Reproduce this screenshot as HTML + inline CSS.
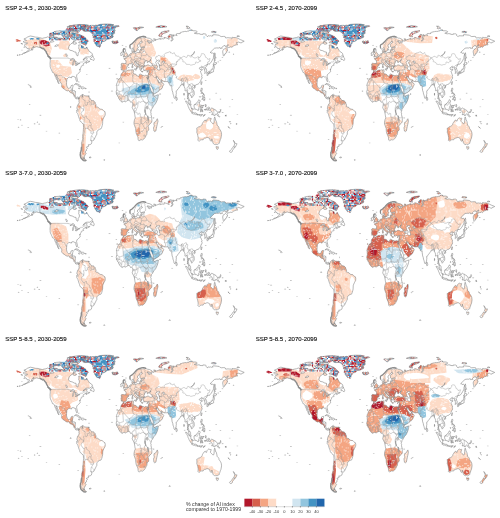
<!DOCTYPE html>
<html><head><meta charset="utf-8"><title>Aridity index change maps</title>
<style>
html,body{margin:0;padding:0;background:#fff;}
body{width:500px;height:518px;position:relative;overflow:hidden;}
.t{font-family:"Liberation Sans",Arial,sans-serif;font-size:6.05px;fill:#1a1a1a;stroke:#1a1a1a;stroke-width:0.16px;}
.l{font-family:"Liberation Sans",Arial,sans-serif;font-size:4.0px;fill:#333;}
.c{font-family:"Liberation Sans",Arial,sans-serif;font-size:5.2px;fill:#333;}
</style></head><body>
<svg width="500" height="518" viewBox="0 0 500 518" style="position:absolute;left:0;top:0">
<defs>
<clipPath id="l180"><rect x="-182" y="-90" width="362" height="180"/></clipPath>
<filter id="soft" x="-5%" y="-5%" width="110%" height="110%"><feGaussianBlur stdDeviation="0.9 0.55"/></filter>
<clipPath id="lc"><path d="M-168 65.6 -166 66.3 -162.5 66.9 -164.5 67.8 -166.8 68.3 -163 69.4 -161 70.3 -156.5 71.4 -152 70.9 -148.5 70.3 -144 70.1 -141 69.6 -137 69 -134 69.5 -131 69.8 -128 70.6 -125 69.5 -121 69.8 -117 69 -114 68.3 -110 68 -106 68.8 -102 67.8 -98 67.8 -96 68.5 -95 71.8 -93 71 -91.5 69.5 -89 68.6 -87 67.3 -85 68.5 -85 69.8 -82 69.5 -81.5 68 -83 66.3 -86 66.5 -87.5 64.5 -90.5 63.5 -92.5 62.2 -94 60.5 -94.5 58.8 -92.5 57 -88.5 56.5 -85 55.3 -82.3 55 -82 53 -80.5 51.3 -79 51.5 -78.8 54 -77 55.5 -76.8 57.5 -78 58.8 -77.5 60.5 -78 62.3 -75 62.3 -72 61.3 -70 60.8 -69.5 59 -67.5 58.3 -65 60.3 -63.5 58.5 -61.5 56.5 -60 55.3 -57.5 54.5 -56 53.3 -55.8 52.2 -57.5 51.4 -60 50.2 -64 50.2 -66.5 50 -68.5 49.2 -71 47 -69 48.3 -65 49.2 -64.3 48.6 -65 47.9 -64.8 47 -64 46.2 -61.5 45.7 -60 46 -60.5 45.3 -63.5 44.6 -65.8 43.6 -66.2 44.5 -64.5 45.3 -66 45.2 -67 44.7 -69 44 -70.3 43.6 -70.7 42.7 -70 41.8 -71.2 41.5 -72.8 41.2 -74 40.6 -74.1 39.8 -75 38.9 -75.8 37.2 -76.3 37.9 -76.1 36.9 -75.5 35.3 -76.5 34.7 -77.9 33.9 -79.2 33.2 -80.8 32.2 -81.4 30.7 -81 29.3 -80.1 26.8 -80.3 25.3 -81.1 25.1 -81.8 26.1 -82.7 27.7 -82.7 29 -84 30.1 -85.3 29.7 -86.5 30.4 -88.5 30.4 -89.4 30.1 -89.3 29.1 -90.5 29.1 -92.2 29.6 -94 29.7 -95.3 28.8 -97 27.7 -97.4 26 -97.6 24.3 -97.7 22.5 -97.3 21 -96.4 19.5 -95 18.5 -94.2 18.2 -92.5 18.6 -91.2 18.6 -90.7 19.7 -90.3 21 -88.5 21.5 -87 21.5 -86.9 20.8 -87.6 19.5 -87.9 18.2 -88.3 16.5 -88.9 15.8 -87.5 15.8 -85.7 16 -84.2 15.8 -83.2 15 -83.4 13.5 -83.7 11.5 -83.4 10.5 -82.4 9.5 -81.3 8.8 -79.5 9.6 -78.2 9.2 -77.4 8.6 -77.9 7.3 -78.4 8 -79.2 8.9 -80.2 8.1 -80.4 7.4 -81.5 7.8 -82.9 8.1 -83.7 9 -85 9.8 -85.7 10.5 -85.7 11.2 -87 12.5 -87.8 13.3 -89.3 13.5 -91.4 13.9 -92.3 14.5 -93.9 15.9 -94.7 16.2 -96.5 15.7 -98.2 16.2 -99.9 16.8 -101.7 17.8 -103.5 18.3 -104.9 19.4 -105.7 20.4 -105.3 21.8 -105.7 22.8 -106.8 23.8 -108.4 25.2 -109.4 25.9 -109.7 27 -110.7 27.8 -111.5 28.8 -112.4 29.6 -113.1 31.2 -114.8 31.8 -114.6 30.5 -113.3 29 -112.2 27.2 -110.8 24.9 -110.3 24.1 -109.9 22.9 -110.6 23.5 -112.1 24.8 -112.3 26.2 -114.2 27.6 -114.7 29.1 -116 30.5 -116.8 31.8 -117.2 32.6 -117.8 33.6 -118.5 34 -120.5 34.5 -121 35.6 -122 36.9 -122.5 37.7 -123 38.2 -123.8 39.5 -124.2 40.5 -124.2 42 -124.4 43.3 -124 46.2 -124.1 47.5 -124.7 48.4 -123 48.1 -122.5 48.8 -123.2 49.4 -125 50.3 -127.5 51.2 -128 52.3 -130 54.2 -130.4 55.5 -132 56.5 -133.5 58 -135 59 -136.5 58.2 -138.5 59.2 -140.5 59.8 -143 60 -146 60.6 -148 60.2 -150 59.6 -151.7 59.2 -150.4 61.2 -152.5 60.2 -154 59 -154 58 -156 57 -158.5 56 -161 55.3 -163.5 54.8 -162 55.8 -159 57 -157.5 58.5 -159 58.7 -161.5 58.6 -162.5 60 -164.7 60.4 -165.3 61.3 -165.7 62.3 -164.5 63.2 -161.5 63.6 -160.9 64.5 -163 64.5 -165 64.5 -166.5 64.7 -168 65.6ZM-77.4 8.6 -76.9 8.4 -76.2 9.5 -75.6 10.5 -74.8 11 -73.6 11.3 -72.2 11.9 -71.3 12.4 -71.8 11.4 -71.9 10.2 -71.2 9.1 -71.5 10.9 -70.2 11.6 -69.7 11.5 -68.3 10.8 -66.2 10.6 -64.3 10.5 -62 10.7 -61.8 9.8 -60.7 8.5 -59.8 8.3 -58.5 7.1 -57.2 6 -55.5 5.9 -54 5.8 -52.5 5 -51.5 4.2 -51 3 -50 1.8 -49.9 1 -50.5 0 -48.5 -0.7 -47.8 -0.6 -46 -1.1 -44.5 -2.4 -42.5 -2.8 -41 -2.9 -39.5 -3.1 -38.3 -3.9 -37 -4.9 -35.5 -5.2 -34.9 -7 -35.1 -8.8 -35.8 -9.7 -37.2 -11.2 -38.1 -12.6 -38.9 -13.6 -39.1 -15.5 -39.2 -17.5 -39.8 -19.3 -40.6 -21.1 -41.8 -22.8 -43.2 -23 -44.6 -23.3 -46.5 -24 -47.8 -25 -48.6 -26 -48.6 -28.2 -49.6 -29.3 -50.6 -30.6 -51.6 -31.8 -52.6 -33.2 -53.6 -34.3 -54.9 -34.9 -56.2 -34.9 -57.6 -34.4 -58.4 -34 -58.3 -34.8 -57.2 -35.5 -56.8 -36.5 -57.6 -38.1 -59.2 -38.7 -61.3 -39 -62.3 -38.8 -62.1 -40.6 -65 -41 -65 -42.1 -63.8 -42.5 -64.4 -42.9 -65.3 -43.5 -65.2 -44.7 -66.6 -45 -67.6 -46.3 -66.6 -47.1 -65.9 -47.8 -67.1 -48.7 -67.8 -49.9 -68.9 -50.3 -69.2 -51.6 -68.6 -52.3 -69.4 -52.5 -70.5 -53.1 -70.9 -53.6 -72.2 -53.3 -71.1 -54.1 -69 -54.6 -67.5 -54.9 -66.5 -55 -65.3 -54.7 -66.5 -54.4 -68.4 -53.1 -68.6 -52.6 -70 -52.4 -71.8 -53.5 -73.5 -53.2 -74.7 -52.2 -75.3 -50.5 -75.5 -48.5 -74.7 -46.7 -75.6 -46.6 -74.3 -45.7 -73.2 -44.3 -73.6 -43.4 -73.8 -42.2 -73.6 -41.5 -73.2 -39.2 -73.5 -37.3 -72.6 -35.5 -71.7 -33.5 -71.4 -32.4 -71.5 -30.4 -71.4 -28.8 -70.9 -27.6 -70.6 -25.5 -70.4 -23.6 -70.1 -21.4 -70.4 -18.3 -71.4 -17.7 -72.5 -16.6 -74 -15.7 -75.2 -15.3 -76.1 -14.3 -76.4 -13.2 -77.1 -12.1 -78.1 -10.4 -79.2 -8 -79.8 -7.2 -81.2 -6.1 -80.9 -5.6 -81.3 -4.2 -80.3 -3.4 -79.8 -2.5 -80.9 -2.2 -80.7 -0.9 -80.1 0.3 -80 1 -79 1.4 -78.6 2.4 -77.9 2.7 -77.1 3.9 -77.5 4.7 -77.3 6.6 -77.9 7.2 -77.4 8.6ZM-5.9 35.8 -5.3 35.9 -4.4 35.2 -2.2 35.1 -1.2 35.7 0.5 36.3 1.5 36.6 3.2 36.8 5.3 36.7 7 37.1 8.4 36.9 9.5 37.3 10.2 37.2 11.1 36.9 10.6 36.4 10.8 35.7 11.1 35.2 10.3 34.3 10.1 33.8 11.1 33.3 12.1 32.9 13.1 32.9 15.2 32.3 15.7 31.4 17.5 30.9 19 30.3 19.6 30.5 20.1 31.2 19.9 31.8 20.6 32.6 21.5 32.9 22.9 32.6 23.2 32.2 24.9 31.9 25.2 31.6 27 31.4 28.9 30.9 30.1 31.5 31 31.6 32.2 31.3 33.8 31 34.3 31.2 34.9 29.5 34.4 28.3 34.2 27.8 33.9 27.6 32.7 29.9 32.3 29.8 33.1 28.4 33.9 27.2 34.5 26 35.5 24.2 35.7 23.2 36.9 22 37.2 21 37.1 19.8 37.5 18.6 38.4 18 38.9 16.8 39.3 15.9 39.8 15.4 41.2 14.5 42.3 13.3 43.3 12.4 43.1 11.5 44.6 10.4 46.6 10.8 48.9 11.4 50.3 11.7 51.2 11.8 51.1 10.6 50.8 10.3 50.6 9.2 49.5 6.8 47.7 4.2 46.6 2.9 45.6 2.1 44.1 1.1 42.8 -0.3 41.8 -1.4 41 -2.1 40.1 -2.8 39.6 -4.3 39.2 -4.7 38.7 -6 39.4 -6.8 39.2 -8 39.3 -8.5 39.9 -10.1 40.5 -10.8 40.4 -11.8 40.6 -14.2 40.7 -14.7 40.1 -16.1 39.4 -16.7 37.4 -17.6 36.3 -18.7 34.8 -19.8 34.7 -20.5 35.2 -21.3 35.4 -22.1 35.6 -23.7 35.4 -24.1 33 -25.4 32.6 -25.7 32.9 -26.2 32.6 -27.5 32.2 -28.8 31.3 -29.4 30.1 -31.1 28.9 -32.2 28.2 -32.8 26.4 -33.6 25.7 -34 24.7 -34 23.6 -33.8 22.6 -33.9 21.5 -34.3 20.1 -34.8 19.6 -34.8 19.2 -34.5 18.9 -34.4 18.4 -34.1 18.4 -33.3 18.2 -32.4 18.2 -31.7 17.6 -30.7 17.1 -29.9 16.3 -28.6 15.6 -27.8 15.2 -27.1 14.7 -25.4 14.4 -22.7 14.3 -22.1 13.4 -20.9 12.8 -19.7 11.8 -18.1 11.7 -17.3 11.6 -16.7 12.2 -14.4 12.5 -13.5 13.6 -12 13.7 -11.3 13.2 -9.8 13 -9 12.9 -8.4 12.3 -6.1 12.2 -5.8 11.9 -5 11.1 -4 10.1 -3 9.4 -2.1 8.8 -1.1 9 -0.5 9.3 0.3 9.5 1 9.8 2.3 9.4 3.7 8.9 4 8.5 4.5 7.5 4.4 7 4.4 6 4.3 5.4 5.1 4.9 6 4.3 6.3 3.6 6.3 2.7 6.3 1.9 6.1 1.1 5.9 -0.5 5.3 -1.1 5 -2 4.7 -2.9 5 -3.3 5 -4 5.2 -4.6 5.2 -5.8 5 -7.5 4.3 -7.7 4.4 -9 4.8 -10.8 6.1 -11.4 6.8 -12.4 7.3 -12.9 7.8 -13.2 8.9 -13.7 9.5 -14.3 10 -14.6 10.2 -15.1 11 -15.7 11.5 -16.3 11.8 -16.6 12.2 -16.8 13.2 -16.7 13.6 -17.1 14.4 -17.6 14.7 -17.2 14.9 -16.7 15.6 -16.5 16.1 -16.1 17.5 -16.3 19.1 -16.4 19.6 -16.3 20.1 -16.5 20.6 -17.1 21 -16.8 21.3 -16.6 22.2 -16.3 22.7 -16 23.7 -15.4 24.4 -15.1 24.5 -14.8 25.1 -14.4 26.3 -13.8 26.6 -13.1 27.7 -12.6 28 -11.7 28.1 -10.9 28.8 -10.4 29.1 -9.6 29.9 -9.8 31.2 -9.4 32 -8.7 33.2 -7.7 33.7 -6.9 34.1 -6.2 35.1 -5.9 35.8ZM49.5 -12.5 50.1 -13.6 50.5 -15.2 50.2 -16 49.8 -17.1 49.4 -18 48.5 -20.5 47.9 -22.4 47.1 -24.9 45.4 -25.6 44 -25 43.7 -23.6 43.3 -22.1 43.4 -21.3 44.4 -20.1 44.5 -19.4 44 -18.3 44.1 -17 44.4 -16.2 46.3 -15.8 47.7 -14.6 48 -14.1 48.8 -13.1 49.5 -12.5ZM-5.6 36 -6.3 36.6 -7.5 37.2 -9 37 -8.8 38.3 -9.5 38.7 -9.4 39.4 -8.8 40.8 -8.8 42 -9.3 43 -8 43.7 -6 43.6 -4 43.4 -1.8 43.4 -1.3 44.6 -1.2 46 -2.2 47.1 -4.5 47.9 -4.7 48.6 -3 48.8 -1.6 48.6 -1.6 49.7 -0.2 49.3 1.3 50.1 1.6 50.9 2.5 51.1 3.6 51.4 4.3 52 4.7 52.9 5.4 53.4 7 53.5 8 53.5 8.5 53.9 8.7 55.1 8.2 55.9 8.1 56.8 8.8 57.1 10.6 57.7 10.3 57 10.9 56.4 10.1 55.6 9.6 55.1 10.9 54.4 11 54 12.3 54.2 13.6 54.2 14.2 53.9 16 54.3 17.3 54.7 18.6 54.7 19.5 54.4 19.9 54.9 21.2 55.2 21.1 56 21.1 56.8 21.6 57.4 22.6 57.8 23.3 57 24.1 57 24.4 57.9 23.5 58.6 23.4 59.2 24.6 59.5 26 59.6 28 59.5 29.1 60 28 60.5 26.3 60.4 24.5 60.1 22.9 59.8 22.3 60.4 21.3 60.7 21.5 61.7 21.1 62.6 21.5 63.2 22.4 63.8 24.7 64.9 25.4 65.1 25.3 65.5 24.3 65.8 23.9 66 22.2 65.7 21.2 65 21.4 64.4 19.8 63.6 17.8 62.7 17.1 61.3 17.8 60.6 18.8 60.1 17.9 59 16.8 58.7 16.4 57 15.9 56.1 14.7 56.2 14.1 55.4 12.9 55.4 12.6 56.3 11.8 57.4 11 58.9 10.4 59.5 8.4 58.3 7 58.1 5.7 58.6 5.3 59.7 5 62 5.9 62.6 8.6 63.5 10.5 64.5 12.4 65.9 14.8 67.8 16.4 68.6 19.2 69.8 21.4 70.3 23 70.2 24.6 71 26.4 71 28.2 71.2 31.3 70.5 30 70.2 31.1 69.6 32.1 69.9 33.8 69.3 36.5 69.1 40.3 67.9 41.1 67.5 41.1 66.8 40 66.3 38.4 66 33.9 66.8 32.5 66.1 34.8 65.9 34.9 64.4 37 63.8 37.1 64.3 36.5 64.8 37.2 65.1 39.6 64.5 40.4 64.8 39.8 65.5 42.1 66.5 43.9 66.1 44.5 66.8 43.7 67.4 44.2 68 43.5 68.6 46.3 68.3 46.8 67.7 45.6 67.6 45.6 67 47 66.9 48 67.7 50.2 68 53.7 68.9 54.5 68.8 53.5 68.2 54.7 68.1 55.4 68.4 57.3 68.5 58.8 68.9 59.9 68.3 61.1 68.9 60 69.5 60.6 69.9 63.5 69.5 64.9 69.2 68.5 68.1 69.2 68.6 68.2 69.1 68.1 69.4 66.9 69.5 67.3 70 66.7 70.7 66.7 71 68.5 71.9 69.2 72.8 69.9 73 72.6 72.8 72.8 72.2 71.8 71.4 72.5 71.1 72.8 70.4 72.6 69 73.7 68.4 73.2 67.7 71.3 66.3 72.4 66.2 72.8 66.5 73.9 66.8 74.2 67.3 75 67.8 74.5 68.3 74.9 69 73.8 69.1 73.6 69.6 74.4 70.6 73.1 71.4 74.9 72.1 74.7 72.8 75.2 72.9 75.7 72.3 75.3 71.3 76.4 71.2 75.9 71.9 77.6 72.3 79.7 72.3 81.5 71.8 80.6 72.6 80.5 73.6 82.3 73.9 84.7 73.8 86.8 73.9 86 74.5 87.2 75.1 88.3 75.1 90.3 75.6 92.9 75.8 93.2 76 95.9 76.1 96.7 75.9 98.9 76.4 100.8 76.4 101 76.9 102 77.3 104.4 77.7 106.1 77.4 104.7 77.1 106.9 77 107.2 76.5 108.2 76.7 111.1 76.7 113.3 76.2 114.1 75.8 113.9 75.3 112.8 75 110.2 74.5 109.4 74.2 110.6 74 112.1 73.8 113 74 113.5 73.3 114 73.6 115.6 73.8 118.8 73.6 119 73.1 123.2 73 123.3 73.7 125.4 73.6 127 73.6 128.6 73 129.1 72.4 128.5 72 129.7 71.2 131.3 70.8 132.3 71.8 133.9 71.4 135.6 71.7 137.5 71.3 138.2 71.6 139.9 71.5 139.1 72.4 140.5 72.8 149.5 72.2 150.4 71.6 153 70.8 157 71 159 70.9 159.8 70.5 159.7 69.7 160.9 69.4 162.3 69.6 164.1 69.7 165.9 69.5 167.8 69.6 169.6 68.7 170.8 69 170 69.7 170.5 70.1 173.6 69.8 175.7 69.9 178.6 69.4 180 69 182 68.4 184.5 67.6 187.5 66.9 190.3 66.1 188.5 65.5 187 65.4 186 64.4 183.5 64.6 181.5 65.3 180 64.9 178.7 64.5 177.4 64.6 178.3 64.1 178.9 63.3 179.4 63 179.2 62.3 177.4 62.5 174.6 61.8 173.7 61.7 172.2 61 170.7 60.3 170.3 59.9 168.9 60.6 166.3 59.8 165.8 60.2 164.9 59.7 163.5 59.9 163.2 59.2 162 58.2 162 57.8 163.2 57.6 163.1 56.2 162.1 56.1 161.7 55.3 162.1 54.9 160.4 54.3 160 53.2 158.5 53 158.2 51.9 156.8 51 156.4 51.7 156 53.2 155.4 55.4 155.9 56.8 156.8 57.4 156.8 57.8 158.4 58.1 160.2 59.3 161.9 60.3 163.7 61.1 164.5 62.6 163.3 62.5 162.7 61.6 160.1 60.5 159.3 61.8 156.7 61.4 154.2 59.8 155 59.1 152.8 58.9 151.3 58.8 151.3 59.5 149.8 59.7 148.5 59.2 145.5 59.3 142.2 59 139 57.1 135.1 54.7 136.7 54.6 137.2 54 138.2 53.8 138.8 54.3 139.9 54.2 141.3 53.1 141.4 52.2 140.6 51.2 140.5 50 140.1 48.4 138.6 47 138.2 46.3 136.9 45.1 135.5 44 134.9 43.4 133.5 42.8 132.9 42.8 132.3 43.3 130.8 42.2 130.8 42.2 130.4 42.3 130 41.9 129.7 41 129.7 40.9 129.2 40.7 128.6 40.2 128 39.9 127.5 39.8 127.5 39.3 127.4 39.2 128.3 38.6 128.5 37.7 129.2 37.4 129.5 36.8 129.5 35.6 129.1 35.1 128.2 35 127.4 34.5 126.5 34.4 126.4 34.9 126.6 35.7 126.1 36.7 126.9 36.9 126.2 37.7 125.7 37.9 125 37.7 124.7 38.1 125.2 38.7 125.1 38.8 125.4 39.4 125.3 39.6 124.7 39.7 124.3 39.9 122.9 39.6 122.1 39.2 121.1 38.9 121.6 39.4 121.4 39.8 122.2 40.4 121.6 40.9 120.8 40.6 119.6 39.9 119 39.3 118 39.2 117.5 38.7 118.1 38.1 118.9 37.9 118.9 37.4 119.7 37.2 120.8 37.9 121.7 37.5 122.4 37.5 122.5 36.9 121.1 36.7 120.6 36.1 119.7 35.6 119.2 34.9 120.2 34.4 120.6 33.4 121.2 32.5 121.9 31.7 121.9 30.9 121.3 30.7 121.5 30.1 122.1 29.8 121.9 29 121.7 28.2 121.1 28.1 120.4 27.1 119.6 25.7 119 25 118.7 24.5 117.3 23.6 115.9 22.8 114.8 22.7 114.2 22.2 113.8 22.5 113.2 22.1 111.8 21.6 110.8 21.4 110.4 20.3 109.9 20.3 109.6 21 109.9 21.4 108.5 21.7 108.1 21.6 106.7 20.7 105.9 19.8 105.7 19.1 106.4 18 107.4 16.7 108.3 16.1 108.9 15.3 109.3 13.4 109.2 11.7 108.4 11 107.2 10.4 106.4 9.5 105.2 8.6 104.8 9.2 105.1 9.9 104.3 10.5 103.5 10.6 103.1 11.2 102.6 12.2 102.3 13.4 101 12.7 101 13.4 100.1 13.4 100 12.3 99.2 10 99.2 9.2 99.9 9.2 100.3 8.3 100.5 7.4 101 6.9 101.6 6.7 102.1 6.2 103 5.5 103.4 4.9 103.4 4.2 103.3 3.7 103.5 2.8 103.9 2.5 104.2 1.6 104.2 1.3 103.5 1.2 102.6 2 101.4 2.8 101.3 3.3 100.7 3.9 100.6 4.8 100.2 5.3 100.3 6 100.1 6.5 99.7 6.8 99.5 7.3 99 7.9 98.5 8.4 98.3 7.8 98.2 8.4 98.3 9 98.6 9.9 98.5 10.7 98.8 11.4 98.4 12 98.5 13.1 98.1 13.6 97.8 14.8 97.6 16.1 97.2 16.9 96.5 16.4 95.4 15.7 94.8 15.8 94.2 16 94.5 17.3 94.3 18.2 93.5 19.4 93.7 19.7 93.1 19.9 92.4 20.7 92.1 21.2 92 21.7 91.8 22.2 91.4 22.8 90.5 22.8 90.6 22.4 90.3 21.8 89.8 22 89.7 21.9 89.4 22 89 22.1 88.9 21.7 88.2 21.7 87 21.5 87 20.7 86.5 20.2 85.1 19.5 84 18.3 83.2 17.7 82.2 17 82.2 16.6 81.7 16.3 80.8 15.9 80.3 15.9 80 15.1 80.2 13.8 80.3 13 79.9 12.1 79.9 10.4 79.3 10.3 78.9 9.6 79.2 9.2 78.3 8.9 77.9 8.3 77.5 8 76.6 8.9 76.1 10.3 75.7 11.3 75.4 11.8 74.9 12.7 74.6 14 74.4 14.6 73.5 16 73.1 17.9 72.8 19.2 72.8 20.4 72.6 21.4 71.2 20.8 70.5 20.9 69.2 22.1 69.6 22.5 69.3 22.8 68.2 23.7 67.4 23.9 67.1 24.7 66.4 25.4 64.5 25.2 62.9 25.2 61.5 25.1 59.6 25.4 58.5 25.6 57.4 25.7 57 27 56.5 27.1 55.7 27 54.7 26.5 53.5 26.8 52.5 27.6 51.5 27.9 50.9 28.8 50.1 30.1 49.6 30 48.9 30.3 48.6 29.9 48 30 48.2 28.5 48.8 27.7 49.3 27.5 49.5 27.1 50.2 26.7 50.1 25.9 50.2 25.6 50.5 25.3 50.7 25.5 51 26 51.3 26.1 51.6 25.8 51.6 25.2 51.4 24.6 51.8 24 52.6 24.2 54 24.1 54.7 24.8 55.4 25.4 56.1 26.1 56.4 26.4 56.5 26.3 56.4 25.9 56.3 25.7 56.4 24.9 56.9 24.2 57.4 23.9 58.1 23.7 58.7 23.6 59.5 22.7 59.8 22.5 59.8 22.3 59.3 21.4 58.9 21.1 58.5 20.4 58 20.5 57.8 20.2 57.7 19.7 57.8 19.1 57.7 18.9 57.2 18.9 56.6 18.6 56.5 18.1 56.3 17.9 55.7 17.9 55.3 17.6 55.3 17.2 54.8 16.9 54.2 17 53.6 16.7 53.1 16.7 52.4 16.4 52.2 15.9 52.2 15.6 51.2 15.2 49.6 14.7 48.7 14 48.2 13.9 47.9 14 47.4 13.6 46.7 13.4 45.9 13.3 45.6 13.3 45.4 13 45.1 12.9 45 12.7 44.5 12.7 44.2 12.6 43.5 12.6 43.2 13.2 43.3 13.8 43.1 14.1 42.9 14.8 42.6 15.2 42.8 15.3 42.7 15.7 42.8 15.9 42.8 16.3 42.6 16.8 42.3 17.1 42.3 17.5 41.8 17.8 41.2 18.7 40.9 19.5 40.2 20.2 39.8 20.3 39.1 21.3 39 22 39.1 22.6 38.5 23.7 38 24.1 37.5 24.3 37.2 24.9 37.2 25.1 36.9 25.6 36.6 25.8 36.2 26.6 35.6 27.4 35.1 28.1 34.6 28.1 34.8 28.6 34.8 29 35 29.4 34.3 31.2 34.6 31.5 35 32.8 35.1 33.1 35.5 33.9 36 34.6 35.9 35.4 36.1 35.8 35.8 36.3 36.2 36.7 35.6 36.6 34.7 36.8 34 36.2 32.5 36.1 31.7 36.6 30.6 36.7 30.4 36.3 29.7 36.1 28.7 36.7 27.6 36.7 27 37.7 26.3 38.2 26.8 39 26.2 39.5 26.2 40.1 27.3 40.4 28.8 40.5 29.2 41.2 31.1 41.1 32.3 41.7 33.5 42 35.2 42 36.9 41.3 38.3 40.9 39.5 41.1 40.4 41 41.6 41.5 41.7 42 41.5 42.6 40.9 43 40.3 43.1 40 43.4 38.7 44.3 37.5 44.7 36.7 45.2 37.4 45.4 38.2 46.2 37.7 46.6 39.1 47.3 39.1 47 38.2 46.8 37.5 46.4 35.8 45.7 35 45.7 35 45 34 44.5 33.3 44.6 33.5 45 32.6 45.3 33.6 45.9 33.3 46.1 31.7 46.3 31.7 46.7 30.7 46.6 30.4 46 29.6 45.3 29.6 45 29.1 44.8 28.8 44.9 28.6 43.7 28 43.3 27.7 42.6 28 42 28.8 41.1 27.6 41 26.4 40.2 26 40.8 25.4 41 24.4 40.9 23.7 40.7 24 40.4 23.4 40 22.8 40.5 22.6 40.3 22.8 39.7 23.4 39.2 23 39 23.5 38.5 24 38.2 24 37.7 23.1 37.9 23.4 37.4 22.8 37.3 23.2 36.4 22.5 36.4 21.7 36.8 21.3 37.6 21.1 38.3 20.7 38.8 20.2 39.3 20.2 39.6 20 39.7 20 39.9 19.4 40.3 19.3 40.7 19.4 41.9 18.7 42.7 17.5 42.8 16.9 43.2 16 43.5 15.2 44.2 15.4 44.3 14.9 45.1 14.3 45.2 13.9 44.8 13.7 45.1 13.7 45.5 13.9 45.6 13.1 45.7 12.3 45.4 12.4 44.9 12.3 44.6 12.6 44.1 13.5 43.6 14 42.8 15.1 42 15.9 42 16.2 41.7 15.9 41.5 17.5 40.9 18.4 40.4 18.5 40.2 18.3 39.8 17.7 40.3 16.9 40.4 16.4 39.8 17.2 39.4 17.1 38.9 16.6 38.8 16.1 38 15.7 37.9 15.7 38.2 15.9 38.8 16.1 39 15.7 40 15 40.2 14.1 40.9 13.6 41.2 12.9 41.3 12.1 41.7 11.2 42.4 10.5 42.9 10.2 43.9 9.7 44 8.9 44.4 8.4 44.2 7.9 43.8 7.4 43.7 6.5 43.1 4.6 43.4 3.1 43.1 3 42.5 3 41.9 2.1 41.2 0.8 41 0.7 40.7 0.1 40.1 -0.3 39.3 0.1 38.7 -0.5 38.3 -0.7 37.6 -1.4 37.4 -2.1 36.7 -4.4 36.7 -5 36.3 -5.6 36ZM113.3 -22.1 113.5 -23.5 113.7 -24.7 113.4 -26.3 114.2 -27.5 115 -29.5 115.7 -31.6 115.7 -33.3 115 -34.3 116.6 -35 118 -35.1 119.8 -34 121.4 -33.8 123.7 -33.9 124.2 -33 125.1 -32.7 126.1 -32.2 127.1 -32.3 129.5 -31.6 131.3 -31.5 133 -32.1 134.3 -32.6 135.2 -34.5 135.6 -35 136.8 -35.3 137.7 -35.1 137.9 -34.4 137.5 -33.9 137.8 -32.9 138.2 -33.3 138.5 -34.4 138.2 -34.9 139.1 -35.5 139.6 -37 140.6 -38 141.9 -38.5 143.6 -38.8 144.6 -38.1 145.1 -38.4 146.3 -39 147.4 -38.2 148.9 -37.8 150 -37.4 150.1 -36.4 150.8 -35.3 151.6 -33.6 152.5 -32.4 153 -30.9 153.6 -28.6 153.1 -26.1 152.9 -25.7 151.6 -24.1 150.9 -23.5 149.5 -22.3 149.2 -21.2 148.5 -20.4 146.4 -19 146 -17.4 145.3 -15.4 144.7 -14.3 143.6 -14 143.6 -12.8 142.5 -10.7 142.1 -11.4 141.7 -12.4 141.6 -14 141.5 -15.8 141.1 -16.8 140.5 -17.6 139.3 -17.4 137.3 -16.2 135.8 -15.2 135.4 -14.7 136.3 -13.3 136.8 -12.2 136.5 -11.9 135.3 -12.2 133.6 -11.8 132.6 -11.6 131.6 -12.1 130.2 -13.1 129.6 -14.1 129.4 -14.9 128.1 -14.9 127.2 -13.8 126 -14.2 125.1 -14.6 124.4 -15.6 123.4 -16.3 122.5 -17.3 122.2 -18.2 121.3 -19.1 119.8 -19.9 118.6 -20.3 117.4 -20.7 116.4 -20.6 115.5 -21.2 114.6 -21.8 113.8 -22.2 113.3 -22.1ZM144.7 -40.7 146.4 -41.1 148.3 -40.9 148.3 -42 147.9 -43.2 146.9 -43.6 146 -43.5 145.4 -42.7 145 -42 144.7 -40.7ZM172.7 -34.4 173.6 -35 174.6 -36.2 175.3 -37.2 175.9 -37.5 177.4 -37.9 178.5 -37.7 178.1 -38.6 177.9 -39.2 177 -39.9 176.5 -40.6 175.9 -41.2 175.2 -41.7 174.7 -41.3 175.2 -40.5 174.6 -39.9 173.8 -39.5 173.9 -39 174.6 -38.8 174.7 -37.4 174.3 -36.7 173.8 -36.1 173.1 -35.2 172.7 -34.4ZM172.8 -40.5 173.7 -40.9 174.3 -41.4 174.2 -42.2 173.2 -43 172.7 -43.5 171.4 -44.4 170.8 -45.9 169.8 -46.4 168.4 -46.6 167 -46.2 166.5 -45.8 167.1 -45.1 168.4 -44.1 170.2 -43.1 170.9 -42.4 171.6 -41.8 172.1 -40.9 172.8 -40.5ZM131 -1.4 131.9 -0.7 133.3 -0.7 134.2 -1.1 134.4 -2.8 135.5 -3.4 136.3 -2.3 137.4 -1.7 138.3 -1.7 139.9 -2.4 141 -2.6 142.7 -3.3 144.6 -3.9 145.8 -4.9 146 -5.5 147.6 -6.1 147.9 -6.6 147 -7.4 148.1 -8 148.7 -9.1 149.7 -9.6 150.8 -10.3 150 -10.7 148.9 -10.3 147.1 -9.5 146 -8.1 144.7 -7.6 143.9 -7.9 143.3 -8.2 143.4 -9 142.6 -9.3 141 -9.1 140.1 -8.3 139.1 -8.1 138.9 -8.4 137.6 -8.4 138 -7.6 138.7 -7.3 138.4 -6.2 137.9 -5.4 136 -4.5 135.2 -4.5 133.7 -3.5 133 -4.1 132.8 -3.7 132 -2.8 133.1 -2.5 132.2 -2.2 131 -1.4ZM109.1 1.5 109.7 2 110.4 1.7 111.2 1.9 111.4 2.7 113 3.1 113.7 3.9 114.9 4.8 115.5 5.4 116.2 6.1 116.7 6.9 117.7 6.4 118.6 5.6 119.2 5.4 118.4 5 118.6 4.5 117.9 4.1 117.8 2.8 118.9 1.1 118 0.8 117.5 0.1 117.5 -0.8 116.6 -1.5 116.5 -2.5 116.1 -4 114.9 -4.1 114.5 -3.5 113.8 -3.4 113.3 -3.1 111.7 -3 111.3 -2.9 110.2 -2.9 110.1 -1.6 109.6 -1.3 109.1 -0.5 109 0.4 109.1 1.5ZM95.3 5.5 96.4 5.3 97.5 5.2 98.4 4.3 99.7 3.2 100.6 2.1 101.7 2.1 102.5 1.4 103.1 0.6 103.8 0 103.4 -0.7 104 -1.1 104.4 -1.1 104.9 -2.3 105.6 -2.4 106.1 -3.1 105.9 -4.3 105.8 -5.9 104.7 -5.9 103.9 -5 102.6 -4.2 102.2 -3.6 101.4 -2.8 100.9 -2.1 100.1 -0.7 99.3 0.2 99 1 98.6 1.8 97.7 2.5 97.2 3.3 96.4 3.9 95.4 5 95.3 5.5ZM105.2 -6.9 106.1 -6 107.3 -6 108.3 -6.3 108.5 -6.4 110.5 -6.9 110.8 -6.5 112.6 -6.9 112.9 -7.6 114.5 -7.8 114.5 -8.8 113.5 -8.3 112.6 -8.4 111.5 -8.3 110.6 -8.1 109.4 -7.7 108.7 -7.6 108.3 -7.8 106.5 -7.4 106.3 -6.9 105.4 -6.9 105.2 -6.9ZM125.1 1.6 124.4 0.4 123.7 0.2 122.7 0.4 121 0.4 120.2 0.2 120.1 -0.5 120.9 -1.4 121.5 -1 123.3 -0.6 123.3 -1.1 122.5 -0.9 121.5 -1.9 122.5 -3.2 122.3 -3.5 123.2 -4.7 123.2 -5.3 122.6 -5.6 122.2 -5.3 122.7 -4.5 121.7 -4.9 121.5 -4.6 121.6 -4.2 120.9 -3.6 121 -2.6 120.3 -2.9 120.4 -5.5 119.8 -5.7 119.4 -5.4 119.7 -4.5 119.5 -3.5 119.1 -3.5 118.8 -2.8 119.2 -2.1 119.3 -1.4 119.8 0.2 120 0.6 120.9 1.3 121.7 1 122.9 0.9 124.1 0.9 125.1 1.6ZM120.8 18.5 121.3 18.5 122.2 18.5 122.3 17.1 121.7 16 121.5 15.1 121.7 14.3 122.3 14.2 123.1 13.9 123.9 13.2 124.1 12.5 123.3 13 122.5 13.7 121.4 13.9 120.6 14.3 120.6 14.4 120.1 15 119.9 15.4 119.9 16.4 120.3 16 120.4 17.6 120.8 18.5ZM126.4 8.4 126.5 7.8 126.2 6.3 125.8 7 125.4 6.8 125.7 6.1 125.4 5.6 124.2 6.2 123.9 6.9 124.2 7.4 123.6 7.8 123.3 7.4 122.8 7.5 122.1 6.9 121.9 7.2 122.3 8 123.5 8.7 123.8 8.2 124.6 8.5 124.8 9 125.4 9 125.4 9.8 126.2 9.3 126.4 8.4ZM122 10.6 122.9 11 123.5 10.9 124.1 11.3 124.3 12.6 125 12.5 125.8 11 125 10 124 9.6 123.2 9.2 122.5 9.5 122 10.6ZM141.4 41.4 141.9 40 142 39.2 141.5 38.3 141 37.7 140.6 36.3 140.8 35.8 140.3 35.1 139.9 35.3 139.7 34.9 139 34.7 138.2 34.6 137.2 34.6 136.9 35 136.7 34.3 135.8 33.5 135.1 34 135.1 34.6 134.6 34.8 133.3 34.4 132.2 34 131 34 130.9 34.4 131.9 34.8 132.6 35.4 134.6 35.7 135.7 35.5 136.7 36.7 136.9 37.3 137.4 36.8 138.9 37.8 139.4 38.2 140 39.4 140.1 40.8 140.3 41.2 141.4 41.4ZM130.9 33.9 131.6 33.3 132 33.1 131.3 31.5 130.7 31 130.2 31.4 130.4 32.3 129.8 32.6 129.4 33.3 130.4 33.6 130.9 33.9ZM132.4 33.5 133.9 34.4 134.6 34.2 134.8 33.8 134.2 33.2 133.8 33.5 133 32.7 132.4 33.5ZM141.4 41.4 140.6 41.6 140 41.9 140.3 42.5 139.8 42.6 140.3 43.3 141.4 43.4 141.6 44.8 142 45.6 143.9 44.2 145.3 44.4 145.5 43.3 144.1 42.9 143.2 42 141.6 42.7 141 42 141.4 41.4ZM143.6 50.7 144.7 49 143.2 49.3 142.6 47.9 143.5 46.8 142.7 46.7 142.1 46 141.9 46.8 142 47.8 141.9 48.9 142.1 49.6 142.2 51 141.6 52.2 141.7 53.3 142.6 53.8 142.2 54.2 142.7 54.4 143.3 53.1 143.3 51.8 143.6 50.7ZM121.8 24.4 121.2 22.8 120.7 22 120.2 22.8 120.1 23.6 120.7 24.5 121.5 25.3 122 25 121.8 24.4ZM110.3 18.7 109.5 18.2 108.7 18.5 108.6 19.2 109.1 19.8 110.2 20.1 110.8 20.1 111 19.7 110.6 19.3 110.3 18.7ZM81.8 7.5 81.6 6.5 81.2 6.2 80.3 6 79.9 6.8 79.7 8.2 80.1 9.8 80.8 9.3 81.3 8.6 81.8 7.5ZM-5.7 50 -4.5 50.3 -3.4 50.6 -1.9 50.6 -0.8 50.8 1 51 1.4 51.3 0.6 51.6 1.7 52.7 0.6 52.9 0.2 53.4 -0.2 54.2 -1.1 54.6 -1.6 55.6 -2.5 56 -3 56 -2 56.7 -1.8 57.6 -3.1 57.7 -4 57.6 -3.1 58.6 -5 58.6 -5.6 57.5 -5.6 56.3 -6.2 56.3 -5.6 55.3 -5 55.1 -4.8 54.8 -3.6 54.6 -3.1 53.9 -3 53.4 -4.2 53.2 -4.6 52.8 -4.1 52.4 -5.3 51.9 -4.2 51.6 -3.4 51.4 -5.3 51 -5.7 50ZM-6.8 52.3 -6.2 53.9 -5.6 54.6 -6.2 55.2 -7.6 55.3 -8.3 55.2 -8.5 54.3 -10.1 54.1 -9.8 53.4 -9.4 52.9 -10.2 52.1 -9.9 51.7 -8.6 51.6 -7.6 52 -6.8 52.3ZM-14.5 66.5 -14.7 65.8 -13.6 65.1 -14.9 64.4 -18.7 63.5 -22.8 64 -21.8 64.4 -24 64.9 -22.2 65.1 -22.2 65.4 -24.3 65.6 -23.7 66.3 -22.1 66.4 -20.6 65.7 -19.1 66.3 -17.8 66 -16.2 66.5 -14.5 66.5ZM-46.8 82.6 -43.4 83.2 -35.1 83.6 -27.1 83.5 -20.8 82.7 -22.7 82.3 -26.5 82.3 -31.9 82.2 -31.4 82 -27.9 82.1 -24.8 81.8 -22.9 82.1 -22.1 81.7 -23.2 81.2 -20.6 81.5 -15.8 81.9 -12.8 81.7 -12.2 81.3 -16.3 80.6 -20 80.2 -17.7 80.1 -18.9 79.4 -19.7 78.8 -19.7 77.6 -18.5 77 -20 76.9 -21.7 76.6 -19.8 76.1 -19.6 75.2 -20.7 75.2 -19.4 74.3 -21.6 74.2 -20.4 73.8 -20.8 73.5 -22.2 73.3 -23.6 73.3 -22.3 72.6 -22.3 72.2 -24.3 72.6 -24.8 72.3 -23.4 72.1 -22.1 71.5 -21.8 70.7 -23.5 70.5 -24.3 70.9 -25.5 71.4 -25.2 70.8 -26.4 70.2 -23.7 70.2 -22.3 70.1 -25 69.3 -27.7 68.5 -30.7 68.1 -31.8 68.1 -32.8 67.7 -34.2 66.7 -36.4 66 -37 65.9 -38.4 65.7 -39.8 65.5 -40.7 64.8 -40.7 64.1 -41.2 63.5 -42.8 62.7 -42.4 61.9 -43 61 -43.4 60.1 -44.8 60 -46.3 60.9 -48.3 60.9 -49.2 61.4 -49.9 62.4 -51.6 63.6 -52.1 64.3 -52.3 65.2 -53.7 66.1 -53.3 66.8 -54 67.2 -53 68.4 -51.5 68.7 -51.1 69.1 -50.9 69.9 -52 69.6 -52.6 69.4 -53.5 69.3 -54.7 69.6 -54.8 70.3 -54.4 70.8 -53.4 70.8 -51.4 70.6 -53.1 71.2 -55 71.4 -55.8 71.7 -54.7 72.6 -55.3 73 -56.1 73.6 -57.3 74.7 -58.6 75.1 -58.6 75.5 -61.3 76.1 -63.4 76.2 -66.1 76.1 -68.5 76.1 -69.7 76.4 -71.4 77 -68.8 77.3 -66.8 77.4 -71 77.6 -73.3 78 -73.2 78.4 -69.4 78.9 -65.7 79.4 -65.3 79.8 -68 80.1 -67.2 80.5 -63.7 81.2 -60.3 82 -57.2 82.2 -54.1 82.2 -53 81.9 -50.4 82.4 -47.9 82.2 -46.8 82.6ZM-80.3 73.8 -76.3 72.8 -72.3 71.6 -69.5 70.9 -68.1 70 -66 68.9 -64.4 67.6 -62.2 66.2 -63.9 65 -65.1 64.6 -64.7 63.4 -65.8 62.7 -66.3 61.9 -68.4 62.5 -71.5 63.4 -73.1 64.2 -75 64.5 -77.5 64.4 -78.2 65 -74 66.3 -72.9 67.3 -74.3 68.3 -76.2 69.1 -78.6 70.2 -80.4 70.1 -83 70.3 -86 70.2 -88.7 71 -89.9 71.7 -90 72.3 -87 73.2 -85.9 73.8 -84.4 73.5 -80.3 73.8ZM-118.9 70.9 -116.9 70.4 -112.6 70.1 -113.1 69.2 -106.9 69.2 -104.6 68.9 -101.9 69.4 -102.5 70 -103.5 70.6 -105.4 72.1 -107.1 73.2 -110.5 72.6 -113.5 73.2 -117.4 72.5 -119.1 71.7 -118.9 70.9ZM-124.9 74.3 -120.1 74.2 -116.8 73.8 -117 72.9 -119.2 72.4 -120.2 71.6 -123.1 71.1 -125.5 72.3 -124.9 74.3ZM-88 82.1 -82.1 82.8 -77 83.1 -70.1 83 -62.6 82.5 -61.9 82.2 -65.8 81.7 -69.3 80.8 -72.8 80.3 -76.9 79.3 -74.8 78.5 -77.3 77.6 -78.4 76.6 -80.8 76.3 -89.2 76.3 -87.6 77.3 -84.8 77.6 -88.2 78.3 -91.1 79.9 -94.3 80.9 -92.9 81.9 -88 82.1ZM-91.6 81.7 -96.6 80.9 -96.4 80.2 -94.3 79.4 -90.6 79.4 -91.1 79.9 -94 80.6 -91.6 81.7ZM-90.5 75.4 -85.3 74.5 -80.5 74.6 -79.3 75 -80.8 76.3 -86.7 76.5 -90.2 76.5 -92.3 75.9 -90.5 75.4ZM-94.5 74.1 -90.2 73.3 -92.2 72.2 -93.5 72.8 -95.3 73 -94.5 74.1ZM-97 73.5 -98.5 73 -100 72.4 -102 72.7 -99.4 71.4 -97.2 71.2 -96.5 72.5 -97 73.5ZM-105.6 76 -108.8 76.5 -113.8 76.3 -117.6 75.8 -115 74.4 -112.6 74.5 -109 74.8 -106 75 -105.6 76ZM-98.6 76.6 -96.5 75.9 -97 75.2 -100.8 75.1 -99.4 76 -98.6 76.6ZM-86 66 -84.7 65.4 -83.2 64.6 -81.6 64.5 -81.9 63.5 -84 63.1 -85.5 63.1 -87.2 63.8 -86 66ZM-55.3 51.6 -56.1 50.2 -56.8 49.7 -58.4 49.1 -59.4 48.2 -58.8 47.6 -56.2 47.6 -55.3 46.9 -53.6 46.6 -52.9 47.5 -53.1 48.7 -54.1 49.5 -55.3 51.6ZM-84.9 21.9 -84.4 22.3 -83.3 23 -82 23.2 -80.5 23 -79.7 22.8 -78.4 22.5 -77.1 21.7 -75.6 21.1 -74.2 20.3 -74.5 19.9 -75.6 19.9 -77.8 19.9 -77.1 20.4 -78.5 21 -79.3 21.6 -80.5 22 -81.8 22.2 -82.8 22.7 -84 22.2 -84.9 21.9ZM-74.4 18.6 -73.2 19.9 -71.7 19.7 -70.2 19.6 -69.3 19.1 -68.3 18.6 -69.9 18.2 -71.4 17.6 -72.4 18.2 -74.1 18.3 -74.4 18.6ZM-78.3 18.5 -76.3 18.2 -76.8 17.8 -78.2 18.2 -78.3 18.5ZM-67.2 18.5 -65.6 18.2 -65.9 18 -67.2 17.9 -67.2 18.5ZM-123.5 48.5 -124.9 49.5 -127.4 50.6 -128.4 50.8 -127.3 50.1 -125.8 49.1 -124.9 48.6 -123.5 48.5ZM15.1 79.7 18.5 79.7 21.5 79 19 78.6 18.5 77.8 17.6 77.6 17 76.8 14.7 77.1 13.8 77.9 11.2 78.9 10.4 79.7 13.2 80 15.1 79.7ZM20 80.5 24 80.5 27.4 80.1 22.5 79.4 18.2 79.5 20 80.5ZM51.5 71.5 53.5 73.7 55.9 74.6 55.6 75.1 58 75.7 61.2 76.3 64.5 76.4 66.2 76.8 68.2 76.9 68.9 76.5 67 75.6 63 74.6 59 73.8 57.3 72.7 55.6 71.5 57.5 70.7 56.9 70.6 53.7 70.8 51.5 71.5ZM47 80.4 50 81.2 55 81.8 62 81.5 65 80.8 60 80.1 52 80ZM101.3 79.2 99.4 78.7 96.9 79.3 98.9 80.6 95.9 81.3 99.2 81.3 102.8 79.3 101.3 79.2ZM138.8 76.1 141.5 76.1 145.1 75.6 144.3 74.8 140.6 74.8 137 75.3 137.5 75.9 138.8 76.1ZM178.9 71.6 180.7 71.6 182.7 71.1 180.2 70.9 178.7 70.8 178.9 71.6ZM15.5 38.2 15.2 37.4 15.3 37.1 15.1 36.6 14.3 37 13.8 37.1 12.4 37.6 12.6 38.1 13.7 38 14.8 38.1 15.5 38.2ZM9.2 41.2 9.8 40.5 9.7 39.2 9.2 39.2 8.8 38.9 8.4 39.2 8.4 40.4 8.2 40.9 8.7 40.9 9.2 41.2ZM9.6 42.2 9.2 41.4 8.8 41.6 8.5 42.3 8.7 42.6 9.4 43 9.6 42.2ZM23.7 35.7 24.2 35.4 25 35.4 25.8 35.4 26.3 35.3 26.2 35 24.7 34.9 24.7 35.1 23.5 35.3 23.7 35.7ZM34 35.1 34.6 35.7 33.9 35.2 33 35.4 32.3 35.1 32.7 34.6 33.9 35 34 35.1ZM124 -10.2 125.1 -8.6 127.3 -8.4 126.6 -8.8 125 -9.6 124 -10.2ZM119.8 -8.4 121.3 -8.5 122.9 -8.1 122.7 -8.6 120.7 -8.9 119.8 -8.8 119.8 -8.4ZM116.7 -8.5 118.5 -8.3 119.1 -8.7 117.3 -9 116.7 -8.5ZM127.9 2.2 128.7 1.1 128.6 0.3 128.1 0.4 127.9 -0.3 128.4 -0.8 127.7 -0.3 127.4 1 127.6 1.8 127.9 2.2ZM125.9 -3.2 127 -3.1 128.1 -2.8 129.4 -2.8 130.5 -3.1 130.8 -3.9 129.2 -3.4 128 -3.4 126.9 -3.8 125.9 -3.2ZM148.3 -5.6 149.4 -5.6 151 -5.2 152.1 -4.2 152.3 -5 151.5 -5.5 151.3 -6 150.2 -6.3 148.9 -6 148.3 -5.6ZM159.7 -8.9 160.9 -9.9 160.5 -9.4 159.7 -8.9ZM177.3 -17.6 178.4 -17.3 178.6 -18.1 177.4 -18.2 177.3 -17.6ZM164.1 -20.4 165.5 -21.2 167 -22.2 166.4 -22.1 164.4 -20.8 164.1 -20.4ZM-61.2 -51.8 -59.2 -51.3 -57.8 -51.6 -58.5 -52.1 -60 -52.1 -61.2 -51.8ZM-169.5 52.9 -168.3 53.3 -169 53.1 -169.5 52.9ZM-174.5 52.1 -172.5 52.4 -174 52.3 -174.5 52.1ZM-178 51.8 -176 51.9 -177.5 52 -178 51.8ZM-164.9 54.6 -163.2 54.8 -164.5 54.4 -164.9 54.6ZM-166.9 60.2 -165.6 60.3 -166.3 59.8 -166.9 60.2ZM-171.7 63.8 -169.5 63.4 -168.7 63.3 -170.3 63.7 -171.7 63.8ZM-165 54.2 -166.9 54.5 -167.8 53.6 -165.9 53.9 -165 54.2ZM-152.6 58.6 -153.3 57.8 -154.7 57.3 -153.3 57 -152.2 57.6 -152.6 58.6ZM12.7 55.6 12.1 56.1 11.1 55.9 11.4 55.2 12.2 54.8 12.7 55.6ZM18.1 57.9 18.9 57.5 18.3 57 18.1 57.9ZM92.7 13.5 93 12.5 92.6 11.6 92.7 13.5ZM-77.8 24.5 -77.9 25.1 -78.1 24.7 -77.8 24.5ZM-156.5 19.6 -155.5 20.3 -154.5 19.6 -155.5 18.9ZM-158.5 21.4 -158 21.8 -157.5 21.4 -158 21.1ZM-159.9 22.1 -159.5 22.3 -159.1 22.1 -159.5 21.8ZM-156.8 20.8 -156.3 21.1 -155.8 20.8 -156.3 20.4ZM-172.8 -13.7 -172.2 -13.3 -171.6 -13.7 -172.2 -14.1ZM-175.7 -21.2 -175.2 -20.9 -174.7 -21.2 -175.2 -21.6ZM-160.2 -21.2 -159.8 -20.9 -159.4 -21.2 -159.8 -21.5ZM-150 -17.7 -149.4 -17.3 -148.8 -17.7 -149.4 -18.1ZM-140.6 -9 -140 -8.6 -139.4 -9 -140 -9.4ZM-145.5 -16 -145 -15.7 -144.5 -16 -145 -16.4ZM-142.5 -18 -142 -17.6 -141.5 -18 -142 -18.4ZM-91.8 -0.6 -91 -0 -90.2 -0.6 -91 -1.2ZM-157.8 1.9 -157.4 2.2 -157 1.9 -157.4 1.6ZM166.4 -15.5 167.2 -14.9 168 -15.5 167.2 -16.1ZM167.8 -17.6 168.3 -17.2 168.8 -17.6 168.3 -17.9ZM144.4 13.4 144.8 13.7 145.2 13.4 144.8 13.1ZM134.1 7.4 134.5 7.7 134.9 7.4 134.5 7.1ZM-28.6 38.6 -28 39 -27.4 38.6 -28 38.2ZM-16.3 28 -15.6 28.5 -14.9 28 -15.6 27.5ZM-17.4 32.7 -17 33 -16.6 32.7 -17 32.4ZM-24.6 15.5 -24 15.9 -23.4 15.5 -24 15.1ZM57 -20.3 57.5 -19.9 58 -20.3 57.5 -20.6ZM55 -21.1 55.5 -20.8 56 -21.1 55.5 -21.4ZM43 -11.7 43.5 -11.3 44 -11.7 43.5 -12.1ZM73.1 3.5 73.5 3.8 73.9 3.5 73.5 3.2ZM53.2 12.5 53.9 13 54.6 12.5 53.9 12ZM-65.1 32.3 -64.8 32.5 -64.5 32.3 -64.8 32.1ZM-61.7 14.5 -61.2 14.8 -60.7 14.5 -61.2 14.2ZM-61.9 10.4 -61.3 10.8 -60.7 10.4 -61.3 10ZM170.6 7.1 171 7.4 171.4 7.1 171 6.8ZM151.4 7.4 151.8 7.7 152.2 7.4 151.8 7.1ZM166.6 -0.5 166.9 -0.3 167.2 -0.5 166.9 -0.7ZM178.9 -8.5 179.2 -8.3 179.5 -8.5 179.2 -8.7ZM-176.5 -13.3 -176.2 -13.1 -175.9 -13.3 -176.2 -13.5ZM-170.2 -19.1 -169.9 -18.8 -169.6 -19.1 -169.9 -19.3ZM-130.4 -25.1 -130.1 -24.9 -129.8 -25.1 -130.1 -25.3ZM-109.8 -27.1 -109.4 -26.8 -109 -27.1 -109.4 -27.4ZM-79.3 -33.6 -78.9 -33.3 -78.5 -33.6 -78.9 -33.9ZM-6 -15.9 -5.7 -15.7 -5.4 -15.9 -5.7 -16.2ZM-12.6 -37.1 -12.3 -36.9 -12 -37.1 -12.3 -37.3ZM68.5 -49.3 69.5 -48.6 70.5 -49.3 69.5 -50ZM-37.4 -54.3 -36.5 -53.7 -35.6 -54.3 -36.5 -54.9ZM92.3 11.5 92.8 11.8 93.3 11.5 92.8 11.2ZM93.4 7.5 93.8 7.8 94.2 7.5 93.8 7.2ZM105.3 -2.2 106.1 -1.6 106.9 -2.2 106.1 -2.8ZM107.4 -2.9 107.9 -2.5 108.4 -2.9 107.9 -3.2ZM114.6 -8.4 115.1 -8.1 115.6 -8.4 115.1 -8.8ZM115.9 -8.6 116.3 -8.3 116.7 -8.6 116.3 -8.9ZM119.4 -9.7 120 -9.3 120.6 -9.7 120 -10.1ZM126 -3.4 126.6 -3 127.2 -3.4 126.6 -3.8ZM129.6 -1.9 130 -1.6 130.4 -1.9 130 -2.2ZM133.9 -6.2 134.5 -5.8 135.1 -6.2 134.5 -6.6ZM151.2 -3.5 152 -2.9 152.8 -3.5 152 -4.1ZM154.7 -6.2 155.3 -5.8 155.9 -6.2 155.3 -6.6ZM159.5 -9.6 160.1 -9.2 160.7 -9.6 160.1 -10ZM160.4 -9 160.9 -8.7 161.4 -9 160.9 -9.3ZM117.8 9.8 118.7 10.4 119.6 9.8 118.7 9.2ZM120.4 13 121 13.4 121.6 13 121 12.6ZM127.5 26.4 127.9 26.7 128.3 26.4 127.9 26.1ZM147.5 45.2 148 45.5 148.5 45.2 148 44.9ZM151.1 46.8 151.5 47.1 151.9 46.8 151.5 46.5ZM154.6 49.5 155 49.8 155.4 49.5 155 49.2ZM165.5 55 166 55.4 166.5 55 166 54.6ZM-170.3 57.1 -170 57.3 -169.7 57.1 -170 56.9ZM172.5 52.9 173 53.2 173.5 52.9 173 52.5ZM-170.9 52.7 -170.5 53 -170.1 52.7 -170.5 52.4ZM-7.3 62 -6.9 62.3 -6.5 62 -6.9 61.7ZM-1.7 60.4 -1.3 60.7 -0.9 60.4 -1.3 60.1ZM-3.3 59 -3 59.2 -2.7 59 -3 58.8ZM2.5 39.6 3 40 3.5 39.6 3 39.2ZM27.6 36.2 28 36.5 28.4 36.2 28 35.9ZM25.9 39.2 26.3 39.5 26.7 39.2 26.3 38.9ZM23.3 38.6 23.8 39 24.3 38.6 23.8 38.2ZM109.9 19 110 19.1 110.1 19 110 18.9ZM126.1 33.4 126.5 33.7 126.9 33.4 126.5 33.1ZM138.1 38 138.4 38.2 138.7 38 138.4 37.8ZM129 34.4 129.3 34.6 129.6 34.4 129.3 34.2ZM-181 69 -180 69 -178 68.4 -175.5 67.6 -172.5 66.9 -169.7 66.1 -171.5 65.5 -173 65.4 -174 64.4 -176.5 64.6 -178.5 65.3 -181 64.9ZM-126 71 -124 74.5 -117 76.2 -110 77 -100 77.2 -96 80.5 -90 82.5 -75 83.2 -62 82.2 -66 80.8 -72 78.5 -76 76 -80 74 -73 71.8 -68 70.2 -62 66.5 -66 62 -72 63.5 -78 64.5 -82 69 -90 68.8 -96 68 -108 68 -118 69 -126 69.5Z"/></clipPath>
<path id="cs" fill="none" stroke="#7a7a7a" stroke-width="0.55" vector-effect="non-scaling-stroke" stroke-linejoin="round" d="M-168 65.6 -166 66.3 -162.5 66.9 -164.5 67.8 -166.8 68.3 -163 69.4 -161 70.3 -156.5 71.4 -152 70.9 -148.5 70.3 -144 70.1 -141 69.6 -137 69 -134 69.5 -131 69.8 -128 70.6 -125 69.5 -121 69.8 -117 69 -114 68.3 -110 68 -106 68.8 -102 67.8 -98 67.8 -96 68.5 -95 71.8 -93 71 -91.5 69.5 -89 68.6 -87 67.3 -85 68.5 -85 69.8 -82 69.5 -81.5 68 -83 66.3 -86 66.5 -87.5 64.5 -90.5 63.5 -92.5 62.2 -94 60.5 -94.5 58.8 -92.5 57 -88.5 56.5 -85 55.3 -82.3 55 -82 53 -80.5 51.3 -79 51.5 -78.8 54 -77 55.5 -76.8 57.5 -78 58.8 -77.5 60.5 -78 62.3 -75 62.3 -72 61.3 -70 60.8 -69.5 59 -67.5 58.3 -65 60.3 -63.5 58.5 -61.5 56.5 -60 55.3 -57.5 54.5 -56 53.3 -55.8 52.2 -57.5 51.4 -60 50.2 -64 50.2 -66.5 50 -68.5 49.2 -71 47 -69 48.3 -65 49.2 -64.3 48.6 -65 47.9 -64.8 47 -64 46.2 -61.5 45.7 -60 46 -60.5 45.3 -63.5 44.6 -65.8 43.6 -66.2 44.5 -64.5 45.3 -66 45.2 -67 44.7 -69 44 -70.3 43.6 -70.7 42.7 -70 41.8 -71.2 41.5 -72.8 41.2 -74 40.6 -74.1 39.8 -75 38.9 -75.8 37.2 -76.3 37.9 -76.1 36.9 -75.5 35.3 -76.5 34.7 -77.9 33.9 -79.2 33.2 -80.8 32.2 -81.4 30.7 -81 29.3 -80.1 26.8 -80.3 25.3 -81.1 25.1 -81.8 26.1 -82.7 27.7 -82.7 29 -84 30.1 -85.3 29.7 -86.5 30.4 -88.5 30.4 -89.4 30.1 -89.3 29.1 -90.5 29.1 -92.2 29.6 -94 29.7 -95.3 28.8 -97 27.7 -97.4 26 -97.6 24.3 -97.7 22.5 -97.3 21 -96.4 19.5 -95 18.5 -94.2 18.2 -92.5 18.6 -91.2 18.6 -90.7 19.7 -90.3 21 -88.5 21.5 -87 21.5 -86.9 20.8 -87.6 19.5 -87.9 18.2 -88.3 16.5 -88.9 15.8 -87.5 15.8 -85.7 16 -84.2 15.8 -83.2 15 -83.4 13.5 -83.7 11.5 -83.4 10.5 -82.4 9.5 -81.3 8.8 -79.5 9.6 -78.2 9.2 -77.4 8.6 -77.9 7.3 -78.4 8 -79.2 8.9 -80.2 8.1 -80.4 7.4 -81.5 7.8 -82.9 8.1 -83.7 9 -85 9.8 -85.7 10.5 -85.7 11.2 -87 12.5 -87.8 13.3 -89.3 13.5 -91.4 13.9 -92.3 14.5 -93.9 15.9 -94.7 16.2 -96.5 15.7 -98.2 16.2 -99.9 16.8 -101.7 17.8 -103.5 18.3 -104.9 19.4 -105.7 20.4 -105.3 21.8 -105.7 22.8 -106.8 23.8 -108.4 25.2 -109.4 25.9 -109.7 27 -110.7 27.8 -111.5 28.8 -112.4 29.6 -113.1 31.2 -114.8 31.8 -114.6 30.5 -113.3 29 -112.2 27.2 -110.8 24.9 -110.3 24.1 -109.9 22.9 -110.6 23.5 -112.1 24.8 -112.3 26.2 -114.2 27.6 -114.7 29.1 -116 30.5 -116.8 31.8 -117.2 32.6 -117.8 33.6 -118.5 34 -120.5 34.5 -121 35.6 -122 36.9 -122.5 37.7 -123 38.2 -123.8 39.5 -124.2 40.5 -124.2 42 -124.4 43.3 -124 46.2 -124.1 47.5 -124.7 48.4 -123 48.1 -122.5 48.8 -123.2 49.4 -125 50.3 -127.5 51.2 -128 52.3 -130 54.2 -130.4 55.5 -132 56.5 -133.5 58 -135 59 -136.5 58.2 -138.5 59.2 -140.5 59.8 -143 60 -146 60.6 -148 60.2 -150 59.6 -151.7 59.2 -150.4 61.2 -152.5 60.2 -154 59 -154 58 -156 57 -158.5 56 -161 55.3 -163.5 54.8 -162 55.8 -159 57 -157.5 58.5 -159 58.7 -161.5 58.6 -162.5 60 -164.7 60.4 -165.3 61.3 -165.7 62.3 -164.5 63.2 -161.5 63.6 -160.9 64.5 -163 64.5 -165 64.5 -166.5 64.7 -168 65.6ZM-77.4 8.6 -76.9 8.4 -76.2 9.5 -75.6 10.5 -74.8 11 -73.6 11.3 -72.2 11.9 -71.3 12.4 -71.8 11.4 -71.9 10.2 -71.2 9.1 -71.5 10.9 -70.2 11.6 -69.7 11.5 -68.3 10.8 -66.2 10.6 -64.3 10.5 -62 10.7 -61.8 9.8 -60.7 8.5 -59.8 8.3 -58.5 7.1 -57.2 6 -55.5 5.9 -54 5.8 -52.5 5 -51.5 4.2 -51 3 -50 1.8 -49.9 1 -50.5 0 -48.5 -0.7 -47.8 -0.6 -46 -1.1 -44.5 -2.4 -42.5 -2.8 -41 -2.9 -39.5 -3.1 -38.3 -3.9 -37 -4.9 -35.5 -5.2 -34.9 -7 -35.1 -8.8 -35.8 -9.7 -37.2 -11.2 -38.1 -12.6 -38.9 -13.6 -39.1 -15.5 -39.2 -17.5 -39.8 -19.3 -40.6 -21.1 -41.8 -22.8 -43.2 -23 -44.6 -23.3 -46.5 -24 -47.8 -25 -48.6 -26 -48.6 -28.2 -49.6 -29.3 -50.6 -30.6 -51.6 -31.8 -52.6 -33.2 -53.6 -34.3 -54.9 -34.9 -56.2 -34.9 -57.6 -34.4 -58.4 -34 -58.3 -34.8 -57.2 -35.5 -56.8 -36.5 -57.6 -38.1 -59.2 -38.7 -61.3 -39 -62.3 -38.8 -62.1 -40.6 -65 -41 -65 -42.1 -63.8 -42.5 -64.4 -42.9 -65.3 -43.5 -65.2 -44.7 -66.6 -45 -67.6 -46.3 -66.6 -47.1 -65.9 -47.8 -67.1 -48.7 -67.8 -49.9 -68.9 -50.3 -69.2 -51.6 -68.6 -52.3 -69.4 -52.5 -70.5 -53.1 -70.9 -53.6 -72.2 -53.3 -71.1 -54.1 -69 -54.6 -67.5 -54.9 -66.5 -55 -65.3 -54.7 -66.5 -54.4 -68.4 -53.1 -68.6 -52.6 -70 -52.4 -71.8 -53.5 -73.5 -53.2 -74.7 -52.2 -75.3 -50.5 -75.5 -48.5 -74.7 -46.7 -75.6 -46.6 -74.3 -45.7 -73.2 -44.3 -73.6 -43.4 -73.8 -42.2 -73.6 -41.5 -73.2 -39.2 -73.5 -37.3 -72.6 -35.5 -71.7 -33.5 -71.4 -32.4 -71.5 -30.4 -71.4 -28.8 -70.9 -27.6 -70.6 -25.5 -70.4 -23.6 -70.1 -21.4 -70.4 -18.3 -71.4 -17.7 -72.5 -16.6 -74 -15.7 -75.2 -15.3 -76.1 -14.3 -76.4 -13.2 -77.1 -12.1 -78.1 -10.4 -79.2 -8 -79.8 -7.2 -81.2 -6.1 -80.9 -5.6 -81.3 -4.2 -80.3 -3.4 -79.8 -2.5 -80.9 -2.2 -80.7 -0.9 -80.1 0.3 -80 1 -79 1.4 -78.6 2.4 -77.9 2.7 -77.1 3.9 -77.5 4.7 -77.3 6.6 -77.9 7.2 -77.4 8.6ZM-5.9 35.8 -5.3 35.9 -4.4 35.2 -2.2 35.1 -1.2 35.7 0.5 36.3 1.5 36.6 3.2 36.8 5.3 36.7 7 37.1 8.4 36.9 9.5 37.3 10.2 37.2 11.1 36.9 10.6 36.4 10.8 35.7 11.1 35.2 10.3 34.3 10.1 33.8 11.1 33.3 12.1 32.9 13.1 32.9 15.2 32.3 15.7 31.4 17.5 30.9 19 30.3 19.6 30.5 20.1 31.2 19.9 31.8 20.6 32.6 21.5 32.9 22.9 32.6 23.2 32.2 24.9 31.9 25.2 31.6 27 31.4 28.9 30.9 30.1 31.5 31 31.6 32.2 31.3 33.8 31 34.3 31.2 34.9 29.5 34.4 28.3 34.2 27.8 33.9 27.6 32.7 29.9 32.3 29.8 33.1 28.4 33.9 27.2 34.5 26 35.5 24.2 35.7 23.2 36.9 22 37.2 21 37.1 19.8 37.5 18.6 38.4 18 38.9 16.8 39.3 15.9 39.8 15.4 41.2 14.5 42.3 13.3 43.3 12.4 43.1 11.5 44.6 10.4 46.6 10.8 48.9 11.4 50.3 11.7 51.2 11.8 51.1 10.6 50.8 10.3 50.6 9.2 49.5 6.8 47.7 4.2 46.6 2.9 45.6 2.1 44.1 1.1 42.8 -0.3 41.8 -1.4 41 -2.1 40.1 -2.8 39.6 -4.3 39.2 -4.7 38.7 -6 39.4 -6.8 39.2 -8 39.3 -8.5 39.9 -10.1 40.5 -10.8 40.4 -11.8 40.6 -14.2 40.7 -14.7 40.1 -16.1 39.4 -16.7 37.4 -17.6 36.3 -18.7 34.8 -19.8 34.7 -20.5 35.2 -21.3 35.4 -22.1 35.6 -23.7 35.4 -24.1 33 -25.4 32.6 -25.7 32.9 -26.2 32.6 -27.5 32.2 -28.8 31.3 -29.4 30.1 -31.1 28.9 -32.2 28.2 -32.8 26.4 -33.6 25.7 -34 24.7 -34 23.6 -33.8 22.6 -33.9 21.5 -34.3 20.1 -34.8 19.6 -34.8 19.2 -34.5 18.9 -34.4 18.4 -34.1 18.4 -33.3 18.2 -32.4 18.2 -31.7 17.6 -30.7 17.1 -29.9 16.3 -28.6 15.6 -27.8 15.2 -27.1 14.7 -25.4 14.4 -22.7 14.3 -22.1 13.4 -20.9 12.8 -19.7 11.8 -18.1 11.7 -17.3 11.6 -16.7 12.2 -14.4 12.5 -13.5 13.6 -12 13.7 -11.3 13.2 -9.8 13 -9 12.9 -8.4 12.3 -6.1 12.2 -5.8 11.9 -5 11.1 -4 10.1 -3 9.4 -2.1 8.8 -1.1 9 -0.5 9.3 0.3 9.5 1 9.8 2.3 9.4 3.7 8.9 4 8.5 4.5 7.5 4.4 7 4.4 6 4.3 5.4 5.1 4.9 6 4.3 6.3 3.6 6.3 2.7 6.3 1.9 6.1 1.1 5.9 -0.5 5.3 -1.1 5 -2 4.7 -2.9 5 -3.3 5 -4 5.2 -4.6 5.2 -5.8 5 -7.5 4.3 -7.7 4.4 -9 4.8 -10.8 6.1 -11.4 6.8 -12.4 7.3 -12.9 7.8 -13.2 8.9 -13.7 9.5 -14.3 10 -14.6 10.2 -15.1 11 -15.7 11.5 -16.3 11.8 -16.6 12.2 -16.8 13.2 -16.7 13.6 -17.1 14.4 -17.6 14.7 -17.2 14.9 -16.7 15.6 -16.5 16.1 -16.1 17.5 -16.3 19.1 -16.4 19.6 -16.3 20.1 -16.5 20.6 -17.1 21 -16.8 21.3 -16.6 22.2 -16.3 22.7 -16 23.7 -15.4 24.4 -15.1 24.5 -14.8 25.1 -14.4 26.3 -13.8 26.6 -13.1 27.7 -12.6 28 -11.7 28.1 -10.9 28.8 -10.4 29.1 -9.6 29.9 -9.8 31.2 -9.4 32 -8.7 33.2 -7.7 33.7 -6.9 34.1 -6.2 35.1 -5.9 35.8ZM49.5 -12.5 50.1 -13.6 50.5 -15.2 50.2 -16 49.8 -17.1 49.4 -18 48.5 -20.5 47.9 -22.4 47.1 -24.9 45.4 -25.6 44 -25 43.7 -23.6 43.3 -22.1 43.4 -21.3 44.4 -20.1 44.5 -19.4 44 -18.3 44.1 -17 44.4 -16.2 46.3 -15.8 47.7 -14.6 48 -14.1 48.8 -13.1 49.5 -12.5ZM-5.6 36 -6.3 36.6 -7.5 37.2 -9 37 -8.8 38.3 -9.5 38.7 -9.4 39.4 -8.8 40.8 -8.8 42 -9.3 43 -8 43.7 -6 43.6 -4 43.4 -1.8 43.4 -1.3 44.6 -1.2 46 -2.2 47.1 -4.5 47.9 -4.7 48.6 -3 48.8 -1.6 48.6 -1.6 49.7 -0.2 49.3 1.3 50.1 1.6 50.9 2.5 51.1 3.6 51.4 4.3 52 4.7 52.9 5.4 53.4 7 53.5 8 53.5 8.5 53.9 8.7 55.1 8.2 55.9 8.1 56.8 8.8 57.1 10.6 57.7 10.3 57 10.9 56.4 10.1 55.6 9.6 55.1 10.9 54.4 11 54 12.3 54.2 13.6 54.2 14.2 53.9 16 54.3 17.3 54.7 18.6 54.7 19.5 54.4 19.9 54.9 21.2 55.2 21.1 56 21.1 56.8 21.6 57.4 22.6 57.8 23.3 57 24.1 57 24.4 57.9 23.5 58.6 23.4 59.2 24.6 59.5 26 59.6 28 59.5 29.1 60 28 60.5 26.3 60.4 24.5 60.1 22.9 59.8 22.3 60.4 21.3 60.7 21.5 61.7 21.1 62.6 21.5 63.2 22.4 63.8 24.7 64.9 25.4 65.1 25.3 65.5 24.3 65.8 23.9 66 22.2 65.7 21.2 65 21.4 64.4 19.8 63.6 17.8 62.7 17.1 61.3 17.8 60.6 18.8 60.1 17.9 59 16.8 58.7 16.4 57 15.9 56.1 14.7 56.2 14.1 55.4 12.9 55.4 12.6 56.3 11.8 57.4 11 58.9 10.4 59.5 8.4 58.3 7 58.1 5.7 58.6 5.3 59.7 5 62 5.9 62.6 8.6 63.5 10.5 64.5 12.4 65.9 14.8 67.8 16.4 68.6 19.2 69.8 21.4 70.3 23 70.2 24.6 71 26.4 71 28.2 71.2 31.3 70.5 30 70.2 31.1 69.6 32.1 69.9 33.8 69.3 36.5 69.1 40.3 67.9 41.1 67.5 41.1 66.8 40 66.3 38.4 66 33.9 66.8 32.5 66.1 34.8 65.9 34.9 64.4 37 63.8 37.1 64.3 36.5 64.8 37.2 65.1 39.6 64.5 40.4 64.8 39.8 65.5 42.1 66.5 43.9 66.1 44.5 66.8 43.7 67.4 44.2 68 43.5 68.6 46.3 68.3 46.8 67.7 45.6 67.6 45.6 67 47 66.9 48 67.7 50.2 68 53.7 68.9 54.5 68.8 53.5 68.2 54.7 68.1 55.4 68.4 57.3 68.5 58.8 68.9 59.9 68.3 61.1 68.9 60 69.5 60.6 69.9 63.5 69.5 64.9 69.2 68.5 68.1 69.2 68.6 68.2 69.1 68.1 69.4 66.9 69.5 67.3 70 66.7 70.7 66.7 71 68.5 71.9 69.2 72.8 69.9 73 72.6 72.8 72.8 72.2 71.8 71.4 72.5 71.1 72.8 70.4 72.6 69 73.7 68.4 73.2 67.7 71.3 66.3 72.4 66.2 72.8 66.5 73.9 66.8 74.2 67.3 75 67.8 74.5 68.3 74.9 69 73.8 69.1 73.6 69.6 74.4 70.6 73.1 71.4 74.9 72.1 74.7 72.8 75.2 72.9 75.7 72.3 75.3 71.3 76.4 71.2 75.9 71.9 77.6 72.3 79.7 72.3 81.5 71.8 80.6 72.6 80.5 73.6 82.3 73.9 84.7 73.8 86.8 73.9 86 74.5 87.2 75.1 88.3 75.1 90.3 75.6 92.9 75.8 93.2 76 95.9 76.1 96.7 75.9 98.9 76.4 100.8 76.4 101 76.9 102 77.3 104.4 77.7 106.1 77.4 104.7 77.1 106.9 77 107.2 76.5 108.2 76.7 111.1 76.7 113.3 76.2 114.1 75.8 113.9 75.3 112.8 75 110.2 74.5 109.4 74.2 110.6 74 112.1 73.8 113 74 113.5 73.3 114 73.6 115.6 73.8 118.8 73.6 119 73.1 123.2 73 123.3 73.7 125.4 73.6 127 73.6 128.6 73 129.1 72.4 128.5 72 129.7 71.2 131.3 70.8 132.3 71.8 133.9 71.4 135.6 71.7 137.5 71.3 138.2 71.6 139.9 71.5 139.1 72.4 140.5 72.8 149.5 72.2 150.4 71.6 153 70.8 157 71 159 70.9 159.8 70.5 159.7 69.7 160.9 69.4 162.3 69.6 164.1 69.7 165.9 69.5 167.8 69.6 169.6 68.7 170.8 69 170 69.7 170.5 70.1 173.6 69.8 175.7 69.9 178.6 69.4 180 69 182 68.4 184.5 67.6 187.5 66.9 190.3 66.1 188.5 65.5 187 65.4 186 64.4 183.5 64.6 181.5 65.3 180 64.9 178.7 64.5 177.4 64.6 178.3 64.1 178.9 63.3 179.4 63 179.2 62.3 177.4 62.5 174.6 61.8 173.7 61.7 172.2 61 170.7 60.3 170.3 59.9 168.9 60.6 166.3 59.8 165.8 60.2 164.9 59.7 163.5 59.9 163.2 59.2 162 58.2 162 57.8 163.2 57.6 163.1 56.2 162.1 56.1 161.7 55.3 162.1 54.9 160.4 54.3 160 53.2 158.5 53 158.2 51.9 156.8 51 156.4 51.7 156 53.2 155.4 55.4 155.9 56.8 156.8 57.4 156.8 57.8 158.4 58.1 160.2 59.3 161.9 60.3 163.7 61.1 164.5 62.6 163.3 62.5 162.7 61.6 160.1 60.5 159.3 61.8 156.7 61.4 154.2 59.8 155 59.1 152.8 58.9 151.3 58.8 151.3 59.5 149.8 59.7 148.5 59.2 145.5 59.3 142.2 59 139 57.1 135.1 54.7 136.7 54.6 137.2 54 138.2 53.8 138.8 54.3 139.9 54.2 141.3 53.1 141.4 52.2 140.6 51.2 140.5 50 140.1 48.4 138.6 47 138.2 46.3 136.9 45.1 135.5 44 134.9 43.4 133.5 42.8 132.9 42.8 132.3 43.3 130.8 42.2 130.8 42.2 130.4 42.3 130 41.9 129.7 41 129.7 40.9 129.2 40.7 128.6 40.2 128 39.9 127.5 39.8 127.5 39.3 127.4 39.2 128.3 38.6 128.5 37.7 129.2 37.4 129.5 36.8 129.5 35.6 129.1 35.1 128.2 35 127.4 34.5 126.5 34.4 126.4 34.9 126.6 35.7 126.1 36.7 126.9 36.9 126.2 37.7 125.7 37.9 125 37.7 124.7 38.1 125.2 38.7 125.1 38.8 125.4 39.4 125.3 39.6 124.7 39.7 124.3 39.9 122.9 39.6 122.1 39.2 121.1 38.9 121.6 39.4 121.4 39.8 122.2 40.4 121.6 40.9 120.8 40.6 119.6 39.9 119 39.3 118 39.2 117.5 38.7 118.1 38.1 118.9 37.9 118.9 37.4 119.7 37.2 120.8 37.9 121.7 37.5 122.4 37.5 122.5 36.9 121.1 36.7 120.6 36.1 119.7 35.6 119.2 34.9 120.2 34.4 120.6 33.4 121.2 32.5 121.9 31.7 121.9 30.9 121.3 30.7 121.5 30.1 122.1 29.8 121.9 29 121.7 28.2 121.1 28.1 120.4 27.1 119.6 25.7 119 25 118.7 24.5 117.3 23.6 115.9 22.8 114.8 22.7 114.2 22.2 113.8 22.5 113.2 22.1 111.8 21.6 110.8 21.4 110.4 20.3 109.9 20.3 109.6 21 109.9 21.4 108.5 21.7 108.1 21.6 106.7 20.7 105.9 19.8 105.7 19.1 106.4 18 107.4 16.7 108.3 16.1 108.9 15.3 109.3 13.4 109.2 11.7 108.4 11 107.2 10.4 106.4 9.5 105.2 8.6 104.8 9.2 105.1 9.9 104.3 10.5 103.5 10.6 103.1 11.2 102.6 12.2 102.3 13.4 101 12.7 101 13.4 100.1 13.4 100 12.3 99.2 10 99.2 9.2 99.9 9.2 100.3 8.3 100.5 7.4 101 6.9 101.6 6.7 102.1 6.2 103 5.5 103.4 4.9 103.4 4.2 103.3 3.7 103.5 2.8 103.9 2.5 104.2 1.6 104.2 1.3 103.5 1.2 102.6 2 101.4 2.8 101.3 3.3 100.7 3.9 100.6 4.8 100.2 5.3 100.3 6 100.1 6.5 99.7 6.8 99.5 7.3 99 7.9 98.5 8.4 98.3 7.8 98.2 8.4 98.3 9 98.6 9.9 98.5 10.7 98.8 11.4 98.4 12 98.5 13.1 98.1 13.6 97.8 14.8 97.6 16.1 97.2 16.9 96.5 16.4 95.4 15.7 94.8 15.8 94.2 16 94.5 17.3 94.3 18.2 93.5 19.4 93.7 19.7 93.1 19.9 92.4 20.7 92.1 21.2 92 21.7 91.8 22.2 91.4 22.8 90.5 22.8 90.6 22.4 90.3 21.8 89.8 22 89.7 21.9 89.4 22 89 22.1 88.9 21.7 88.2 21.7 87 21.5 87 20.7 86.5 20.2 85.1 19.5 84 18.3 83.2 17.7 82.2 17 82.2 16.6 81.7 16.3 80.8 15.9 80.3 15.9 80 15.1 80.2 13.8 80.3 13 79.9 12.1 79.9 10.4 79.3 10.3 78.9 9.6 79.2 9.2 78.3 8.9 77.9 8.3 77.5 8 76.6 8.9 76.1 10.3 75.7 11.3 75.4 11.8 74.9 12.7 74.6 14 74.4 14.6 73.5 16 73.1 17.9 72.8 19.2 72.8 20.4 72.6 21.4 71.2 20.8 70.5 20.9 69.2 22.1 69.6 22.5 69.3 22.8 68.2 23.7 67.4 23.9 67.1 24.7 66.4 25.4 64.5 25.2 62.9 25.2 61.5 25.1 59.6 25.4 58.5 25.6 57.4 25.7 57 27 56.5 27.1 55.7 27 54.7 26.5 53.5 26.8 52.5 27.6 51.5 27.9 50.9 28.8 50.1 30.1 49.6 30 48.9 30.3 48.6 29.9 48 30 48.2 28.5 48.8 27.7 49.3 27.5 49.5 27.1 50.2 26.7 50.1 25.9 50.2 25.6 50.5 25.3 50.7 25.5 51 26 51.3 26.1 51.6 25.8 51.6 25.2 51.4 24.6 51.8 24 52.6 24.2 54 24.1 54.7 24.8 55.4 25.4 56.1 26.1 56.4 26.4 56.5 26.3 56.4 25.9 56.3 25.7 56.4 24.9 56.9 24.2 57.4 23.9 58.1 23.7 58.7 23.6 59.5 22.7 59.8 22.5 59.8 22.3 59.3 21.4 58.9 21.1 58.5 20.4 58 20.5 57.8 20.2 57.7 19.7 57.8 19.1 57.7 18.9 57.2 18.9 56.6 18.6 56.5 18.1 56.3 17.9 55.7 17.9 55.3 17.6 55.3 17.2 54.8 16.9 54.2 17 53.6 16.7 53.1 16.7 52.4 16.4 52.2 15.9 52.2 15.6 51.2 15.2 49.6 14.7 48.7 14 48.2 13.9 47.9 14 47.4 13.6 46.7 13.4 45.9 13.3 45.6 13.3 45.4 13 45.1 12.9 45 12.7 44.5 12.7 44.2 12.6 43.5 12.6 43.2 13.2 43.3 13.8 43.1 14.1 42.9 14.8 42.6 15.2 42.8 15.3 42.7 15.7 42.8 15.9 42.8 16.3 42.6 16.8 42.3 17.1 42.3 17.5 41.8 17.8 41.2 18.7 40.9 19.5 40.2 20.2 39.8 20.3 39.1 21.3 39 22 39.1 22.6 38.5 23.7 38 24.1 37.5 24.3 37.2 24.9 37.2 25.1 36.9 25.6 36.6 25.8 36.2 26.6 35.6 27.4 35.1 28.1 34.6 28.1 34.8 28.6 34.8 29 35 29.4 34.3 31.2 34.6 31.5 35 32.8 35.1 33.1 35.5 33.9 36 34.6 35.9 35.4 36.1 35.8 35.8 36.3 36.2 36.7 35.6 36.6 34.7 36.8 34 36.2 32.5 36.1 31.7 36.6 30.6 36.7 30.4 36.3 29.7 36.1 28.7 36.7 27.6 36.7 27 37.7 26.3 38.2 26.8 39 26.2 39.5 26.2 40.1 27.3 40.4 28.8 40.5 29.2 41.2 31.1 41.1 32.3 41.7 33.5 42 35.2 42 36.9 41.3 38.3 40.9 39.5 41.1 40.4 41 41.6 41.5 41.7 42 41.5 42.6 40.9 43 40.3 43.1 40 43.4 38.7 44.3 37.5 44.7 36.7 45.2 37.4 45.4 38.2 46.2 37.7 46.6 39.1 47.3 39.1 47 38.2 46.8 37.5 46.4 35.8 45.7 35 45.7 35 45 34 44.5 33.3 44.6 33.5 45 32.6 45.3 33.6 45.9 33.3 46.1 31.7 46.3 31.7 46.7 30.7 46.6 30.4 46 29.6 45.3 29.6 45 29.1 44.8 28.8 44.9 28.6 43.7 28 43.3 27.7 42.6 28 42 28.8 41.1 27.6 41 26.4 40.2 26 40.8 25.4 41 24.4 40.9 23.7 40.7 24 40.4 23.4 40 22.8 40.5 22.6 40.3 22.8 39.7 23.4 39.2 23 39 23.5 38.5 24 38.2 24 37.7 23.1 37.9 23.4 37.4 22.8 37.3 23.2 36.4 22.5 36.4 21.7 36.8 21.3 37.6 21.1 38.3 20.7 38.8 20.2 39.3 20.2 39.6 20 39.7 20 39.9 19.4 40.3 19.3 40.7 19.4 41.9 18.7 42.7 17.5 42.8 16.9 43.2 16 43.5 15.2 44.2 15.4 44.3 14.9 45.1 14.3 45.2 13.9 44.8 13.7 45.1 13.7 45.5 13.9 45.6 13.1 45.7 12.3 45.4 12.4 44.9 12.3 44.6 12.6 44.1 13.5 43.6 14 42.8 15.1 42 15.9 42 16.2 41.7 15.9 41.5 17.5 40.9 18.4 40.4 18.5 40.2 18.3 39.8 17.7 40.3 16.9 40.4 16.4 39.8 17.2 39.4 17.1 38.9 16.6 38.8 16.1 38 15.7 37.9 15.7 38.2 15.9 38.8 16.1 39 15.7 40 15 40.2 14.1 40.9 13.6 41.2 12.9 41.3 12.1 41.7 11.2 42.4 10.5 42.9 10.2 43.9 9.7 44 8.9 44.4 8.4 44.2 7.9 43.8 7.4 43.7 6.5 43.1 4.6 43.4 3.1 43.1 3 42.5 3 41.9 2.1 41.2 0.8 41 0.7 40.7 0.1 40.1 -0.3 39.3 0.1 38.7 -0.5 38.3 -0.7 37.6 -1.4 37.4 -2.1 36.7 -4.4 36.7 -5 36.3 -5.6 36ZM113.3 -22.1 113.5 -23.5 113.7 -24.7 113.4 -26.3 114.2 -27.5 115 -29.5 115.7 -31.6 115.7 -33.3 115 -34.3 116.6 -35 118 -35.1 119.8 -34 121.4 -33.8 123.7 -33.9 124.2 -33 125.1 -32.7 126.1 -32.2 127.1 -32.3 129.5 -31.6 131.3 -31.5 133 -32.1 134.3 -32.6 135.2 -34.5 135.6 -35 136.8 -35.3 137.7 -35.1 137.9 -34.4 137.5 -33.9 137.8 -32.9 138.2 -33.3 138.5 -34.4 138.2 -34.9 139.1 -35.5 139.6 -37 140.6 -38 141.9 -38.5 143.6 -38.8 144.6 -38.1 145.1 -38.4 146.3 -39 147.4 -38.2 148.9 -37.8 150 -37.4 150.1 -36.4 150.8 -35.3 151.6 -33.6 152.5 -32.4 153 -30.9 153.6 -28.6 153.1 -26.1 152.9 -25.7 151.6 -24.1 150.9 -23.5 149.5 -22.3 149.2 -21.2 148.5 -20.4 146.4 -19 146 -17.4 145.3 -15.4 144.7 -14.3 143.6 -14 143.6 -12.8 142.5 -10.7 142.1 -11.4 141.7 -12.4 141.6 -14 141.5 -15.8 141.1 -16.8 140.5 -17.6 139.3 -17.4 137.3 -16.2 135.8 -15.2 135.4 -14.7 136.3 -13.3 136.8 -12.2 136.5 -11.9 135.3 -12.2 133.6 -11.8 132.6 -11.6 131.6 -12.1 130.2 -13.1 129.6 -14.1 129.4 -14.9 128.1 -14.9 127.2 -13.8 126 -14.2 125.1 -14.6 124.4 -15.6 123.4 -16.3 122.5 -17.3 122.2 -18.2 121.3 -19.1 119.8 -19.9 118.6 -20.3 117.4 -20.7 116.4 -20.6 115.5 -21.2 114.6 -21.8 113.8 -22.2 113.3 -22.1ZM144.7 -40.7 146.4 -41.1 148.3 -40.9 148.3 -42 147.9 -43.2 146.9 -43.6 146 -43.5 145.4 -42.7 145 -42 144.7 -40.7ZM172.7 -34.4 173.6 -35 174.6 -36.2 175.3 -37.2 175.9 -37.5 177.4 -37.9 178.5 -37.7 178.1 -38.6 177.9 -39.2 177 -39.9 176.5 -40.6 175.9 -41.2 175.2 -41.7 174.7 -41.3 175.2 -40.5 174.6 -39.9 173.8 -39.5 173.9 -39 174.6 -38.8 174.7 -37.4 174.3 -36.7 173.8 -36.1 173.1 -35.2 172.7 -34.4ZM172.8 -40.5 173.7 -40.9 174.3 -41.4 174.2 -42.2 173.2 -43 172.7 -43.5 171.4 -44.4 170.8 -45.9 169.8 -46.4 168.4 -46.6 167 -46.2 166.5 -45.8 167.1 -45.1 168.4 -44.1 170.2 -43.1 170.9 -42.4 171.6 -41.8 172.1 -40.9 172.8 -40.5ZM131 -1.4 131.9 -0.7 133.3 -0.7 134.2 -1.1 134.4 -2.8 135.5 -3.4 136.3 -2.3 137.4 -1.7 138.3 -1.7 139.9 -2.4 141 -2.6 142.7 -3.3 144.6 -3.9 145.8 -4.9 146 -5.5 147.6 -6.1 147.9 -6.6 147 -7.4 148.1 -8 148.7 -9.1 149.7 -9.6 150.8 -10.3 150 -10.7 148.9 -10.3 147.1 -9.5 146 -8.1 144.7 -7.6 143.9 -7.9 143.3 -8.2 143.4 -9 142.6 -9.3 141 -9.1 140.1 -8.3 139.1 -8.1 138.9 -8.4 137.6 -8.4 138 -7.6 138.7 -7.3 138.4 -6.2 137.9 -5.4 136 -4.5 135.2 -4.5 133.7 -3.5 133 -4.1 132.8 -3.7 132 -2.8 133.1 -2.5 132.2 -2.2 131 -1.4ZM109.1 1.5 109.7 2 110.4 1.7 111.2 1.9 111.4 2.7 113 3.1 113.7 3.9 114.9 4.8 115.5 5.4 116.2 6.1 116.7 6.9 117.7 6.4 118.6 5.6 119.2 5.4 118.4 5 118.6 4.5 117.9 4.1 117.8 2.8 118.9 1.1 118 0.8 117.5 0.1 117.5 -0.8 116.6 -1.5 116.5 -2.5 116.1 -4 114.9 -4.1 114.5 -3.5 113.8 -3.4 113.3 -3.1 111.7 -3 111.3 -2.9 110.2 -2.9 110.1 -1.6 109.6 -1.3 109.1 -0.5 109 0.4 109.1 1.5ZM95.3 5.5 96.4 5.3 97.5 5.2 98.4 4.3 99.7 3.2 100.6 2.1 101.7 2.1 102.5 1.4 103.1 0.6 103.8 0 103.4 -0.7 104 -1.1 104.4 -1.1 104.9 -2.3 105.6 -2.4 106.1 -3.1 105.9 -4.3 105.8 -5.9 104.7 -5.9 103.9 -5 102.6 -4.2 102.2 -3.6 101.4 -2.8 100.9 -2.1 100.1 -0.7 99.3 0.2 99 1 98.6 1.8 97.7 2.5 97.2 3.3 96.4 3.9 95.4 5 95.3 5.5ZM105.2 -6.9 106.1 -6 107.3 -6 108.3 -6.3 108.5 -6.4 110.5 -6.9 110.8 -6.5 112.6 -6.9 112.9 -7.6 114.5 -7.8 114.5 -8.8 113.5 -8.3 112.6 -8.4 111.5 -8.3 110.6 -8.1 109.4 -7.7 108.7 -7.6 108.3 -7.8 106.5 -7.4 106.3 -6.9 105.4 -6.9 105.2 -6.9ZM125.1 1.6 124.4 0.4 123.7 0.2 122.7 0.4 121 0.4 120.2 0.2 120.1 -0.5 120.9 -1.4 121.5 -1 123.3 -0.6 123.3 -1.1 122.5 -0.9 121.5 -1.9 122.5 -3.2 122.3 -3.5 123.2 -4.7 123.2 -5.3 122.6 -5.6 122.2 -5.3 122.7 -4.5 121.7 -4.9 121.5 -4.6 121.6 -4.2 120.9 -3.6 121 -2.6 120.3 -2.9 120.4 -5.5 119.8 -5.7 119.4 -5.4 119.7 -4.5 119.5 -3.5 119.1 -3.5 118.8 -2.8 119.2 -2.1 119.3 -1.4 119.8 0.2 120 0.6 120.9 1.3 121.7 1 122.9 0.9 124.1 0.9 125.1 1.6ZM120.8 18.5 121.3 18.5 122.2 18.5 122.3 17.1 121.7 16 121.5 15.1 121.7 14.3 122.3 14.2 123.1 13.9 123.9 13.2 124.1 12.5 123.3 13 122.5 13.7 121.4 13.9 120.6 14.3 120.6 14.4 120.1 15 119.9 15.4 119.9 16.4 120.3 16 120.4 17.6 120.8 18.5ZM126.4 8.4 126.5 7.8 126.2 6.3 125.8 7 125.4 6.8 125.7 6.1 125.4 5.6 124.2 6.2 123.9 6.9 124.2 7.4 123.6 7.8 123.3 7.4 122.8 7.5 122.1 6.9 121.9 7.2 122.3 8 123.5 8.7 123.8 8.2 124.6 8.5 124.8 9 125.4 9 125.4 9.8 126.2 9.3 126.4 8.4ZM122 10.6 122.9 11 123.5 10.9 124.1 11.3 124.3 12.6 125 12.5 125.8 11 125 10 124 9.6 123.2 9.2 122.5 9.5 122 10.6ZM141.4 41.4 141.9 40 142 39.2 141.5 38.3 141 37.7 140.6 36.3 140.8 35.8 140.3 35.1 139.9 35.3 139.7 34.9 139 34.7 138.2 34.6 137.2 34.6 136.9 35 136.7 34.3 135.8 33.5 135.1 34 135.1 34.6 134.6 34.8 133.3 34.4 132.2 34 131 34 130.9 34.4 131.9 34.8 132.6 35.4 134.6 35.7 135.7 35.5 136.7 36.7 136.9 37.3 137.4 36.8 138.9 37.8 139.4 38.2 140 39.4 140.1 40.8 140.3 41.2 141.4 41.4ZM130.9 33.9 131.6 33.3 132 33.1 131.3 31.5 130.7 31 130.2 31.4 130.4 32.3 129.8 32.6 129.4 33.3 130.4 33.6 130.9 33.9ZM132.4 33.5 133.9 34.4 134.6 34.2 134.8 33.8 134.2 33.2 133.8 33.5 133 32.7 132.4 33.5ZM141.4 41.4 140.6 41.6 140 41.9 140.3 42.5 139.8 42.6 140.3 43.3 141.4 43.4 141.6 44.8 142 45.6 143.9 44.2 145.3 44.4 145.5 43.3 144.1 42.9 143.2 42 141.6 42.7 141 42 141.4 41.4ZM143.6 50.7 144.7 49 143.2 49.3 142.6 47.9 143.5 46.8 142.7 46.7 142.1 46 141.9 46.8 142 47.8 141.9 48.9 142.1 49.6 142.2 51 141.6 52.2 141.7 53.3 142.6 53.8 142.2 54.2 142.7 54.4 143.3 53.1 143.3 51.8 143.6 50.7ZM121.8 24.4 121.2 22.8 120.7 22 120.2 22.8 120.1 23.6 120.7 24.5 121.5 25.3 122 25 121.8 24.4ZM110.3 18.7 109.5 18.2 108.7 18.5 108.6 19.2 109.1 19.8 110.2 20.1 110.8 20.1 111 19.7 110.6 19.3 110.3 18.7ZM81.8 7.5 81.6 6.5 81.2 6.2 80.3 6 79.9 6.8 79.7 8.2 80.1 9.8 80.8 9.3 81.3 8.6 81.8 7.5ZM-5.7 50 -4.5 50.3 -3.4 50.6 -1.9 50.6 -0.8 50.8 1 51 1.4 51.3 0.6 51.6 1.7 52.7 0.6 52.9 0.2 53.4 -0.2 54.2 -1.1 54.6 -1.6 55.6 -2.5 56 -3 56 -2 56.7 -1.8 57.6 -3.1 57.7 -4 57.6 -3.1 58.6 -5 58.6 -5.6 57.5 -5.6 56.3 -6.2 56.3 -5.6 55.3 -5 55.1 -4.8 54.8 -3.6 54.6 -3.1 53.9 -3 53.4 -4.2 53.2 -4.6 52.8 -4.1 52.4 -5.3 51.9 -4.2 51.6 -3.4 51.4 -5.3 51 -5.7 50ZM-6.8 52.3 -6.2 53.9 -5.6 54.6 -6.2 55.2 -7.6 55.3 -8.3 55.2 -8.5 54.3 -10.1 54.1 -9.8 53.4 -9.4 52.9 -10.2 52.1 -9.9 51.7 -8.6 51.6 -7.6 52 -6.8 52.3ZM-14.5 66.5 -14.7 65.8 -13.6 65.1 -14.9 64.4 -18.7 63.5 -22.8 64 -21.8 64.4 -24 64.9 -22.2 65.1 -22.2 65.4 -24.3 65.6 -23.7 66.3 -22.1 66.4 -20.6 65.7 -19.1 66.3 -17.8 66 -16.2 66.5 -14.5 66.5ZM-46.8 82.6 -43.4 83.2 -35.1 83.6 -27.1 83.5 -20.8 82.7 -22.7 82.3 -26.5 82.3 -31.9 82.2 -31.4 82 -27.9 82.1 -24.8 81.8 -22.9 82.1 -22.1 81.7 -23.2 81.2 -20.6 81.5 -15.8 81.9 -12.8 81.7 -12.2 81.3 -16.3 80.6 -20 80.2 -17.7 80.1 -18.9 79.4 -19.7 78.8 -19.7 77.6 -18.5 77 -20 76.9 -21.7 76.6 -19.8 76.1 -19.6 75.2 -20.7 75.2 -19.4 74.3 -21.6 74.2 -20.4 73.8 -20.8 73.5 -22.2 73.3 -23.6 73.3 -22.3 72.6 -22.3 72.2 -24.3 72.6 -24.8 72.3 -23.4 72.1 -22.1 71.5 -21.8 70.7 -23.5 70.5 -24.3 70.9 -25.5 71.4 -25.2 70.8 -26.4 70.2 -23.7 70.2 -22.3 70.1 -25 69.3 -27.7 68.5 -30.7 68.1 -31.8 68.1 -32.8 67.7 -34.2 66.7 -36.4 66 -37 65.9 -38.4 65.7 -39.8 65.5 -40.7 64.8 -40.7 64.1 -41.2 63.5 -42.8 62.7 -42.4 61.9 -43 61 -43.4 60.1 -44.8 60 -46.3 60.9 -48.3 60.9 -49.2 61.4 -49.9 62.4 -51.6 63.6 -52.1 64.3 -52.3 65.2 -53.7 66.1 -53.3 66.8 -54 67.2 -53 68.4 -51.5 68.7 -51.1 69.1 -50.9 69.9 -52 69.6 -52.6 69.4 -53.5 69.3 -54.7 69.6 -54.8 70.3 -54.4 70.8 -53.4 70.8 -51.4 70.6 -53.1 71.2 -55 71.4 -55.8 71.7 -54.7 72.6 -55.3 73 -56.1 73.6 -57.3 74.7 -58.6 75.1 -58.6 75.5 -61.3 76.1 -63.4 76.2 -66.1 76.1 -68.5 76.1 -69.7 76.4 -71.4 77 -68.8 77.3 -66.8 77.4 -71 77.6 -73.3 78 -73.2 78.4 -69.4 78.9 -65.7 79.4 -65.3 79.8 -68 80.1 -67.2 80.5 -63.7 81.2 -60.3 82 -57.2 82.2 -54.1 82.2 -53 81.9 -50.4 82.4 -47.9 82.2 -46.8 82.6ZM-80.3 73.8 -76.3 72.8 -72.3 71.6 -69.5 70.9 -68.1 70 -66 68.9 -64.4 67.6 -62.2 66.2 -63.9 65 -65.1 64.6 -64.7 63.4 -65.8 62.7 -66.3 61.9 -68.4 62.5 -71.5 63.4 -73.1 64.2 -75 64.5 -77.5 64.4 -78.2 65 -74 66.3 -72.9 67.3 -74.3 68.3 -76.2 69.1 -78.6 70.2 -80.4 70.1 -83 70.3 -86 70.2 -88.7 71 -89.9 71.7 -90 72.3 -87 73.2 -85.9 73.8 -84.4 73.5 -80.3 73.8ZM-118.9 70.9 -116.9 70.4 -112.6 70.1 -113.1 69.2 -106.9 69.2 -104.6 68.9 -101.9 69.4 -102.5 70 -103.5 70.6 -105.4 72.1 -107.1 73.2 -110.5 72.6 -113.5 73.2 -117.4 72.5 -119.1 71.7 -118.9 70.9ZM-124.9 74.3 -120.1 74.2 -116.8 73.8 -117 72.9 -119.2 72.4 -120.2 71.6 -123.1 71.1 -125.5 72.3 -124.9 74.3ZM-88 82.1 -82.1 82.8 -77 83.1 -70.1 83 -62.6 82.5 -61.9 82.2 -65.8 81.7 -69.3 80.8 -72.8 80.3 -76.9 79.3 -74.8 78.5 -77.3 77.6 -78.4 76.6 -80.8 76.3 -89.2 76.3 -87.6 77.3 -84.8 77.6 -88.2 78.3 -91.1 79.9 -94.3 80.9 -92.9 81.9 -88 82.1ZM-91.6 81.7 -96.6 80.9 -96.4 80.2 -94.3 79.4 -90.6 79.4 -91.1 79.9 -94 80.6 -91.6 81.7ZM-90.5 75.4 -85.3 74.5 -80.5 74.6 -79.3 75 -80.8 76.3 -86.7 76.5 -90.2 76.5 -92.3 75.9 -90.5 75.4ZM-94.5 74.1 -90.2 73.3 -92.2 72.2 -93.5 72.8 -95.3 73 -94.5 74.1ZM-97 73.5 -98.5 73 -100 72.4 -102 72.7 -99.4 71.4 -97.2 71.2 -96.5 72.5 -97 73.5ZM-105.6 76 -108.8 76.5 -113.8 76.3 -117.6 75.8 -115 74.4 -112.6 74.5 -109 74.8 -106 75 -105.6 76ZM-98.6 76.6 -96.5 75.9 -97 75.2 -100.8 75.1 -99.4 76 -98.6 76.6ZM-86 66 -84.7 65.4 -83.2 64.6 -81.6 64.5 -81.9 63.5 -84 63.1 -85.5 63.1 -87.2 63.8 -86 66ZM-55.3 51.6 -56.1 50.2 -56.8 49.7 -58.4 49.1 -59.4 48.2 -58.8 47.6 -56.2 47.6 -55.3 46.9 -53.6 46.6 -52.9 47.5 -53.1 48.7 -54.1 49.5 -55.3 51.6ZM-84.9 21.9 -84.4 22.3 -83.3 23 -82 23.2 -80.5 23 -79.7 22.8 -78.4 22.5 -77.1 21.7 -75.6 21.1 -74.2 20.3 -74.5 19.9 -75.6 19.9 -77.8 19.9 -77.1 20.4 -78.5 21 -79.3 21.6 -80.5 22 -81.8 22.2 -82.8 22.7 -84 22.2 -84.9 21.9ZM-74.4 18.6 -73.2 19.9 -71.7 19.7 -70.2 19.6 -69.3 19.1 -68.3 18.6 -69.9 18.2 -71.4 17.6 -72.4 18.2 -74.1 18.3 -74.4 18.6ZM-78.3 18.5 -76.3 18.2 -76.8 17.8 -78.2 18.2 -78.3 18.5ZM-67.2 18.5 -65.6 18.2 -65.9 18 -67.2 17.9 -67.2 18.5ZM-123.5 48.5 -124.9 49.5 -127.4 50.6 -128.4 50.8 -127.3 50.1 -125.8 49.1 -124.9 48.6 -123.5 48.5ZM15.1 79.7 18.5 79.7 21.5 79 19 78.6 18.5 77.8 17.6 77.6 17 76.8 14.7 77.1 13.8 77.9 11.2 78.9 10.4 79.7 13.2 80 15.1 79.7ZM20 80.5 24 80.5 27.4 80.1 22.5 79.4 18.2 79.5 20 80.5ZM51.5 71.5 53.5 73.7 55.9 74.6 55.6 75.1 58 75.7 61.2 76.3 64.5 76.4 66.2 76.8 68.2 76.9 68.9 76.5 67 75.6 63 74.6 59 73.8 57.3 72.7 55.6 71.5 57.5 70.7 56.9 70.6 53.7 70.8 51.5 71.5ZM47 80.4 50 81.2 55 81.8 62 81.5 65 80.8 60 80.1 52 80ZM101.3 79.2 99.4 78.7 96.9 79.3 98.9 80.6 95.9 81.3 99.2 81.3 102.8 79.3 101.3 79.2ZM138.8 76.1 141.5 76.1 145.1 75.6 144.3 74.8 140.6 74.8 137 75.3 137.5 75.9 138.8 76.1ZM178.9 71.6 180.7 71.6 182.7 71.1 180.2 70.9 178.7 70.8 178.9 71.6ZM15.5 38.2 15.2 37.4 15.3 37.1 15.1 36.6 14.3 37 13.8 37.1 12.4 37.6 12.6 38.1 13.7 38 14.8 38.1 15.5 38.2ZM9.2 41.2 9.8 40.5 9.7 39.2 9.2 39.2 8.8 38.9 8.4 39.2 8.4 40.4 8.2 40.9 8.7 40.9 9.2 41.2ZM9.6 42.2 9.2 41.4 8.8 41.6 8.5 42.3 8.7 42.6 9.4 43 9.6 42.2ZM23.7 35.7 24.2 35.4 25 35.4 25.8 35.4 26.3 35.3 26.2 35 24.7 34.9 24.7 35.1 23.5 35.3 23.7 35.7ZM34 35.1 34.6 35.7 33.9 35.2 33 35.4 32.3 35.1 32.7 34.6 33.9 35 34 35.1ZM124 -10.2 125.1 -8.6 127.3 -8.4 126.6 -8.8 125 -9.6 124 -10.2ZM119.8 -8.4 121.3 -8.5 122.9 -8.1 122.7 -8.6 120.7 -8.9 119.8 -8.8 119.8 -8.4ZM116.7 -8.5 118.5 -8.3 119.1 -8.7 117.3 -9 116.7 -8.5ZM127.9 2.2 128.7 1.1 128.6 0.3 128.1 0.4 127.9 -0.3 128.4 -0.8 127.7 -0.3 127.4 1 127.6 1.8 127.9 2.2ZM125.9 -3.2 127 -3.1 128.1 -2.8 129.4 -2.8 130.5 -3.1 130.8 -3.9 129.2 -3.4 128 -3.4 126.9 -3.8 125.9 -3.2ZM148.3 -5.6 149.4 -5.6 151 -5.2 152.1 -4.2 152.3 -5 151.5 -5.5 151.3 -6 150.2 -6.3 148.9 -6 148.3 -5.6ZM159.7 -8.9 160.9 -9.9 160.5 -9.4 159.7 -8.9ZM177.3 -17.6 178.4 -17.3 178.6 -18.1 177.4 -18.2 177.3 -17.6ZM164.1 -20.4 165.5 -21.2 167 -22.2 166.4 -22.1 164.4 -20.8 164.1 -20.4ZM-61.2 -51.8 -59.2 -51.3 -57.8 -51.6 -58.5 -52.1 -60 -52.1 -61.2 -51.8ZM-169.5 52.9 -168.3 53.3 -169 53.1 -169.5 52.9ZM-174.5 52.1 -172.5 52.4 -174 52.3 -174.5 52.1ZM-178 51.8 -176 51.9 -177.5 52 -178 51.8ZM-164.9 54.6 -163.2 54.8 -164.5 54.4 -164.9 54.6ZM-166.9 60.2 -165.6 60.3 -166.3 59.8 -166.9 60.2ZM-171.7 63.8 -169.5 63.4 -168.7 63.3 -170.3 63.7 -171.7 63.8ZM-165 54.2 -166.9 54.5 -167.8 53.6 -165.9 53.9 -165 54.2ZM-152.6 58.6 -153.3 57.8 -154.7 57.3 -153.3 57 -152.2 57.6 -152.6 58.6ZM12.7 55.6 12.1 56.1 11.1 55.9 11.4 55.2 12.2 54.8 12.7 55.6ZM18.1 57.9 18.9 57.5 18.3 57 18.1 57.9ZM92.7 13.5 93 12.5 92.6 11.6 92.7 13.5ZM-77.8 24.5 -77.9 25.1 -78.1 24.7 -77.8 24.5ZM-156.5 19.6 -155.5 20.3 -154.5 19.6 -155.5 18.9ZM-158.5 21.4 -158 21.8 -157.5 21.4 -158 21.1ZM-159.9 22.1 -159.5 22.3 -159.1 22.1 -159.5 21.8ZM-156.8 20.8 -156.3 21.1 -155.8 20.8 -156.3 20.4ZM-172.8 -13.7 -172.2 -13.3 -171.6 -13.7 -172.2 -14.1ZM-175.7 -21.2 -175.2 -20.9 -174.7 -21.2 -175.2 -21.6ZM-160.2 -21.2 -159.8 -20.9 -159.4 -21.2 -159.8 -21.5ZM-150 -17.7 -149.4 -17.3 -148.8 -17.7 -149.4 -18.1ZM-140.6 -9 -140 -8.6 -139.4 -9 -140 -9.4ZM-145.5 -16 -145 -15.7 -144.5 -16 -145 -16.4ZM-142.5 -18 -142 -17.6 -141.5 -18 -142 -18.4ZM-91.8 -0.6 -91 -0 -90.2 -0.6 -91 -1.2ZM-157.8 1.9 -157.4 2.2 -157 1.9 -157.4 1.6ZM166.4 -15.5 167.2 -14.9 168 -15.5 167.2 -16.1ZM167.8 -17.6 168.3 -17.2 168.8 -17.6 168.3 -17.9ZM144.4 13.4 144.8 13.7 145.2 13.4 144.8 13.1ZM134.1 7.4 134.5 7.7 134.9 7.4 134.5 7.1ZM-28.6 38.6 -28 39 -27.4 38.6 -28 38.2ZM-16.3 28 -15.6 28.5 -14.9 28 -15.6 27.5ZM-17.4 32.7 -17 33 -16.6 32.7 -17 32.4ZM-24.6 15.5 -24 15.9 -23.4 15.5 -24 15.1ZM57 -20.3 57.5 -19.9 58 -20.3 57.5 -20.6ZM55 -21.1 55.5 -20.8 56 -21.1 55.5 -21.4ZM43 -11.7 43.5 -11.3 44 -11.7 43.5 -12.1ZM73.1 3.5 73.5 3.8 73.9 3.5 73.5 3.2ZM53.2 12.5 53.9 13 54.6 12.5 53.9 12ZM-65.1 32.3 -64.8 32.5 -64.5 32.3 -64.8 32.1ZM-61.7 14.5 -61.2 14.8 -60.7 14.5 -61.2 14.2ZM-61.9 10.4 -61.3 10.8 -60.7 10.4 -61.3 10ZM170.6 7.1 171 7.4 171.4 7.1 171 6.8ZM151.4 7.4 151.8 7.7 152.2 7.4 151.8 7.1ZM166.6 -0.5 166.9 -0.3 167.2 -0.5 166.9 -0.7ZM178.9 -8.5 179.2 -8.3 179.5 -8.5 179.2 -8.7ZM-176.5 -13.3 -176.2 -13.1 -175.9 -13.3 -176.2 -13.5ZM-170.2 -19.1 -169.9 -18.8 -169.6 -19.1 -169.9 -19.3ZM-130.4 -25.1 -130.1 -24.9 -129.8 -25.1 -130.1 -25.3ZM-109.8 -27.1 -109.4 -26.8 -109 -27.1 -109.4 -27.4ZM-79.3 -33.6 -78.9 -33.3 -78.5 -33.6 -78.9 -33.9ZM-6 -15.9 -5.7 -15.7 -5.4 -15.9 -5.7 -16.2ZM-12.6 -37.1 -12.3 -36.9 -12 -37.1 -12.3 -37.3ZM68.5 -49.3 69.5 -48.6 70.5 -49.3 69.5 -50ZM-37.4 -54.3 -36.5 -53.7 -35.6 -54.3 -36.5 -54.9ZM92.3 11.5 92.8 11.8 93.3 11.5 92.8 11.2ZM93.4 7.5 93.8 7.8 94.2 7.5 93.8 7.2ZM105.3 -2.2 106.1 -1.6 106.9 -2.2 106.1 -2.8ZM107.4 -2.9 107.9 -2.5 108.4 -2.9 107.9 -3.2ZM114.6 -8.4 115.1 -8.1 115.6 -8.4 115.1 -8.8ZM115.9 -8.6 116.3 -8.3 116.7 -8.6 116.3 -8.9ZM119.4 -9.7 120 -9.3 120.6 -9.7 120 -10.1ZM126 -3.4 126.6 -3 127.2 -3.4 126.6 -3.8ZM129.6 -1.9 130 -1.6 130.4 -1.9 130 -2.2ZM133.9 -6.2 134.5 -5.8 135.1 -6.2 134.5 -6.6ZM151.2 -3.5 152 -2.9 152.8 -3.5 152 -4.1ZM154.7 -6.2 155.3 -5.8 155.9 -6.2 155.3 -6.6ZM159.5 -9.6 160.1 -9.2 160.7 -9.6 160.1 -10ZM160.4 -9 160.9 -8.7 161.4 -9 160.9 -9.3ZM117.8 9.8 118.7 10.4 119.6 9.8 118.7 9.2ZM120.4 13 121 13.4 121.6 13 121 12.6ZM127.5 26.4 127.9 26.7 128.3 26.4 127.9 26.1ZM147.5 45.2 148 45.5 148.5 45.2 148 44.9ZM151.1 46.8 151.5 47.1 151.9 46.8 151.5 46.5ZM154.6 49.5 155 49.8 155.4 49.5 155 49.2ZM165.5 55 166 55.4 166.5 55 166 54.6ZM-170.3 57.1 -170 57.3 -169.7 57.1 -170 56.9ZM172.5 52.9 173 53.2 173.5 52.9 173 52.5ZM-170.9 52.7 -170.5 53 -170.1 52.7 -170.5 52.4ZM-7.3 62 -6.9 62.3 -6.5 62 -6.9 61.7ZM-1.7 60.4 -1.3 60.7 -0.9 60.4 -1.3 60.1ZM-3.3 59 -3 59.2 -2.7 59 -3 58.8ZM2.5 39.6 3 40 3.5 39.6 3 39.2ZM27.6 36.2 28 36.5 28.4 36.2 28 35.9ZM25.9 39.2 26.3 39.5 26.7 39.2 26.3 38.9ZM23.3 38.6 23.8 39 24.3 38.6 23.8 38.2ZM109.9 19 110 19.1 110.1 19 110 18.9ZM126.1 33.4 126.5 33.7 126.9 33.4 126.5 33.1ZM138.1 38 138.4 38.2 138.7 38 138.4 37.8ZM129 34.4 129.3 34.6 129.6 34.4 129.3 34.2Z"/>
<path id="wt" fill="#fff" stroke="#7a7a7a" stroke-width="0.5" vector-effect="non-scaling-stroke" d="M50.4 44.3 50.3 44.6 51.3 45.2 52 45.1 53 45.3 53.2 46.2 53 46.9 52 46.8 51.2 47 50 46.6 49.1 46.4 48.6 45.8 47.7 45.6 46.7 44.6 47.6 43.7 47.5 43 48.6 41.8 49.1 41.3 49.6 40.6 50.1 40.5 50.4 40.3 49.6 40.2 49.4 39.4 49.2 39 48.9 38.8 48.9 38.3 49.2 37.6 50.1 37.4 50.8 36.9 52.3 36.7 53.8 37 53.9 37.2 53.7 37.9 53.9 38.9 53.1 39.3 53.4 40 52.7 40 52.9 40.9 54 41.6 53.7 42.1 52.9 41.9 52.8 41.1 52.5 42.8 51.3 43.1 50.9 44 50.3 44.3 50.4 44.3ZM58.5 46 60 46.2 61.7 45 61.2 44 59.5 43.5 58.5 44.5 58.5 46ZM103.7 51.6 105 51.9 107 53 108.5 54 109.7 55.7 109.3 54.5 108.5 53.4 106.8 52.2 104.8 51.5 103.7 51.6ZM32 0.2 33.5 0.3 34.1 -0.4 33.9 -2.5 32.6 -2.6 31.7 -1.3 31.8 -0.3 32 0.2ZM-92.2 46.7 -90.3 46.9 -88 47.3 -84.6 46.5 -84.8 47.9 -86.5 48.7 -88.6 48.5 -89.5 48 -92.2 46.7ZM-87.9 41.8 -87.1 41.6 -86.4 42.8 -86 45 -85 45.9 -86.5 45.9 -87.6 44.5 -87.9 43.5 -87.9 41.8ZM-84 46 -82.5 45.3 -81.3 45.2 -80 44.5 -81.7 43.5 -82.4 43 -83.5 44 -83.4 45 -84 46ZM-83.4 41.7 -82 42.3 -79.1 42.9 -79.8 42.1 -81.6 41.5 -83.4 41.7ZM-79.8 43.3 -78 43.9 -76.4 44.1 -76.1 43.6 -77.6 43.2 -79.8 43.3ZM-97.2 50.4 -96.2 51.8 -98.5 53.6 -99.2 53.1 -97.2 50.4ZM-117 61 -113.5 60.9 -110.8 62.2 -114 62.5 -117 61ZM-124 65 -120.5 65.3 -118 65.8 -119.5 66.8 -123 66.5 -124 65ZM29.2 -3.3 29.6 -6 30.8 -8.3 31.2 -8.5 30.5 -6.5 29.5 -3.5 29.2 -3.3ZM34 -9.5 34.5 -11 35.3 -14.3 34.6 -13.5 34 -9.5Z"/>
<path id="bd" fill="none" stroke="#9a9a9a" stroke-width="0.45" vector-effect="non-scaling-stroke" stroke-linejoin="round" d="M-141 69.6 -141 60.3 -139 60.1 -137.5 59.2 -135.5 59.8 -133.5 58.5 -132 57 -130 55.9 -130 54.7M-123.3 49 -110 49 -95.2 49 -95.2 49.4 -94.6 48.7 -91 48.2 -89.6 48 -88.4 48.3 -84.8 46.8 -84.1 46.3 -82.4 45.3 -82.4 42.9 -83.1 42.1 -82.7 41.7 -79 42.8 -79.1 43.4 -76.9 43.6 -76.3 44.2 -74.8 45 -71.5 45 -70.7 45.4 -70 46.7 -69.2 47.4 -68.2 47.4 -67.8 47.1 -67.8 45.7 -67.2 45.2 -67 44.8M-117.1 32.5 -114.7 32.7 -114.8 32.5 -111 31.3 -108.2 31.3 -108.2 31.8 -106.5 31.8 -104.7 30.1 -103.9 29.3 -102.6 29.8 -101.4 29.8 -100 28.2 -99.5 27.5 -99 26.4 -97.5 25.9 -97.2 25.9M-92.2 14.5 -92.2 15.3 -91.7 16.1 -90.4 16.1 -90.4 17.3 -89.2 17.8 -89.1 17.8 -88.3 18.5M-89.2 17.8 -89.2 15.9 -88.9 15.8M-89.2 15.9 -89.3 14.4 -90.1 13.7M-89.3 14.4 -88.2 14 -87.8 13.3M-88.9 15.8 -88.2 15.7 -87 14 -86.1 14 -85 14.5 -84.5 15 -83.2 15M-86.7 13.5 -85.7 11.2M-85.7 11.2 -84.7 11 -83.7 10.9M-82.9 8.1 -82.9 9.5 -82.6 9.6M-77.9 7.2 -77.3 8.5M-72.2 11.9 -72.5 11.1 -72.9 10.4 -73.3 9.2 -72.8 9.1 -72.3 8 -71.3 7.1 -70 7 -69.4 6.1 -67.7 6.3 -67.3 5.5 -67.8 4.5 -67.6 3.8 -67.3 3.5 -67.8 2.8 -67.3 2.2 -66.9 1.3M-69.9 1.7 -69.8 1.1 -69.2 1 -69.2 0.6 -70 0.5 -70 -0.2 -69.6 -0.5 -69.4 -1.1 -69.9 -4.3M-66.9 1.3 -66.3 0.7 -65.5 0.8 -65.1 1.5 -64.2 1.5 -64 2.5 -63.4 2.2 -63.4 2.4 -64.3 3.8 -64.6 4.1 -63.1 3.8 -62.8 4 -61 4.5 -60.6 5 -60.7 5.2 -60.2 5.2 -59.8 4.4 -59.5 3.6 -59.8 2.3 -59.7 1.8 -59 1.3 -58.5 1.3 -57.6 1.7 -56.6 1.9 -55.9 2 -55.6 2.4 -54.9 2.4 -54.1 2.1 -53.4 2.1 -52.9 2.1 -52.6 2.5 -52 3.2 -51.7 4.2 -51.6 4.2M-60.7 5.2 -61.4 5.9 -61.1 6.7 -60.6 6.9 -60.3 7 -60.6 7.4 -60.1 8 -59.8 8.4M-57.1 6 -57.3 5.1 -57.9 4.8 -57.9 4.6 -57.3 3.3 -56.5 2 -56.6 1.9M-54 5.8 -54.5 4.9 -54.4 4.2 -54 3.6 -54.4 2.5 -54.1 2.1M-78.9 1.4 -78.2 0.9 -77.4 0.4 -76.6 0.3 -76.3 0.4 -75.8 0.1 -75.4 -0.2 -75.2 -0.9 -75.6 -1.6 -76.6 -2.6 -77.8 -3 -78.5 -3.9 -79 -5 -79.6 -4.5 -80.4 -4.4 -80.4 -3.5 -80.3 -3.4M-75.4 -0.2 -74.4 -0.6 -73.7 -1.3 -73.1 -2.3 -72.3 -2.4 -70.8 -2.3 -70 -2.7 -70.7 -3.7 -69.9 -4.3M-69.9 -4.3 -70.9 -4.4 -72.9 -5.3 -73.2 -6.1 -73.7 -6.9 -74 -7.5 -73 -9 -72.6 -9.5 -71 -10 -70.5 -11 -69.5 -10.9M-69.5 -10.9 -68.7 -12.6 -69 -13.2 -68.9 -14.3 -69.3 -14.9 -69.4 -15.7 -69 -16.5 -69.6 -17.6 -69.9 -18.1 -70.4 -18.3M-69.6 -17.6 -69.1 -18.3 -68.8 -19.4 -68.4 -20 -68.8 -20.4 -68.2 -21.5 -67.8 -22.9 -67.1 -22.7 -66.3 -21.8 -64.9 -22.1 -64.4 -22.8 -63.9 -22 -62.8 -22M-69.5 -10.9 -68.3 -10.9 -66.6 -9.9 -65.3 -9.8 -65.4 -10.5 -65.3 -11.5 -64.3 -12.5 -63.2 -12.6 -62.1 -13.2 -61.7 -13.5 -60.5 -13.8 -60.2 -14.7 -60.3 -15.1 -60.5 -15.1 -60.2 -16.3 -58.3 -16.3 -58.4 -16.9 -58.3 -17.3 -57.7 -17.6 -57.5 -18.2 -58.2 -19.9 -57.9 -20.7M-62.8 -22 -62.7 -22.2 -61.9 -23 -60.3 -24 -58.8 -24.8 -57.8 -25.2 -57.6 -25.6 -58.6 -27.1 -56.5 -27.5 -55.7 -27.4 -55.2 -27 -54.6 -26.6 -54.6 -25.7M-62.8 -22 -62.3 -21 -62.3 -20.5 -61.8 -19.6 -60 -19.3 -59.1 -19.4 -58.2 -19.9M-57.9 -20.7 -57.9 -22.1 -56.9 -22.3 -55.8 -22.4 -55.6 -23 -55.4 -24 -54.3 -24.1 -54.6 -25.7M-54.6 -25.7 -53.6 -26.1 -53.7 -26.9 -55.2 -27.9 -56.3 -28.9 -57.6 -30.2M-57.6 -30.2 -56.8 -30.1 -55.6 -30.9 -54.6 -31.5 -53.8 -32 -53.2 -32.7 -53.8 -33.5M-57.6 -30.2 -58.1 -32 -58.1 -33 -58.4 -34M-67.8 -22.9 -68.4 -24.5 -68.6 -26.5 -69.1 -27.8 -70 -29.4 -69.9 -30.3 -70.5 -31.4 -70 -33.1 -70.4 -35.2 -71.1 -36.6 -71.1 -37.6 -71.4 -38.9 -71.7 -39.8 -71.8 -40.8 -71.7 -42 -72.1 -42.3 -71.5 -43.8 -71.8 -44.2 -71.3 -44.4 -71.8 -45 -71.6 -45.6 -71.9 -46.9 -72.4 -47.7 -72.3 -48.2 -73.4 -49.3 -73.3 -50.4 -72.5 -51 -72.3 -51.4 -71.9 -52 -69.5 -52.1 -68.6 -52.3M-68.6 -52.6 -68.6 -54.9M-1.8 35.1 -1.7 34.1 -1.7 33.3 -1.1 32.6 -1.3 32.3 -2.6 32.1 -3.1 31.7 -3.7 31.6 -3.7 30.9 -5.2 30 -6.1 29.7 -7.1 29.6 -8.7 28.8 -8.7 27.7 -8.7 27.4M-8.7 27.7 -13.1 27.7M-8.7 27.4 -8.7 26 -12 26 -12 23.5 -13.1 22.8 -13 21.3 -17 21.4M-8.7 27.4 -4.9 25 -6.5 25 -5.5 16.3 -5.3 16.2 -9.5 15.4 -10.6 15.1 -11.7 15.4 -12.2 14.6M-12.2 14.6 -13.3 15.4 -14.6 16.6 -16.1 16.5 -16.5 16.1M-12.2 14.6 -12.1 13.8 -11.5 13.4 -11.5 12.4 -12.1 12.4 -13.7 12.6 -15.5 12.3 -16.7 12.4M-16.7 13.6 -15.6 13.6 -15.1 13.9 -14.4 13.6 -13.8 13.5 -15.3 13.2 -16.8 13.2M-13.7 12.6 -13.7 11.8 -14.1 11.7 -14.6 10.2M-12.1 12.4 -11 12.2 -10.7 11.9 -10.2 11.8 -9.3 12.3 -8.9 12.1 -8.4 11.4 -8.4 10.9 -7.9 10.3 -7.6 10.2M-13.2 8.9 -12.4 9.8 -11.9 10 -11.1 10 -10.7 9.3 -10.5 8.3 -11.2 7.4 -11.4 6.8M-10.5 8.3 -9.4 7.5 -8.4 7.7 -8.1 6.8 -8.6 6.5 -7.6 5.2 -7.5 4.3M-8.4 7.7 -8.2 8.5 -7.8 8.6 -8.1 9.4 -7.6 10.2 -6.9 10.1 -6.2 10.5 -5.4 10.4 -4.8 9.8 -4.3 9.6 -3.5 9.9 -2.8 9.6 -2.6 8.2 -3.2 6.3 -2.8 5.4 -2.9 5M-5.4 10.4 -5.2 11.4 -4.4 12.5 -3.1 13.5 -2 14.6 -0.5 15.1 0.4 14.9 0.9 13.6 2.2 12.6M-2.8 9.6 -2.9 11 -0.4 11.1 0.9 11 1.4 11.5 2.2 12.6M0 11 0.4 10.2 0.4 9.5 0.6 8.3 0.5 7.4 1.1 6.2M0.9 11 0.9 10.9 1.4 9.3 1.7 6.6 1.9 6.1M2.2 12.6 3.6 11.7 3.6 10.3 2.9 9.1 2.7 6.3M3.6 11.7 4.4 13.1 5.4 13.9 6.9 13.1 8 13 9.8 12.8 11.5 13.3 12.3 13.4 13.1 13.6 14 13.4M0.4 14.9 1.3 15.3 3.6 15.6 4.3 16.9 4.3 19.2 3.2 19.1 3.1 19.7 1.8 20.6 1.2 20.7 -4.9 25M4.3 19.2 5.7 19.6 8.6 21.5 11.9 23.5 13.6 23 15 23 16 23.5M11.9 23.5 11 24.5 10.3 24.4 9.5 26.4 9.7 27.1 9.7 28.2 10 30.2 9.5 30.3 9.1 32.1 8.4 32.7 7.6 33.3 8.3 34.7 8.4 35.5 8.4 36.9M9.5 30.3 10.3 31 11.5 32.4 11.1 33.3M16 23.5 24 19.5 24 20 25 20 25 22 25 29.2 24.7 30 25 31.6M25 22 36.9 22M16 23.5 15.9 20.4 15.5 20.7 15.3 17.9 15.7 16.4 15.2 16.1 13.9 13.3 14 13.4M14 13.4 14.6 12.1 14.9 11.5 15.1 10.4 14.9 10.1 15.5 9.9 14.3 9.9 13.9 9.4 13.3 8.4 12.1 7.8 11.6 6.5 11 6.6 10.1 7 9.5 6.4 8.6 4.8M24 19.5 23.9 15.6 23 15.7 22.6 14.9 22.3 14.3 22.5 14.1 22.2 13.8 22 12.9 22.3 12.6 22.5 11 22.9 11.1 22.9 10.7M15.5 9.9 15.9 9.8 16.7 9 18.4 8.9 18.9 8.6 19.1 9.1 20.1 9 21 9.5 21.7 10.6 22.9 10.7M22.9 10.7 23.6 8.7 24.6 8.2 25.1 7.8 26.2 6.6 27.2 5.6 27.4 5.2 26.4 5.2 25.3 5.2 24.4 5.1 23.3 4.6 22.7 4.6 22.4 4 21.7 4.2 20.9 4.3 20.3 4.7 19.5 5 18.5 4.2 18.5 3.5M15.9 9.8 15.1 8.4 14.5 7 14.8 6.2 15.1 5.1 15.4 3.3 16 2.3 16.1 1.9M11.3 2.3 13.3 2.2 14.3 2.2 15.1 2 16 1.7 16.1 1.9M9.6 2.3 11.3 2.3 11.3 1 9.8 1M11.3 1 14 1.4 13.2 -0.4 14.5 -1.6 14.2 -2.1 13.3 -2.3 12.6 -1.9 11.9 -3.4 11.1 -3.9M16.1 1.9 16.5 3.1 17.9 3.6 18.5 3.5 18.4 2.9 17.9 1.7 17.8 0 17.5 -0.8 16.4 -1.7 15.9 -2.7 15.2 -4.3 14.1 -4.5 13.6 -4.5 12.6 -4.4 12.3 -4.6 11.9 -5M12.3 -4.6 13 -4.8 12.9 -5.5 12.3 -6.1M12.3 -6.1 13.7 -5.9 16.3 -5.9 16.9 -7.2 17.5 -8.1 18.1 -8 18.5 -7.8 19.4 -8 19.6 -7 20.1 -6.9 20.6 -6.9 21.7 -7.3 21.9 -9.5 21.8 -11 22.4 -11 22.8 -11 23.9 -10.9 24 -12.9 22 -13 22 -16.2 23.2 -17.5 21.4 -18 20.9 -18.3 18.3 -17.3 14.2 -17.4 12.8 -17 11.7 -17.3M23.9 -10.9 24.8 -11.2 25.4 -11.3 26.6 -11.9 27.2 -11.6 28.2 -12.3 29.6 -13.3 29.6 -12.2 28.5 -10.8 28.7 -8.5 30.7 -8.3M30.7 -8.3 30.4 -7.1 29.4 -5.9 29.2 -4.4 29.3 -3.3 29 -2.8 29.1 -1.3 29.7 -0.6 29.8 0.2 29.9 0.6 30.1 1.1 31.2 2.2 30.8 3.5 29.9 3.4 29.7 4.6 28.4 4.3 27.4 5.2M24 -12.9 24 -17.3 23.2 -17.5M24 -17.3 25.3 -17.7 26.4 -17.8 27.6 -17 28.5 -16.5 28.8 -16 29.5 -15.6 30.3 -15.6 30.6 -15.1 32.7 -13.7 33.2 -14.1 33 -12.7 33.6 -10.5 33 -9.4 32.8 -9.2 31.2 -8.6 30.7 -8.3M33 -9.4 34.6 -11.5 35.3 -14.2 35.8 -16.1 35 -16.8 35.3 -17.1 34.6 -16.3 34.4 -14.4 33.2 -14.1M34.6 -11.5 36 -11.4 37.5 -11.6 38.4 -11.3 39.5 -10.9 40.4 -10.8M30.3 -15.6 31.4 -16.1 32.8 -16.7 32.7 -18.1 32.8 -19 32.5 -20.4 32.2 -21.1 31.3 -22.4M31.3 -22.4 31.8 -23.9 31.9 -24.4 32 -25.9 32 -26.3 32.8 -26.7M31.3 -22.4 29.4 -22.1 28 -22.8 27.1 -23.6 26.2 -24.7 25.7 -25.5 24.7 -25.7 23.3 -25.3 22.8 -25.5 21.6 -26.7 20.9 -26.8 20.7 -25.9 20.2 -24.9 19.9 -24.8 19.9 -28.5 18.2 -28.3 17.4 -28.8 16.8 -28.1 16.3 -28.6M19.9 -24.8 20 -22 21 -22 21 -18.3M29.4 -22.1 27.7 -21.1 26.7 -19.3 25.9 -18.7 25.3 -17.7M28.9 -28.9 29.3 -29.9 28.8 -30.1 28.1 -30.6 27.1 -29.9 27.7 -28.9 28.9 -28.9M31.2 2.2 32.9 3.8 33.5 3.8 34 4.2 34.5 4.6 35.3 5.5 35.8 5.3 35.8 4.8 36.2 4.4 37.1 4.2 38.4 3.6 39.6 3.4 40.8 4.3 41.9 3.9M27.4 5.2 28.4 4.3 30.8 3.5M30.8 3.5 31.2 3.8 32 3.6 33.4 3.8 33.5 3.8M34 4.2 34.4 3.3 35 1.9 34.7 1.1 34 0.3 33.9 -0.9 34.1 -1 37.7 -3.1 37.7 -3.7 39.2 -4.7M29.8 -1.4 30.8 -1 33.9 -1M30.5 -1.1 30.4 -2.4 29.9 -2.3 29 -2.8M30.4 -2.4 30.5 -3.6 29.8 -4.5 29.4 -5.9M41.9 3.9 41.2 3.9 41 2.8 41 -0.9 41.6 -1.7M41.9 3.9 42.8 4.3 44 4.9 45 5 47.7 8 48 8 44.6 10.4M44.6 10.4 43.5 9.4 43 9.5 42.4 10.9 42.8 11.5 43.2 12M42.4 10.9 41.8 11.3 41.7 12 41.7 12.5 42.3 12.5 42.8 12.5M41.7 12.5 40.9 13.4 40 14.5 39.3 14.5 38.5 14.4 37.9 14.9 37.6 14.2 36.4 14.4 36.3 15.2 37 17.1 37.9 17.4 38.4 17.9 38.6 17.9M36.4 14.4 36.2 13.7 35.3 12.2 34.8 11.3 34.3 10.6 34.1 9.5 33.6 8.5 33 7.8 33.6 7.7 34.1 7.2 34.8 6.6 35.3 5.5M22.9 10.7 23.6 10.2 24.6 9.8 25.5 10.4 26.5 9.6 27.6 9.6 29 9.6 29.5 10.1 30.8 9.7 32 10.2 32.4 11.1 32.3 12.2 33.2 12.2 33.1 11.4 33.9 9.5 33.6 8.5M-8.9 42 -8.2 42.1 -6.6 41.9 -6.4 41.4 -7 40.2 -7.1 39.7 -7.5 39.6 -7 39 -7.4 38.4 -7 38 -7.4 37.2M-1.8 43.4 -1.4 43 0.5 42.7 1.8 42.4 3.2 42.4M2.5 51.1 2.7 50.8 3.6 50.4 4.3 49.9 5.7 49.5 6.2 49.5 6.7 49.2 8.1 49 7.6 47.6 7 47.4 6.1 46.2 7 46 7 45.2 7.5 44.1 7.4 43.7M7.6 47.6 9.6 47.5 10.4 47.3 12.1 47.7 13 47.5 12.9 48.3 13.6 48.9 12.5 49.5 12.2 50.3 14.3 51.1 14.7 51 14.6 52.6 14.2 52.9 14.2 53.9M7 46 7.8 45.8 8.4 46.5 9.5 46 10.4 46.5 12.2 47.1 13.8 46.5 13.7 45.5M13.6 48.9 15.3 49 16.9 48.6 17.1 48 16.5 47.5 16.1 46.9 15.4 46.7 13.8 46.5M14.7 51 16.2 50.7 17.6 50.4 18.8 49.5 19.8 49.2 21.6 49.5 22.6 49.1M16.9 48.6 17.8 47.8 19 48.1 20.8 48.6 22.1 48.4 22.6 49.1M14.2 53.9 14.2 53.9M6.2 49.5 6.1 50.1 6.2 50.8 6 51.9 6.9 52.2 7.2 53.2 7 53.5M3.4 51.4 4.6 51.4 5.6 51.3 6 51.9M8.7 55 9.7 54.8 9.9 54.6M16.1 46.9 16.6 46.5 17.6 45.9 18.8 45.9 19.4 45.2 19 44.9 19.6 44 19.2 43.5 18.5 42.5M15.4 46.7 15.6 46 15.2 45.5 14.3 45.2M15.6 46 16.5 45.2 18.1 45.1 19 44.9M16 45.2 15.8 44.7 16.6 43.9 17.5 43 18.5 42.5M18.8 45.9 20.3 46.2 21.1 46.3 21.6 46.9 22.1 47.7 22.1 48.4M22.6 49.1 22.9 47.9 24.9 47.7 26.2 48 26.6 48.2 28.1 46.8 28.2 45.5 28.9 44.9M26.6 48.2 27.5 48.5 28.7 48.1 29.8 46.5 30.1 46.4M22.1 48.4 22.5 49.5 23.9 50.4 23.6 51.6 23.5 52 23.5 53.9 23.2 54.3 22.8 54.4 19.9 54.4M23.6 51.6 25.3 51.9 27.5 51.6 30.2 51.4 30.9 52 31.8 52.1 32.2 52.3 33.8 52.3 34.4 51.8 35.4 50.6 37.4 50.4 38.6 49.9 40.1 49.6 39.7 48 38.3 47.6 38.2 47.1M23.5 53.9 24.5 53.9 25.5 54.3 26.6 55.2 28.2 56.2 30.9 55.1 30.8 54.8 32.7 53.4 31.8 52.1M21.1 55.2 22.3 55 22.8 54.9 23.2 54.3M21.1 56 22.2 56.4 24.9 56.4 26.6 55.7 28.2 56.2M28.2 56.2 27.8 57.2 27.3 57.5 27.7 57.8 27.4 58.7 28 59.5M21.6 57.4 25.2 58 27.3 57.5M20.5 41.1 21 42.2 22.4 42.3 22.9 41.3 22.4 41.1 21.1 40.9 20.6 41.1M19.4 41.9 19.7 42.7 20.1 42.6 20.5 42.2 20.6 41.1 20.9 40.4 20.2 39.7 20 39.7M20.1 42.6 19.2 43.5M19.6 44 20.1 44.2 21 44.6 22.1 44.5 22.5 44.6 22.9 43.8 22.4 42.5 22.4 42.3M22.5 44.6 24 43.7 25.6 43.7 27.2 44.2 28 43.8 28.6 43.7M22.9 41.3 24.9 41.4 26.1 41.3 26.6 41.6 27.6 42 28 42M26.1 41.3 26.3 40.9 26 40.8M6 58.9 6 58.9M12.4 60 12.6 61.5 12.1 63.3 14.1 64.4 14 65.5 15.1 66.2 16.1 67.4 17.6 68.1 18.2 69 20.6 69.1 21.6 69.3 22.9 68.4 23.5 67.9 23.7 66.2 24.2 65.8M20.6 69.1 21.4 69.9 23.6 69 25.1 69.1 26.2 69.8 28.2 70 29 69.8 28.4 68.9 30 67.7 29.1 66.9 30.2 65.8 30 64.9 30.6 64.5 29.6 63.5 31.3 62.7 27.8 60.6 28 60.5M11.7 58.9 11.5 59.4 12.4 60M26.4 41.8 26.6 41.6M28 42 28.6 41.8M36.2 36.7 36.7 36.8 38.2 36.9 39.5 36.7 40.7 37.1 42.3 37.2 44.8 37.2 44.3 37.9 44.8 39.7 44.1 39.4 43.6 40.2 43.7 40.7 43.6 41.1 42.6 41.6 41.6 41.5M44.8 37.2 45.4 35.9 46.1 35.1 45.7 34.4 45.6 33.9 46.1 33 47.3 32.5 47.8 31.7 47.7 31 48 30.5 48.6 29.9M47.7 31 47.3 30.1 46.6 29.1 44.7 29.2 41.9 31.2 40.4 31.9 39.2 32.2 38.8 33.4 41 34.4 41.4 35.6 41.3 36.4 42.3 37.2M38.8 33.4 36.8 32.3 36 32.4 35.5 32.4 35.6 33.3 35.8 33.3 36.6 34.2 36.4 34.6 36 34.6M39.2 32.2 38 30.5 37.7 30.3 37.5 30 36.7 29.9 36.1 29.2 35 29.4M35.5 32.4 35.4 31.5 35 29.4M48 30 47.4 29 46.6 29.1M36.9 41.3 36.9 41.3M41.6 41.5 43.6 41.1 45 41.2 46.5 41.1 46.1 41.7 46.4 41.9 45.5 42.5 44.5 42.7 42.7 43.2 40.9 43.4 40.3 43.1M43.6 40.2 44.4 40 45 39.7 45.5 39 46.5 38.8 46.6 39.2 45.8 39.8 45.6 40.8 45.4 41 45 41.2M44.8 39.7 45.5 39 46.1 38.7 47 39.3 48 38.8 48.4 38.6 48.9 38.3M46.5 41.1 47.4 41.2 48 41.4 48.6 41.8M36.9 41.3 36.9 41.3M48.6 41.8 47.8 41.2M38.2 47.1 39.1 47.3M40.1 49.6 40.1 49.6M46.7 44.6 46.7 44.6M47.7 45.6 47.7 45.6M47.7 45.6 48.6 46.5 48.4 47.3 47.3 47.7 46.5 48.4 47 49.2 46.8 50.2 48 50.9 48.6 49.9 50.8 51.7 52.3 51.7 54.5 51 55.7 50.6 56.8 51 58.4 51.1 59.6 50.5 60.4 50.8 61.3 50.8 61.6 51.3 60 52 61 52.9 62.4 53.9 65.2 54.4 68.2 55 69.1 55.4 70.9 55.2 71.2 54.1 72.2 54.4 73.4 53.5 74.4 53.6 76.9 54.5 76.5 54.2 77.8 53.4 80 50.9 80.6 51.4 81.9 50.8 83.4 51.1 84 50.9 85.1 50.1 85.5 49.7 86.8 49.8 87.4 49.2M87.4 49.2 87.8 49.3 88.8 49.5 90.7 50.3 92.2 50.8 94.1 50.5 94.8 50 97.3 49.7 98.2 50.4 97.8 51 98.9 52 100.9 51.5 102.1 51.3 102.3 50.5 103.7 50.1 104.6 50.3 106.9 50.3 108.5 49.3 110.7 49.1 112.9 49.5 114.4 50.2 115 50.1 116.7 49.9M87.4 49.2 87 48.6 85.8 48.5 85.7 47.5 85.2 47 83.2 47.3 82.5 45.5 81.9 45.3 80 45 80.9 43.2 80.2 42.9 80.3 42.3 79.6 42.5 79.1 42.9 77.7 43 75.7 42.9 74.2 43.3 73.6 43.1 73.5 42.5 71.8 42.8 71.2 42.7 70.4 42.1 69.1 41.4 68.6 40.7 68.1 41 66.7 41.2 66.5 42 66 42 66.1 43 64.9 43.7 62 43.5 61.1 44.4 58.5 45.6 55.9 45 56 41.3 55 41.1 53.9 42.1 52.9 42.1M116.7 49.9 117.9 49.5 119.3 50.1 119.3 50.6 120.2 51.6 120.7 52 120.7 52.5 120.2 52.8 121 53.3 122.2 53.4 123.6 53.5 125.1 53.2 125.9 52.8 126.6 51.8 127.3 50.7 127.7 49.8 129.4 49.4 130.6 48.7 131 47.8 132.5 47.8 133.4 48.2 135 48.5 134.5 47.6 134.1 47.2 133.8 46.1 133.1 45.1 131.9 45.3 131 45 131.3 44.1 131.1 42.9 130.6 42.9 130.6 42.4M116.7 49.9 117.4 49.6 116.7 49.9 115.5 48.1 116.2 47.9 117.3 46.8 118.9 46.8 119.8 46.4 119.7 45.8 117.4 45.6 116.6 44.8 115 44.3 113.5 44.8 111.9 45.1 111.3 44.5 111.8 43.7 110.4 42.9 109.2 42.5 107.7 42.5 106.1 42.1 104.5 41.9 103.3 41.9 101.8 42.5 100.8 42.7 99.5 42.5 97.5 42.7 96.3 42.7 95.8 43.3 95.3 44.2 94.7 44.4 93.5 45 90.9 45.3 90.6 45.7 91 46.9 90.3 47.7 88.9 48.1 88 48.6 87.8 49.3M80 45 82.5 45.5M80.2 42.9 80.3 42.3 80.1 42.1 78.5 41.6 77.3 41.1 76.5 40.4 75.5 40.6 74.8 40.4 73.8 39.9 73.9 39.5 73.7 39.4 73.9 38.5 74.9 38.4 75.2 37.1 75 37.4 74.6 37 74.1 36.8 72.9 36.7 71.8 36.5 71.3 36.1 71.6 35.2 71.1 34.7 71.2 34.3 70.9 34 69.9 34 70.3 33.4 69.7 33.1 69.3 31.9 68.6 31.7 67.8 31.6 66.9 31.3 66.4 30.7 66.3 29.9 65 29.5 63.6 29.5 62.5 29.3 60.9 29.8 61.8 28.7 62.7 28.3 62.8 27.4 63.2 27.2 63.3 26.8 61.8 26.2 61.6 25.1M60.9 29.8 61.4 31.5 60.9 31.5 60.5 33.1 60.9 33.5 60.5 33.7 61.2 35.7 61.1 36.5 60.4 36.5 59.2 37.4 58.4 37.5 57.3 38 56.6 38.1 55.5 38 54.8 37.4 53.9 37.2M61.2 35.7 62.2 35.3 63 35.4 63.2 35.9 64.5 36.3 64.7 37.1 65.6 37.3 66.5 37.4 67.8 37.1 68.1 37 69.2 37.2 69.5 37.6 70.1 37.6 70.3 37.7 70.4 38.1 70.8 38.5 71.3 38.3 71.2 37.9 71.5 37.9 71.4 37.1 71.8 36.7 72.9 36.7M66.5 37.4 66.5 38.4 65.2 38.9 64.2 39.3 63.5 39.4 62.4 40.1 61.9 41.1 61.5 41.3 60.5 41.2 60.1 41.4 59.9 42.2 58.6 42.8 57.8 42.2 56.9 41.8 57.1 41.3 56 41.3M70.4 38.1 70.8 39.1 69.5 39.5 69.6 40.1 70.6 40 71 40.2 72 40.2 73 40.4 73.8 39.9M69.5 39.5 68.2 38.9 67.4 39.1 67 39.5 68.2 40.7M71.2 42.7 72.3 41.8 73 41.1 71.9 41.4 71.1 41 70.4 41 71 40.2M69.9 34 74.5 37 75.2 37.1M74.5 37 75.9 36.7 76.2 35.9 77.8 35.5 78.9 34.3 78.8 33.5 79.2 33 79.2 32.5 78.5 32.6 78.7 31.5 79.7 30.9 81.1 30.2 80.5 29.7 80.1 28.8 81.1 28.4 82 27.9 83.3 27.4 84.7 27.2 85.3 26.7 86 26.6 87.2 26.4 88.1 26.4 88.2 26.8 88.1 27.4 88.7 28.1 88.8 27.3 89.5 28.3 90.7 28.1 91.7 27.8 92.5 27.9 93.4 28.6 94.6 29.3 95.4 29 96.1 29.5 96.6 28.8 96.2 28.4 97.3 28.3 97.4 27.9 97.1 27.7 97.1 27.1 96.4 27.3 95.1 26.6 95.2 26 94.6 25.2 94.6 24.7 93.4 24.1 93.2 23 92.7 22 92.6 21.3 92.4 20.7M80.1 28.8 80.5 29.7 81.1 30.2M88.1 26.4 88.7 26.3 88.2 25.8 88.9 25.2 88.3 24.9 88.7 24.2 88.5 23.6 89 22.9 89.1 22M88.2 26.8 88.7 26.3 89.7 26.2 90.4 26.9 92.1 26.9 92 26.3 89.9 25.3 90.9 25.1 92.4 25 92 24.2 91.9 24.1 91.5 24.1 91.2 23.5 91.7 23 92.1 23.6 92.7 22 92.4 20.7M74.5 37 73.9 34.7 74.2 33.4 74.3 32.7 75.3 32.3 74.5 31.1 74.4 31 73.4 30 72.8 29 71.8 27.9 70.6 28 69.5 26.9 70.2 26.5 70.3 25.7 70.8 25.2 71 24.4 69 24.3 68.8 24.4 68.2 23.7M89.5 28.3 88.8 27.3M97.4 27.9 98.2 27.7 98.7 27.5 98.7 26.7 98 25 97.7 24.8 97.6 23.9 98.7 24.1 99 23.1 99.5 22.9 99.2 22.1 100.4 21.6 101.2 21.8 101.2 21.4 101.7 22.3 102.2 22.5M102.2 22.5 103.2 22.7 103.5 22.7 104.5 22.8 105.3 23.4 105.8 23 106.7 22.8 106.6 22.2 107 21.8 108.1 21.6M100.1 20.4 100.6 20.2 101.2 21.4M100.1 20.4 99 19.8 98.3 19.7 97.8 18.6 97.4 18.4 97.9 17.6 98.5 16.8 98.9 16.2 98.5 15.3 98.2 15.1 98.4 14.6 99.1 13.8 99.2 13.3 99.2 12.8 99.6 11.9 99.2 11 98.6 10M100.1 20.4 100.5 19.5 101.3 19.5 101 17.5 102.1 18.1 103 18 103.5 18.4 104.7 17.4 104.8 16.4 105.6 15.6 105.5 14.7 105.2 14.3 104.3 14.4 103 14.2 102.3 13.4M101.7 22.3 102.2 22.5M101.7 22.3 101.2 21.4M105.2 14.3 106.5 14.6 107.4 14.2 107.6 15.2 107.3 15.9 106.6 16.6 105.9 17.5 105.1 18.7 103.9 19.3 104.2 19.6 104.8 19.9 104.4 20.8 103.2 20.8 102.8 21.7 102.2 22.5M107.4 14.2 107.6 13.5 107.5 12.3 106.4 12 105.8 11.6 105.9 10.9 104.3 10.5M100.1 6.5 101.2 5.7 101.8 5.8 102.1 6.2M67.1 24.7 67.1 24.7M33.5 42 33.5 42M52.9 42.1 52.9 42.1M36.9 22 37.2 21M36.9 22 36.9 22M35 29.4 35 29.4M51 26 51 26M50.6 24.8 51.4 24.6M51.4 24.6 51.6 24.3 51.8 23.9 52.6 22.9 55.2 22.7 55.7 22 55 20 52 19 49.1 18.6 48.2 18.2 47.5 17.1 47 16.9 46.7 17.3 46.4 17.2 45.4 17.3 45.2 17.4 44.1 17.4 43.8 17.3 43.4 17 43.1 16.7 42.8 16.3M55.7 22 55.2 22.7 55.2 23.1 55.5 23.5 55.5 23.9 56 24.1 55.9 24.9 56.4 24.9M52 19 53.1 16.7M124.3 39.9 125.3 40.6 126.2 41.1 126.9 41.8 127.3 41.5 128.2 41.5 128 42 129.6 42.4 130 43 130.6 42.4 130.4 42.3M126.2 37.7 126.7 37.9 127.1 38.3 128.3 38.6M124.3 39.9 124.3 39.9M141 -2.6 141 -9.1M109.6 2 110.4 1.7 111.2 1.9 112 1.4 112.9 1.5 113.8 1.2 114.6 1.4 115.1 2.8 115.5 3.2 115.9 4.3 117.9 4.1M125 -9.6 124.9 -9 125.1 -8.6"/>
<g id="spk"><path fill="#4393c3" d="M-74 59h2v1.2h-2zM-72 59h2v1.2h-2zM-68 59h2v1.2h-2zM-46 59h2v1.2h-2zM-44 59h2v1.2h-2zM-72 60.2h2v1.2h-2zM-50 60.2h2v1.2h-2zM-50 61.5h2v1.2h-2zM-46 61.5h2v1.2h-2zM-74 62.8h2v1.2h-2zM-68 62.8h2v1.2h-2zM-66 62.8h2v1.2h-2zM-52 62.8h2v1.2h-2zM-50 62.8h2v1.2h-2zM-24 62.8h2v1.2h-2zM-22 62.8h2v1.2h-2zM-18 62.8h2v1.2h-2zM-74 64h2v1.2h-2zM-72 64h2v1.2h-2zM-70 64h2v1.2h-2zM-68 64h2v1.2h-2zM-66 64h2v1.2h-2zM-52 64h2v1.2h-2zM-50 64h2v1.2h-2zM-48 64h2v1.2h-2zM-20 64h2v1.2h-2zM-16 64h2v1.2h-2zM-70 65.2h2v1.2h-2zM-68 65.2h2v1.2h-2zM-66 65.2h2v1.2h-2zM-42 65.2h2v1.2h-2zM-38 65.2h2v1.2h-2zM-36 65.2h2v1.2h-2zM-24 65.2h2v1.2h-2zM-16 65.2h2v1.2h-2zM-74 66.5h2v1.2h-2zM-72 66.5h2v1.2h-2zM-46 66.5h2v1.2h-2zM-42 66.5h2v1.2h-2zM-36 66.5h2v1.2h-2zM-34 66.5h2v1.2h-2zM-24 66.5h2v1.2h-2zM-74 67.8h2v1.2h-2zM-70 67.8h2v1.2h-2zM-68 67.8h2v1.2h-2zM-52 67.8h2v1.2h-2zM-50 67.8h2v1.2h-2zM-48 67.8h2v1.2h-2zM-46 67.8h2v1.2h-2zM-42 67.8h2v1.2h-2zM-40 67.8h2v1.2h-2zM-38 67.8h2v1.2h-2zM-34 67.8h2v1.2h-2zM-74 69h2v1.2h-2zM-70 69h2v1.2h-2zM-54 69h2v1.2h-2zM-50 69h2v1.2h-2zM-48 69h2v1.2h-2zM-36 69h2v1.2h-2zM-50 70.2h2v1.2h-2zM-44 70.2h2v1.2h-2zM-38 70.2h2v1.2h-2zM-34 70.2h2v1.2h-2zM-26 70.2h2v1.2h-2zM-24 70.2h2v1.2h-2zM-54 71.5h2v1.2h-2zM-52 71.5h2v1.2h-2zM-50 71.5h2v1.2h-2zM-46 71.5h2v1.2h-2zM-44 71.5h2v1.2h-2zM-42 71.5h2v1.2h-2zM-36 71.5h2v1.2h-2zM-34 71.5h2v1.2h-2zM-26 71.5h2v1.2h-2zM-24 71.5h2v1.2h-2zM-58 72.8h2v1.2h-2zM-56 72.8h2v1.2h-2zM-52 72.8h2v1.2h-2zM-50 72.8h2v1.2h-2zM-48 72.8h2v1.2h-2zM-46 72.8h2v1.2h-2zM-44 72.8h2v1.2h-2zM-42 72.8h2v1.2h-2zM-40 72.8h2v1.2h-2zM-36 72.8h2v1.2h-2zM-32 72.8h2v1.2h-2zM-30 72.8h2v1.2h-2zM-28 72.8h2v1.2h-2zM-26 72.8h2v1.2h-2zM-24 72.8h2v1.2h-2zM-58 74h2v1.2h-2zM-50 74h2v1.2h-2zM-48 74h2v1.2h-2zM-46 74h2v1.2h-2zM-44 74h2v1.2h-2zM-42 74h2v1.2h-2zM-38 74h2v1.2h-2zM-36 74h2v1.2h-2zM-34 74h2v1.2h-2zM-26 74h2v1.2h-2zM-24 74h2v1.2h-2zM-22 74h2v1.2h-2zM-70 75.2h2v1.2h-2zM-66 75.2h2v1.2h-2zM-64 75.2h2v1.2h-2zM-62 75.2h2v1.2h-2zM-60 75.2h2v1.2h-2zM-54 75.2h2v1.2h-2zM-50 75.2h2v1.2h-2zM-48 75.2h2v1.2h-2zM-46 75.2h2v1.2h-2zM-44 75.2h2v1.2h-2zM-42 75.2h2v1.2h-2zM-40 75.2h2v1.2h-2zM-38 75.2h2v1.2h-2zM-36 75.2h2v1.2h-2zM-22 75.2h2v1.2h-2zM-20 75.2h2v1.2h-2zM-62 76.5h2v1.2h-2zM-42 76.5h2v1.2h-2zM-40 76.5h2v1.2h-2zM-38 76.5h2v1.2h-2zM-36 76.5h2v1.2h-2zM-34 76.5h2v1.2h-2zM-20 76.5h2v1.2h-2zM-72 77.8h2v1.2h-2zM-68 77.8h2v1.2h-2zM-66 77.8h2v1.2h-2zM-64 77.8h2v1.2h-2zM-60 77.8h2v1.2h-2zM-52 77.8h2v1.2h-2zM-40 77.8h2v1.2h-2zM-38 77.8h2v1.2h-2zM-36 77.8h2v1.2h-2zM-32 77.8h2v1.2h-2zM-28 77.8h2v1.2h-2zM-26 77.8h2v1.2h-2zM-24 77.8h2v1.2h-2zM-72 79h2v1.2h-2zM-68 79h2v1.2h-2zM-62 79h2v1.2h-2zM-54 79h2v1.2h-2zM-52 79h2v1.2h-2zM-50 79h2v1.2h-2zM-46 79h2v1.2h-2zM-42 79h2v1.2h-2zM-36 79h2v1.2h-2zM-26 79h2v1.2h-2zM-20 79h2v1.2h-2zM-74 80.2h2v1.2h-2zM-72 80.2h2v1.2h-2zM-70 80.2h2v1.2h-2zM-66 80.2h2v1.2h-2zM-60 80.2h2v1.2h-2zM-52 80.2h2v1.2h-2zM-50 80.2h2v1.2h-2zM-48 80.2h2v1.2h-2zM-42 80.2h2v1.2h-2zM-40 80.2h2v1.2h-2zM-38 80.2h2v1.2h-2zM-36 80.2h2v1.2h-2zM-34 80.2h2v1.2h-2zM-30 80.2h2v1.2h-2zM-26 80.2h2v1.2h-2zM-24 80.2h2v1.2h-2zM-20 80.2h2v1.2h-2zM-18 80.2h2v1.2h-2zM-64 81.5h2v1.2h-2zM-54 81.5h2v1.2h-2zM-52 81.5h2v1.2h-2zM-48 81.5h2v1.2h-2zM-44 81.5h2v1.2h-2zM-42 81.5h2v1.2h-2zM-36 81.5h2v1.2h-2zM-32 81.5h2v1.2h-2zM-28 81.5h2v1.2h-2zM-26 81.5h2v1.2h-2zM-24 81.5h2v1.2h-2zM-22 81.5h2v1.2h-2zM-16 81.5h2v1.2h-2zM-74 82.8h2v1.2h-2zM-72 82.8h2v1.2h-2zM-70 82.8h2v1.2h-2zM-68 82.8h2v1.2h-2zM-66 82.8h2v1.2h-2zM-46 82.8h2v1.2h-2zM-44 82.8h2v1.2h-2zM-42 82.8h2v1.2h-2zM-40 82.8h2v1.2h-2zM-36 82.8h2v1.2h-2zM-28 82.8h2v1.2h-2zM-26 82.8h2v1.2h-2zM-24 82.8h2v1.2h-2zM-22 82.8h2v1.2h-2zM-126 67h2v1.2h-2zM-116 67h2v1.2h-2zM-104 67h2v1.2h-2zM-102 67h2v1.2h-2zM-100 67h2v1.2h-2zM-82 67h2v1.2h-2zM-78 67h2v1.2h-2zM-72 67h2v1.2h-2zM-70 67h2v1.2h-2zM-68 67h2v1.2h-2zM-126 68.2h2v1.2h-2zM-124 68.2h2v1.2h-2zM-116 68.2h2v1.2h-2zM-112 68.2h2v1.2h-2zM-110 68.2h2v1.2h-2zM-98 68.2h2v1.2h-2zM-96 68.2h2v1.2h-2zM-90 68.2h2v1.2h-2zM-88 68.2h2v1.2h-2zM-80 68.2h2v1.2h-2zM-74 68.2h2v1.2h-2zM-72 68.2h2v1.2h-2zM-120 69.5h2v1.2h-2zM-116 69.5h2v1.2h-2zM-112 69.5h2v1.2h-2zM-110 69.5h2v1.2h-2zM-106 69.5h2v1.2h-2zM-100 69.5h2v1.2h-2zM-98 69.5h2v1.2h-2zM-90 69.5h2v1.2h-2zM-86 69.5h2v1.2h-2zM-82 69.5h2v1.2h-2zM-80 69.5h2v1.2h-2zM-78 69.5h2v1.2h-2zM-126 70.8h2v1.2h-2zM-120 70.8h2v1.2h-2zM-110 70.8h2v1.2h-2zM-108 70.8h2v1.2h-2zM-106 70.8h2v1.2h-2zM-100 70.8h2v1.2h-2zM-96 70.8h2v1.2h-2zM-86 70.8h2v1.2h-2zM-78 70.8h2v1.2h-2zM-72 70.8h2v1.2h-2zM-126 72h2v1.2h-2zM-124 72h2v1.2h-2zM-120 72h2v1.2h-2zM-112 72h2v1.2h-2zM-106 72h2v1.2h-2zM-102 72h2v1.2h-2zM-100 72h2v1.2h-2zM-98 72h2v1.2h-2zM-88 72h2v1.2h-2zM-86 72h2v1.2h-2zM-76 72h2v1.2h-2zM-118 73.2h2v1.2h-2zM-112 73.2h2v1.2h-2zM-110 73.2h2v1.2h-2zM-106 73.2h2v1.2h-2zM-104 73.2h2v1.2h-2zM-102 73.2h2v1.2h-2zM-90 73.2h2v1.2h-2zM-88 73.2h2v1.2h-2zM-86 73.2h2v1.2h-2zM-116 74.5h2v1.2h-2zM-114 74.5h2v1.2h-2zM-112 74.5h2v1.2h-2zM-110 74.5h2v1.2h-2zM-96 74.5h2v1.2h-2zM-88 74.5h2v1.2h-2zM-116 75.8h2v1.2h-2zM-110 75.8h2v1.2h-2zM-106 75.8h2v1.2h-2zM-104 75.8h2v1.2h-2zM-102 75.8h2v1.2h-2zM-96 75.8h2v1.2h-2zM-94 75.8h2v1.2h-2zM-88 75.8h2v1.2h-2zM-86 75.8h2v1.2h-2zM-84 75.8h2v1.2h-2zM-78 75.8h2v1.2h-2zM-68 75.8h2v1.2h-2zM-66 75.8h2v1.2h-2zM-100 77h2v1.2h-2zM-98 77h2v1.2h-2zM-84 77h2v1.2h-2zM-82 77h2v1.2h-2zM-74 77h2v1.2h-2zM-66 77h2v1.2h-2zM-64 77h2v1.2h-2zM-92 78.2h2v1.2h-2zM-88 78.2h2v1.2h-2zM-80 78.2h2v1.2h-2zM-78 78.2h2v1.2h-2zM-70 78.2h2v1.2h-2zM-68 78.2h2v1.2h-2zM-94 79.5h2v1.2h-2zM-88 79.5h2v1.2h-2zM-80 79.5h2v1.2h-2zM-76 79.5h2v1.2h-2zM-74 79.5h2v1.2h-2zM-70 79.5h2v1.2h-2zM-64 79.5h2v1.2h-2zM-98 80.8h2v1.2h-2zM-88 80.8h2v1.2h-2zM-82 80.8h2v1.2h-2zM-76 80.8h2v1.2h-2zM-72 80.8h2v1.2h-2zM-68 80.8h2v1.2h-2zM-86 82h2v1.2h-2zM-76 82h2v1.2h-2zM-64 82h2v1.2h-2zM-78 83.2h2v1.2h-2zM16.4 76h1.6v1h-1.6zM13.2 78h1.6v1h-1.6zM21.2 78h1.6v1h-1.6zM22.8 79h1.6v1h-1.6zM53.6 79.5h1.6v1h-1.6zM56.8 79.5h1.6v1h-1.6zM50.4 81.5h1.6v1h-1.6zM52 81.5h1.6v1h-1.6zM53.6 81.5h1.6v1h-1.6zM56.8 81.5h1.6v1h-1.6zM56.4 75h1.6v1h-1.6zM61.2 75h1.6v1h-1.6zM102.8 77h1.6v1h-1.6zM99.6 78h1.6v1h-1.6zM142.4 74.5h1.6v1h-1.6zM139.2 75.5h1.6v1h-1.6zM-24.5 64h1.6v1h-1.6z"/><path fill="#92c5de" d="M-70 59h2v1.2h-2zM-66 60.2h2v1.2h-2zM-48 61.5h2v1.2h-2zM-44 62.8h2v1.2h-2zM-20 62.8h2v1.2h-2zM-72 65.2h2v1.2h-2zM-70 66.5h2v1.2h-2zM-34 69h2v1.2h-2zM-28 69h2v1.2h-2zM-56 70.2h2v1.2h-2zM-46 70.2h2v1.2h-2zM-52 74h2v1.2h-2zM-28 74h2v1.2h-2zM-28 75.2h2v1.2h-2zM-68 76.5h2v1.2h-2zM-46 76.5h2v1.2h-2zM-44 76.5h2v1.2h-2zM-28 76.5h2v1.2h-2zM-26 76.5h2v1.2h-2zM-24 76.5h2v1.2h-2zM-74 77.8h2v1.2h-2zM-48 77.8h2v1.2h-2zM-44 77.8h2v1.2h-2zM-42 77.8h2v1.2h-2zM-22 77.8h2v1.2h-2zM-20 77.8h2v1.2h-2zM-74 81.5h2v1.2h-2zM-56 81.5h2v1.2h-2zM-34 81.5h2v1.2h-2zM-32 82.8h2v1.2h-2zM-120 67h2v1.2h-2zM-98 67h2v1.2h-2zM-86 67h2v1.2h-2zM-84 67h2v1.2h-2zM-122 68.2h2v1.2h-2zM-108 68.2h2v1.2h-2zM-100 68.2h2v1.2h-2zM-86 68.2h2v1.2h-2zM-122 69.5h2v1.2h-2zM-102 69.5h2v1.2h-2zM-88 70.8h2v1.2h-2zM-84 70.8h2v1.2h-2zM-84 72h2v1.2h-2zM-100 73.2h2v1.2h-2zM-84 73.2h2v1.2h-2zM-80 73.2h2v1.2h-2zM-122 74.5h2v1.2h-2zM-98 74.5h2v1.2h-2zM-86 74.5h2v1.2h-2zM-80 75.8h2v1.2h-2zM-72 75.8h2v1.2h-2zM-86 77h2v1.2h-2zM-80 77h2v1.2h-2zM-68 77h2v1.2h-2zM-74 78.2h2v1.2h-2zM-98 79.5h2v1.2h-2zM-96 79.5h2v1.2h-2zM-90 79.5h2v1.2h-2zM-82 79.5h2v1.2h-2zM-78 79.5h2v1.2h-2zM-72 79.5h2v1.2h-2zM-68 79.5h2v1.2h-2zM-66 79.5h2v1.2h-2zM-94 80.8h2v1.2h-2zM-66 80.8h2v1.2h-2zM-92 82h2v1.2h-2zM-66 82h2v1.2h-2zM13.2 77h1.6v1h-1.6zM13.2 80h1.6v1h-1.6zM24.4 80h1.6v1h-1.6zM50.4 79.5h1.6v1h-1.6zM47.2 80.5h1.6v1h-1.6zM53.6 80.5h1.6v1h-1.6zM58.4 81.5h1.6v1h-1.6zM60 81.5h1.6v1h-1.6zM69.2 72h1.6v1h-1.6zM101.2 77h1.6v1h-1.6zM99.6 81h1.6v1h-1.6zM142.4 75.5h1.6v1h-1.6zM-16.5 65h1.6v1h-1.6z"/><path fill="#2166ac" d="M-66 59h2v1.2h-2zM-74 60.2h2v1.2h-2zM-48 60.2h2v1.2h-2zM-46 60.2h2v1.2h-2zM-74 61.5h2v1.2h-2zM-44 61.5h2v1.2h-2zM-48 62.8h2v1.2h-2zM-42 62.8h2v1.2h-2zM-42 64h2v1.2h-2zM-22 64h2v1.2h-2zM-18 64h2v1.2h-2zM-14 64h2v1.2h-2zM-40 65.2h2v1.2h-2zM-64 66.5h2v1.2h-2zM-48 66.5h2v1.2h-2zM-72 67.8h2v1.2h-2zM-44 67.8h2v1.2h-2zM-32 67.8h2v1.2h-2zM-30 67.8h2v1.2h-2zM-68 69h2v1.2h-2zM-52 69h2v1.2h-2zM-44 69h2v1.2h-2zM-42 69h2v1.2h-2zM-32 69h2v1.2h-2zM-30 69h2v1.2h-2zM-26 69h2v1.2h-2zM-24 69h2v1.2h-2zM-74 70.2h2v1.2h-2zM-32 70.2h2v1.2h-2zM-74 71.5h2v1.2h-2zM-30 71.5h2v1.2h-2zM-54 72.8h2v1.2h-2zM-34 72.8h2v1.2h-2zM-20 74h2v1.2h-2zM-58 75.2h2v1.2h-2zM-56 75.2h2v1.2h-2zM-52 75.2h2v1.2h-2zM-34 75.2h2v1.2h-2zM-32 75.2h2v1.2h-2zM-60 76.5h2v1.2h-2zM-58 76.5h2v1.2h-2zM-50 76.5h2v1.2h-2zM-30 76.5h2v1.2h-2zM-22 76.5h2v1.2h-2zM-54 77.8h2v1.2h-2zM-50 77.8h2v1.2h-2zM-30 77.8h2v1.2h-2zM-74 79h2v1.2h-2zM-60 79h2v1.2h-2zM-44 79h2v1.2h-2zM-40 79h2v1.2h-2zM-32 79h2v1.2h-2zM-22 79h2v1.2h-2zM-44 80.2h2v1.2h-2zM-22 80.2h2v1.2h-2zM-68 81.5h2v1.2h-2zM-60 81.5h2v1.2h-2zM-46 81.5h2v1.2h-2zM-30 81.5h2v1.2h-2zM-18 81.5h2v1.2h-2zM-34 82.8h2v1.2h-2zM-114 67h2v1.2h-2zM-118 68.2h2v1.2h-2zM-82 68.2h2v1.2h-2zM-70 68.2h2v1.2h-2zM-68 68.2h2v1.2h-2zM-96 69.5h2v1.2h-2zM-88 69.5h2v1.2h-2zM-76 69.5h2v1.2h-2zM-116 70.8h2v1.2h-2zM-114 70.8h2v1.2h-2zM-112 70.8h2v1.2h-2zM-104 70.8h2v1.2h-2zM-94 70.8h2v1.2h-2zM-82 70.8h2v1.2h-2zM-76 70.8h2v1.2h-2zM-70 70.8h2v1.2h-2zM-114 72h2v1.2h-2zM-78 72h2v1.2h-2zM-74 72h2v1.2h-2zM-120 73.2h2v1.2h-2zM-116 73.2h2v1.2h-2zM-98 73.2h2v1.2h-2zM-120 74.5h2v1.2h-2zM-104 74.5h2v1.2h-2zM-102 74.5h2v1.2h-2zM-108 75.8h2v1.2h-2zM-92 75.8h2v1.2h-2zM-94 77h2v1.2h-2zM-90 77h2v1.2h-2zM-70 77h2v1.2h-2zM-86 78.2h2v1.2h-2zM-76 78.2h2v1.2h-2zM-72 78.2h2v1.2h-2zM-80 80.8h2v1.2h-2zM-80 82h2v1.2h-2zM-70 82h2v1.2h-2z"/><path fill="#b2182b" d="M-44 60.2h2v1.2h-2zM-70 61.5h2v1.2h-2zM-72 62.8h2v1.2h-2zM-46 64h2v1.2h-2zM-74 65.2h2v1.2h-2zM-64 65.2h2v1.2h-2zM-54 65.2h2v1.2h-2zM-50 65.2h2v1.2h-2zM-48 65.2h2v1.2h-2zM-46 65.2h2v1.2h-2zM-68 66.5h2v1.2h-2zM-66 66.5h2v1.2h-2zM-54 66.5h2v1.2h-2zM-52 66.5h2v1.2h-2zM-44 66.5h2v1.2h-2zM-40 66.5h2v1.2h-2zM-16 66.5h2v1.2h-2zM-54 67.8h2v1.2h-2zM-28 67.8h2v1.2h-2zM-72 69h2v1.2h-2zM-56 69h2v1.2h-2zM-46 69h2v1.2h-2zM-70 70.2h2v1.2h-2zM-54 70.2h2v1.2h-2zM-52 70.2h2v1.2h-2zM-42 70.2h2v1.2h-2zM-28 70.2h2v1.2h-2zM-48 71.5h2v1.2h-2zM-38 71.5h2v1.2h-2zM-56 74h2v1.2h-2zM-32 74h2v1.2h-2zM-30 74h2v1.2h-2zM-24 75.2h2v1.2h-2zM-72 76.5h2v1.2h-2zM-70 76.5h2v1.2h-2zM-64 76.5h2v1.2h-2zM-56 76.5h2v1.2h-2zM-54 76.5h2v1.2h-2zM-52 76.5h2v1.2h-2zM-48 76.5h2v1.2h-2zM-32 76.5h2v1.2h-2zM-46 77.8h2v1.2h-2zM-70 79h2v1.2h-2zM-58 79h2v1.2h-2zM-34 79h2v1.2h-2zM-30 79h2v1.2h-2zM-24 79h2v1.2h-2zM-68 80.2h2v1.2h-2zM-62 80.2h2v1.2h-2zM-54 80.2h2v1.2h-2zM-32 80.2h2v1.2h-2zM-14 80.2h2v1.2h-2zM-20 81.5h2v1.2h-2zM-14 81.5h2v1.2h-2zM-30 82.8h2v1.2h-2zM-122 67h2v1.2h-2zM-110 67h2v1.2h-2zM-108 67h2v1.2h-2zM-80 67h2v1.2h-2zM-102 68.2h2v1.2h-2zM-126 69.5h2v1.2h-2zM-114 69.5h2v1.2h-2zM-74 69.5h2v1.2h-2zM-72 69.5h2v1.2h-2zM-92 70.8h2v1.2h-2zM-90 70.8h2v1.2h-2zM-74 70.8h2v1.2h-2zM-116 72h2v1.2h-2zM-126 73.2h2v1.2h-2zM-124 73.2h2v1.2h-2zM-114 73.2h2v1.2h-2zM-94 73.2h2v1.2h-2zM-108 74.5h2v1.2h-2zM-94 74.5h2v1.2h-2zM-84 74.5h2v1.2h-2zM-82 74.5h2v1.2h-2zM-82 75.8h2v1.2h-2zM-96 77h2v1.2h-2zM-92 77h2v1.2h-2zM-88 77h2v1.2h-2zM-76 77h2v1.2h-2zM-98 78.2h2v1.2h-2zM-94 78.2h2v1.2h-2zM-90 78.2h2v1.2h-2zM-84 78.2h2v1.2h-2zM-82 78.2h2v1.2h-2zM-64 78.2h2v1.2h-2zM-84 79.5h2v1.2h-2zM-86 80.8h2v1.2h-2zM-74 80.8h2v1.2h-2zM-70 80.8h2v1.2h-2zM-94 82h2v1.2h-2zM-88 82h2v1.2h-2zM-78 82h2v1.2h-2zM14.8 77h1.6v1h-1.6zM19.6 78h1.6v1h-1.6zM13.2 79h1.6v1h-1.6zM16.4 79h1.6v1h-1.6zM18 80h1.6v1h-1.6zM50.4 80.5h1.6v1h-1.6zM52 80.5h1.6v1h-1.6zM58.4 80.5h1.6v1h-1.6zM60 80.5h1.6v1h-1.6zM55.2 81.5h1.6v1h-1.6zM61.6 81.5h1.6v1h-1.6zM61.2 70h1.6v1h-1.6zM66 70h1.6v1h-1.6zM50 71h1.6v1h-1.6zM51.6 71h1.6v1h-1.6zM66 71h1.6v1h-1.6zM56.4 72h1.6v1h-1.6zM56.4 73h1.6v1h-1.6zM54.8 74h1.6v1h-1.6zM54.8 75h1.6v1h-1.6zM62.8 75h1.6v1h-1.6zM61.2 76h1.6v1h-1.6zM67.6 76h1.6v1h-1.6zM67.6 77h1.6v1h-1.6zM96.4 78h1.6v1h-1.6zM101.2 80h1.6v1h-1.6zM140.8 75.5h1.6v1h-1.6zM-16.5 63h1.6v1h-1.6zM-21.3 64h1.6v1h-1.6zM-16.5 64h1.6v1h-1.6zM-14.9 64h1.6v1h-1.6zM-18.1 65h1.6v1h-1.6zM-16.5 66h1.6v1h-1.6z"/><path fill="#d6604d" d="M-68 61.5h2v1.2h-2zM-70 62.8h2v1.2h-2zM-46 62.8h2v1.2h-2zM-24 64h2v1.2h-2zM-26 65.2h2v1.2h-2zM-22 65.2h2v1.2h-2zM-18 65.2h2v1.2h-2zM-36 67.8h2v1.2h-2zM-38 69h2v1.2h-2zM-72 70.2h2v1.2h-2zM-40 70.2h2v1.2h-2zM-36 70.2h2v1.2h-2zM-40 71.5h2v1.2h-2zM-32 71.5h2v1.2h-2zM-68 75.2h2v1.2h-2zM-64 79h2v1.2h-2zM-56 79h2v1.2h-2zM-48 79h2v1.2h-2zM-38 79h2v1.2h-2zM-58 80.2h2v1.2h-2zM-28 80.2h2v1.2h-2zM-16 80.2h2v1.2h-2zM-72 81.5h2v1.2h-2zM-70 81.5h2v1.2h-2zM-50 81.5h2v1.2h-2zM-38 82.8h2v1.2h-2zM-112 67h2v1.2h-2zM-94 67h2v1.2h-2zM-76 67h2v1.2h-2zM-106 68.2h2v1.2h-2zM-94 68.2h2v1.2h-2zM-76 68.2h2v1.2h-2zM-118 69.5h2v1.2h-2zM-104 69.5h2v1.2h-2zM-92 69.5h2v1.2h-2zM-124 70.8h2v1.2h-2zM-102 70.8h2v1.2h-2zM-98 70.8h2v1.2h-2zM-80 70.8h2v1.2h-2zM-122 72h2v1.2h-2zM-110 72h2v1.2h-2zM-94 72h2v1.2h-2zM-90 72h2v1.2h-2zM-82 72h2v1.2h-2zM-80 72h2v1.2h-2zM-80 74.5h2v1.2h-2zM-118 75.8h2v1.2h-2zM-92 80.8h2v1.2h-2zM-90 80.8h2v1.2h-2zM-84 80.8h2v1.2h-2zM-64 80.8h2v1.2h-2zM14.8 78h1.6v1h-1.6zM11.6 79h1.6v1h-1.6zM14.8 79h1.6v1h-1.6zM26 79h1.6v1h-1.6zM10 80h1.6v1h-1.6zM19.6 80h1.6v1h-1.6zM21.2 80h1.6v1h-1.6zM48.8 80.5h1.6v1h-1.6zM56.8 80.5h1.6v1h-1.6zM59.6 70h1.6v1h-1.6zM67.6 70h1.6v1h-1.6zM69.2 70h1.6v1h-1.6zM53.2 71h1.6v1h-1.6zM56.4 71h1.6v1h-1.6zM67.6 71h1.6v1h-1.6zM69.2 71h1.6v1h-1.6zM51.6 72h1.6v1h-1.6zM51.6 73h1.6v1h-1.6zM53.2 73h1.6v1h-1.6zM58 73h1.6v1h-1.6zM59.6 73h1.6v1h-1.6zM62.8 74h1.6v1h-1.6zM64.4 74h1.6v1h-1.6zM59.6 75h1.6v1h-1.6zM64.4 75h1.6v1h-1.6zM62.8 76h1.6v1h-1.6zM-22.9 63h1.6v1h-1.6zM-21.3 63h1.6v1h-1.6zM-18.1 63h1.6v1h-1.6zM-18.1 64h1.6v1h-1.6zM-21.3 65h1.6v1h-1.6zM-14.9 65h1.6v1h-1.6zM-21.3 66h1.6v1h-1.6zM-19.7 66h1.6v1h-1.6z"/><path fill="#fddbc7" d="M-44 64h2v1.2h-2zM-52 65.2h2v1.2h-2zM-20 65.2h2v1.2h-2zM-38 66.5h2v1.2h-2zM-66 67.8h2v1.2h-2zM-30 70.2h2v1.2h-2zM-56 71.5h2v1.2h-2zM-60 74h2v1.2h-2zM-56 77.8h2v1.2h-2zM-66 79h2v1.2h-2zM-46 80.2h2v1.2h-2zM-38 81.5h2v1.2h-2zM-106 67h2v1.2h-2zM-84 69.5h2v1.2h-2zM-68 69.5h2v1.2h-2zM-96 73.2h2v1.2h-2zM-92 73.2h2v1.2h-2zM-100 74.5h2v1.2h-2zM-90 74.5h2v1.2h-2zM-96 80.8h2v1.2h-2zM-84 82h2v1.2h-2zM-74 82h2v1.2h-2zM16.4 78h1.6v1h-1.6zM18 78h1.6v1h-1.6zM18 79h1.6v1h-1.6zM63.2 79.5h1.6v1h-1.6zM55.2 80.5h1.6v1h-1.6zM54.8 70h1.6v1h-1.6zM54.8 72h1.6v1h-1.6zM53.2 74h1.6v1h-1.6zM61.2 74h1.6v1h-1.6zM58 75h1.6v1h-1.6zM66 75h1.6v1h-1.6zM66 76h1.6v1h-1.6zM66 77h1.6v1h-1.6zM98 78h1.6v1h-1.6zM98 80h1.6v1h-1.6zM137.6 75.5h1.6v1h-1.6zM144 75.5h1.6v1h-1.6zM-22.9 64h1.6v1h-1.6zM-22.9 65h1.6v1h-1.6zM-19.7 65h1.6v1h-1.6zM-18.1 66h1.6v1h-1.6z"/></g>
<g id="spkr"><path fill="#b2182b" d="M-72 59h2v1.2h-2zM-66 59h2v1.2h-2zM-46 59h2v1.2h-2zM-72 60.2h2v1.2h-2zM-50 60.2h2v1.2h-2zM-72 62.8h2v1.2h-2zM-68 62.8h2v1.2h-2zM-48 62.8h2v1.2h-2zM-42 62.8h2v1.2h-2zM-20 62.8h2v1.2h-2zM-72 64h2v1.2h-2zM-66 64h2v1.2h-2zM-42 64h2v1.2h-2zM-18 64h2v1.2h-2zM-72 65.2h2v1.2h-2zM-64 65.2h2v1.2h-2zM-54 65.2h2v1.2h-2zM-48 65.2h2v1.2h-2zM-40 65.2h2v1.2h-2zM-36 65.2h2v1.2h-2zM-24 65.2h2v1.2h-2zM-18 65.2h2v1.2h-2zM-68 66.5h2v1.2h-2zM-64 66.5h2v1.2h-2zM-54 66.5h2v1.2h-2zM-44 66.5h2v1.2h-2zM-36 66.5h2v1.2h-2zM-66 67.8h2v1.2h-2zM-50 67.8h2v1.2h-2zM-30 67.8h2v1.2h-2zM-28 67.8h2v1.2h-2zM-70 69h2v1.2h-2zM-46 69h2v1.2h-2zM-38 69h2v1.2h-2zM-36 69h2v1.2h-2zM-34 69h2v1.2h-2zM-32 69h2v1.2h-2zM-28 69h2v1.2h-2zM-72 70.2h2v1.2h-2zM-56 70.2h2v1.2h-2zM-54 70.2h2v1.2h-2zM-52 70.2h2v1.2h-2zM-42 70.2h2v1.2h-2zM-40 70.2h2v1.2h-2zM-26 70.2h2v1.2h-2zM-24 70.2h2v1.2h-2zM-48 71.5h2v1.2h-2zM-44 71.5h2v1.2h-2zM-42 71.5h2v1.2h-2zM-40 71.5h2v1.2h-2zM-36 71.5h2v1.2h-2zM-58 72.8h2v1.2h-2zM-54 72.8h2v1.2h-2zM-38 72.8h2v1.2h-2zM-28 72.8h2v1.2h-2zM-22 72.8h2v1.2h-2zM-58 74h2v1.2h-2zM-50 74h2v1.2h-2zM-44 74h2v1.2h-2zM-42 74h2v1.2h-2zM-40 74h2v1.2h-2zM-36 74h2v1.2h-2zM-30 74h2v1.2h-2zM-28 74h2v1.2h-2zM-62 75.2h2v1.2h-2zM-56 75.2h2v1.2h-2zM-50 75.2h2v1.2h-2zM-42 75.2h2v1.2h-2zM-40 75.2h2v1.2h-2zM-38 75.2h2v1.2h-2zM-36 75.2h2v1.2h-2zM-26 75.2h2v1.2h-2zM-24 75.2h2v1.2h-2zM-22 75.2h2v1.2h-2zM-64 76.5h2v1.2h-2zM-58 76.5h2v1.2h-2zM-54 76.5h2v1.2h-2zM-50 76.5h2v1.2h-2zM-42 76.5h2v1.2h-2zM-34 76.5h2v1.2h-2zM-28 76.5h2v1.2h-2zM-26 76.5h2v1.2h-2zM-22 76.5h2v1.2h-2zM-70 77.8h2v1.2h-2zM-68 77.8h2v1.2h-2zM-66 77.8h2v1.2h-2zM-58 77.8h2v1.2h-2zM-56 77.8h2v1.2h-2zM-54 77.8h2v1.2h-2zM-50 77.8h2v1.2h-2zM-38 77.8h2v1.2h-2zM-36 77.8h2v1.2h-2zM-30 77.8h2v1.2h-2zM-26 77.8h2v1.2h-2zM-24 77.8h2v1.2h-2zM-22 77.8h2v1.2h-2zM-70 79h2v1.2h-2zM-68 79h2v1.2h-2zM-50 79h2v1.2h-2zM-48 79h2v1.2h-2zM-44 79h2v1.2h-2zM-40 79h2v1.2h-2zM-38 79h2v1.2h-2zM-34 79h2v1.2h-2zM-32 79h2v1.2h-2zM-74 80.2h2v1.2h-2zM-72 80.2h2v1.2h-2zM-66 80.2h2v1.2h-2zM-64 80.2h2v1.2h-2zM-60 80.2h2v1.2h-2zM-48 80.2h2v1.2h-2zM-42 80.2h2v1.2h-2zM-22 80.2h2v1.2h-2zM-18 80.2h2v1.2h-2zM-74 81.5h2v1.2h-2zM-70 81.5h2v1.2h-2zM-62 81.5h2v1.2h-2zM-56 81.5h2v1.2h-2zM-50 81.5h2v1.2h-2zM-46 81.5h2v1.2h-2zM-44 81.5h2v1.2h-2zM-38 81.5h2v1.2h-2zM-30 81.5h2v1.2h-2zM-28 81.5h2v1.2h-2zM-22 81.5h2v1.2h-2zM-20 81.5h2v1.2h-2zM-18 81.5h2v1.2h-2zM-16 81.5h2v1.2h-2zM-14 81.5h2v1.2h-2zM-46 82.8h2v1.2h-2zM-44 82.8h2v1.2h-2zM-34 82.8h2v1.2h-2zM-26 82.8h2v1.2h-2zM-24 82.8h2v1.2h-2zM-22 82.8h2v1.2h-2zM-126 67h2v1.2h-2zM-118 67h2v1.2h-2zM-98 67h2v1.2h-2zM-94 67h2v1.2h-2zM-88 67h2v1.2h-2zM-82 67h2v1.2h-2zM-80 67h2v1.2h-2zM-72 67h2v1.2h-2zM-66 67h2v1.2h-2zM-118 68.2h2v1.2h-2zM-90 68.2h2v1.2h-2zM-80 68.2h2v1.2h-2zM-126 69.5h2v1.2h-2zM-120 69.5h2v1.2h-2zM-114 69.5h2v1.2h-2zM-108 69.5h2v1.2h-2zM-104 69.5h2v1.2h-2zM-102 69.5h2v1.2h-2zM-96 69.5h2v1.2h-2zM-92 69.5h2v1.2h-2zM-84 69.5h2v1.2h-2zM-78 69.5h2v1.2h-2zM-76 69.5h2v1.2h-2zM-68 69.5h2v1.2h-2zM-120 70.8h2v1.2h-2zM-116 70.8h2v1.2h-2zM-114 70.8h2v1.2h-2zM-106 70.8h2v1.2h-2zM-84 70.8h2v1.2h-2zM-82 70.8h2v1.2h-2zM-74 70.8h2v1.2h-2zM-124 72h2v1.2h-2zM-122 72h2v1.2h-2zM-112 72h2v1.2h-2zM-106 72h2v1.2h-2zM-82 72h2v1.2h-2zM-124 73.2h2v1.2h-2zM-122 73.2h2v1.2h-2zM-120 73.2h2v1.2h-2zM-106 73.2h2v1.2h-2zM-96 73.2h2v1.2h-2zM-82 73.2h2v1.2h-2zM-100 74.5h2v1.2h-2zM-96 74.5h2v1.2h-2zM-84 74.5h2v1.2h-2zM-112 75.8h2v1.2h-2zM-106 75.8h2v1.2h-2zM-98 75.8h2v1.2h-2zM-86 75.8h2v1.2h-2zM-84 75.8h2v1.2h-2zM-100 77h2v1.2h-2zM-98 77h2v1.2h-2zM-96 77h2v1.2h-2zM-88 77h2v1.2h-2zM-80 77h2v1.2h-2zM-76 77h2v1.2h-2zM-72 77h2v1.2h-2zM-70 78.2h2v1.2h-2zM-68 78.2h2v1.2h-2zM-98 79.5h2v1.2h-2zM-96 79.5h2v1.2h-2zM-92 79.5h2v1.2h-2zM-90 79.5h2v1.2h-2zM-66 79.5h2v1.2h-2zM-78 80.8h2v1.2h-2zM-74 80.8h2v1.2h-2zM-72 80.8h2v1.2h-2zM-70 80.8h2v1.2h-2zM-66 80.8h2v1.2h-2zM-92 82h2v1.2h-2zM-88 82h2v1.2h-2zM-80 82h2v1.2h-2zM14.8 76h1.6v1h-1.6zM11.6 78h1.6v1h-1.6zM19.6 78h1.6v1h-1.6zM10 79h1.6v1h-1.6zM47.2 79.5h1.6v1h-1.6zM58.4 79.5h1.6v1h-1.6zM58.4 80.5h1.6v1h-1.6zM58.4 81.5h1.6v1h-1.6zM56.4 70h1.6v1h-1.6zM61.2 70h1.6v1h-1.6zM66 70h1.6v1h-1.6zM51.6 71h1.6v1h-1.6zM53.2 71h1.6v1h-1.6zM54.8 72h1.6v1h-1.6zM56.4 73h1.6v1h-1.6zM59.6 73h1.6v1h-1.6zM56.4 74h1.6v1h-1.6zM59.6 74h1.6v1h-1.6zM64.4 74h1.6v1h-1.6zM54.8 75h1.6v1h-1.6zM58 75h1.6v1h-1.6zM67.6 75h1.6v1h-1.6zM59.6 76h1.6v1h-1.6zM62.8 76h1.6v1h-1.6zM64.4 76h1.6v1h-1.6zM66 76h1.6v1h-1.6zM101.2 77h1.6v1h-1.6zM136 75.5h1.6v1h-1.6zM137.6 75.5h1.6v1h-1.6zM-22.9 63h1.6v1h-1.6zM-21.3 63h1.6v1h-1.6zM-16.5 63h1.6v1h-1.6zM-14.9 65h1.6v1h-1.6zM-14.9 66h1.6v1h-1.6z"/><path fill="#d6604d" d="M-70 59h2v1.2h-2zM-46 60.2h2v1.2h-2zM-50 62.8h2v1.2h-2zM-20 64h2v1.2h-2zM-52 65.2h2v1.2h-2zM-46 65.2h2v1.2h-2zM-44 65.2h2v1.2h-2zM-38 65.2h2v1.2h-2zM-20 65.2h2v1.2h-2zM-72 66.5h2v1.2h-2zM-52 66.5h2v1.2h-2zM-38 66.5h2v1.2h-2zM-70 67.8h2v1.2h-2zM-68 67.8h2v1.2h-2zM-44 67.8h2v1.2h-2zM-34 67.8h2v1.2h-2zM-26 69h2v1.2h-2zM-70 70.2h2v1.2h-2zM-48 70.2h2v1.2h-2zM-36 70.2h2v1.2h-2zM-34 70.2h2v1.2h-2zM-38 71.5h2v1.2h-2zM-30 71.5h2v1.2h-2zM-28 71.5h2v1.2h-2zM-24 71.5h2v1.2h-2zM-48 72.8h2v1.2h-2zM-36 72.8h2v1.2h-2zM-26 72.8h2v1.2h-2zM-38 74h2v1.2h-2zM-34 74h2v1.2h-2zM-26 74h2v1.2h-2zM-20 74h2v1.2h-2zM-66 75.2h2v1.2h-2zM-48 75.2h2v1.2h-2zM-48 76.5h2v1.2h-2zM-30 76.5h2v1.2h-2zM-24 76.5h2v1.2h-2zM-72 77.8h2v1.2h-2zM-62 77.8h2v1.2h-2zM-60 77.8h2v1.2h-2zM-52 79h2v1.2h-2zM-28 79h2v1.2h-2zM-44 80.2h2v1.2h-2zM-32 80.2h2v1.2h-2zM-20 80.2h2v1.2h-2zM-32 81.5h2v1.2h-2zM-70 82.8h2v1.2h-2zM-68 82.8h2v1.2h-2zM-32 82.8h2v1.2h-2zM-116 67h2v1.2h-2zM-108 67h2v1.2h-2zM-126 68.2h2v1.2h-2zM-124 68.2h2v1.2h-2zM-122 68.2h2v1.2h-2zM-110 68.2h2v1.2h-2zM-108 68.2h2v1.2h-2zM-86 68.2h2v1.2h-2zM-78 68.2h2v1.2h-2zM-112 69.5h2v1.2h-2zM-74 69.5h2v1.2h-2zM-70 69.5h2v1.2h-2zM-126 70.8h2v1.2h-2zM-124 70.8h2v1.2h-2zM-72 70.8h2v1.2h-2zM-100 72h2v1.2h-2zM-98 72h2v1.2h-2zM-110 73.2h2v1.2h-2zM-92 73.2h2v1.2h-2zM-90 73.2h2v1.2h-2zM-88 73.2h2v1.2h-2zM-122 74.5h2v1.2h-2zM-112 74.5h2v1.2h-2zM-86 74.5h2v1.2h-2zM-94 75.8h2v1.2h-2zM-78 75.8h2v1.2h-2zM-78 77h2v1.2h-2zM-70 77h2v1.2h-2zM-96 78.2h2v1.2h-2zM-84 78.2h2v1.2h-2zM-74 78.2h2v1.2h-2zM-64 78.2h2v1.2h-2zM-92 80.8h2v1.2h-2zM-84 80.8h2v1.2h-2zM-76 80.8h2v1.2h-2zM-84 82h2v1.2h-2zM18 77h1.6v1h-1.6zM16.4 78h1.6v1h-1.6zM19.6 79h1.6v1h-1.6zM18 80h1.6v1h-1.6zM21.2 80h1.6v1h-1.6zM55.2 79.5h1.6v1h-1.6zM56.8 79.5h1.6v1h-1.6zM53.6 80.5h1.6v1h-1.6zM55.2 80.5h1.6v1h-1.6zM64.8 80.5h1.6v1h-1.6zM50.4 81.5h1.6v1h-1.6zM52 81.5h1.6v1h-1.6zM51.6 70h1.6v1h-1.6zM67.6 70h1.6v1h-1.6zM69.2 70h1.6v1h-1.6zM50 71h1.6v1h-1.6zM66 71h1.6v1h-1.6zM69.2 71h1.6v1h-1.6zM56.4 72h1.6v1h-1.6zM69.2 72h1.6v1h-1.6zM53.2 73h1.6v1h-1.6zM58 73h1.6v1h-1.6zM69.2 73h1.6v1h-1.6zM58 74h1.6v1h-1.6zM62.8 74h1.6v1h-1.6zM56.4 75h1.6v1h-1.6zM61.2 75h1.6v1h-1.6zM61.2 76h1.6v1h-1.6zM66 77h1.6v1h-1.6zM98 79h1.6v1h-1.6zM99.6 79h1.6v1h-1.6zM99.6 81h1.6v1h-1.6zM142.4 74.5h1.6v1h-1.6zM-18.1 63h1.6v1h-1.6zM-16.5 64h1.6v1h-1.6zM-14.9 64h1.6v1h-1.6zM-24.5 65h1.6v1h-1.6zM-24.5 66h1.6v1h-1.6zM-21.3 66h1.6v1h-1.6zM-19.7 66h1.6v1h-1.6z"/><path fill="#4393c3" d="M-44 59h2v1.2h-2zM-74 61.5h2v1.2h-2zM-70 61.5h2v1.2h-2zM-68 61.5h2v1.2h-2zM-50 61.5h2v1.2h-2zM-46 61.5h2v1.2h-2zM-74 62.8h2v1.2h-2zM-52 62.8h2v1.2h-2zM-44 62.8h2v1.2h-2zM-74 64h2v1.2h-2zM-70 64h2v1.2h-2zM-48 64h2v1.2h-2zM-46 64h2v1.2h-2zM-24 64h2v1.2h-2zM-22 64h2v1.2h-2zM-14 64h2v1.2h-2zM-66 65.2h2v1.2h-2zM-26 65.2h2v1.2h-2zM-70 66.5h2v1.2h-2zM-66 66.5h2v1.2h-2zM-48 66.5h2v1.2h-2zM-42 66.5h2v1.2h-2zM-40 66.5h2v1.2h-2zM-74 67.8h2v1.2h-2zM-54 67.8h2v1.2h-2zM-38 67.8h2v1.2h-2zM-36 67.8h2v1.2h-2zM-32 67.8h2v1.2h-2zM-74 69h2v1.2h-2zM-72 69h2v1.2h-2zM-56 69h2v1.2h-2zM-52 69h2v1.2h-2zM-50 69h2v1.2h-2zM-44 69h2v1.2h-2zM-24 69h2v1.2h-2zM-50 70.2h2v1.2h-2zM-30 70.2h2v1.2h-2zM-52 71.5h2v1.2h-2zM-26 71.5h2v1.2h-2zM-56 72.8h2v1.2h-2zM-42 72.8h2v1.2h-2zM-30 72.8h2v1.2h-2zM-24 72.8h2v1.2h-2zM-60 74h2v1.2h-2zM-48 74h2v1.2h-2zM-46 74h2v1.2h-2zM-68 75.2h2v1.2h-2zM-60 75.2h2v1.2h-2zM-54 75.2h2v1.2h-2zM-52 75.2h2v1.2h-2zM-44 75.2h2v1.2h-2zM-34 75.2h2v1.2h-2zM-32 75.2h2v1.2h-2zM-30 75.2h2v1.2h-2zM-28 75.2h2v1.2h-2zM-20 75.2h2v1.2h-2zM-72 76.5h2v1.2h-2zM-70 76.5h2v1.2h-2zM-52 76.5h2v1.2h-2zM-46 76.5h2v1.2h-2zM-38 76.5h2v1.2h-2zM-36 76.5h2v1.2h-2zM-32 76.5h2v1.2h-2zM-48 77.8h2v1.2h-2zM-42 77.8h2v1.2h-2zM-72 79h2v1.2h-2zM-62 79h2v1.2h-2zM-60 79h2v1.2h-2zM-56 79h2v1.2h-2zM-36 79h2v1.2h-2zM-30 79h2v1.2h-2zM-26 79h2v1.2h-2zM-22 79h2v1.2h-2zM-56 80.2h2v1.2h-2zM-52 80.2h2v1.2h-2zM-50 80.2h2v1.2h-2zM-40 80.2h2v1.2h-2zM-34 80.2h2v1.2h-2zM-72 81.5h2v1.2h-2zM-66 81.5h2v1.2h-2zM-64 81.5h2v1.2h-2zM-60 81.5h2v1.2h-2zM-34 81.5h2v1.2h-2zM-66 82.8h2v1.2h-2zM-38 82.8h2v1.2h-2zM-30 82.8h2v1.2h-2zM-28 82.8h2v1.2h-2zM-110 67h2v1.2h-2zM-106 67h2v1.2h-2zM-104 67h2v1.2h-2zM-92 67h2v1.2h-2zM-86 67h2v1.2h-2zM-68 67h2v1.2h-2zM-74 68.2h2v1.2h-2zM-124 69.5h2v1.2h-2zM-118 69.5h2v1.2h-2zM-116 69.5h2v1.2h-2zM-110 69.5h2v1.2h-2zM-90 70.8h2v1.2h-2zM-86 70.8h2v1.2h-2zM-78 70.8h2v1.2h-2zM-70 70.8h2v1.2h-2zM-86 72h2v1.2h-2zM-94 73.2h2v1.2h-2zM-86 73.2h2v1.2h-2zM-80 73.2h2v1.2h-2zM-106 74.5h2v1.2h-2zM-94 74.5h2v1.2h-2zM-82 74.5h2v1.2h-2zM-92 75.8h2v1.2h-2zM-88 75.8h2v1.2h-2zM-68 75.8h2v1.2h-2zM-64 75.8h2v1.2h-2zM-94 77h2v1.2h-2zM-86 77h2v1.2h-2zM-90 78.2h2v1.2h-2zM-86 78.2h2v1.2h-2zM-66 78.2h2v1.2h-2zM-88 79.5h2v1.2h-2zM-64 79.5h2v1.2h-2zM-80 80.8h2v1.2h-2zM-64 80.8h2v1.2h-2zM-82 82h2v1.2h-2zM-78 82h2v1.2h-2zM-72 82h2v1.2h-2zM-64 82h2v1.2h-2zM14.8 77h1.6v1h-1.6zM18 78h1.6v1h-1.6zM24.4 80h1.6v1h-1.6zM26 80h1.6v1h-1.6zM53.6 79.5h1.6v1h-1.6zM52 80.5h1.6v1h-1.6zM55.2 81.5h1.6v1h-1.6zM56.8 81.5h1.6v1h-1.6zM67.6 71h1.6v1h-1.6zM67.6 72h1.6v1h-1.6zM54.8 74h1.6v1h-1.6zM59.6 75h1.6v1h-1.6zM66 75h1.6v1h-1.6zM106 77h1.6v1h-1.6zM101.2 78h1.6v1h-1.6zM144 74.5h1.6v1h-1.6z"/><path fill="#fddbc7" d="M-66 60.2h2v1.2h-2zM-24 62.8h2v1.2h-2zM-16 64h2v1.2h-2zM-68 65.2h2v1.2h-2zM-22 65.2h2v1.2h-2zM-42 67.8h2v1.2h-2zM-46 70.2h2v1.2h-2zM-44 70.2h2v1.2h-2zM-54 71.5h2v1.2h-2zM-50 72.8h2v1.2h-2zM-46 75.2h2v1.2h-2zM-68 76.5h2v1.2h-2zM-32 77.8h2v1.2h-2zM-74 79h2v1.2h-2zM-46 79h2v1.2h-2zM-42 79h2v1.2h-2zM-38 80.2h2v1.2h-2zM-36 80.2h2v1.2h-2zM-26 80.2h2v1.2h-2zM-14 80.2h2v1.2h-2zM-42 81.5h2v1.2h-2zM-40 81.5h2v1.2h-2zM-72 82.8h2v1.2h-2zM-124 67h2v1.2h-2zM-66 68.2h2v1.2h-2zM-86 69.5h2v1.2h-2zM-122 70.8h2v1.2h-2zM-104 70.8h2v1.2h-2zM-92 70.8h2v1.2h-2zM-92 72h2v1.2h-2zM-84 72h2v1.2h-2zM-104 73.2h2v1.2h-2zM-88 74.5h2v1.2h-2zM-102 75.8h2v1.2h-2zM-88 78.2h2v1.2h-2zM-72 78.2h2v1.2h-2zM-74 82h2v1.2h-2zM14.8 78h1.6v1h-1.6zM21.2 78h1.6v1h-1.6zM14.8 79h1.6v1h-1.6zM24.4 79h1.6v1h-1.6zM56.8 80.5h1.6v1h-1.6zM60 80.5h1.6v1h-1.6zM61.6 81.5h1.6v1h-1.6zM53.2 72h1.6v1h-1.6zM58 76h1.6v1h-1.6zM67.6 76h1.6v1h-1.6zM98 81h1.6v1h-1.6zM140.8 75.5h1.6v1h-1.6zM142.4 75.5h1.6v1h-1.6zM-19.7 63h1.6v1h-1.6zM-24.5 64h1.6v1h-1.6zM-22.9 64h1.6v1h-1.6zM-21.3 64h1.6v1h-1.6zM-22.9 66h1.6v1h-1.6zM-16.5 66h1.6v1h-1.6z"/><path fill="#2166ac" d="M-44 61.5h2v1.2h-2zM-70 62.8h2v1.2h-2zM-46 62.8h2v1.2h-2zM-22 62.8h2v1.2h-2zM-18 62.8h2v1.2h-2zM-68 64h2v1.2h-2zM-52 64h2v1.2h-2zM-70 65.2h2v1.2h-2zM-50 66.5h2v1.2h-2zM-46 66.5h2v1.2h-2zM-46 67.8h2v1.2h-2zM-42 69h2v1.2h-2zM-50 71.5h2v1.2h-2zM-46 71.5h2v1.2h-2zM-34 71.5h2v1.2h-2zM-46 72.8h2v1.2h-2zM-32 72.8h2v1.2h-2zM-32 74h2v1.2h-2zM-24 74h2v1.2h-2zM-22 74h2v1.2h-2zM-70 75.2h2v1.2h-2zM-74 77.8h2v1.2h-2zM-34 77.8h2v1.2h-2zM-66 79h2v1.2h-2zM-54 79h2v1.2h-2zM-68 80.2h2v1.2h-2zM-62 80.2h2v1.2h-2zM-58 80.2h2v1.2h-2zM-54 80.2h2v1.2h-2zM-24 80.2h2v1.2h-2zM-52 81.5h2v1.2h-2zM-36 81.5h2v1.2h-2zM-24 81.5h2v1.2h-2zM-74 82.8h2v1.2h-2zM-76 67h2v1.2h-2zM-82 68.2h2v1.2h-2zM-106 69.5h2v1.2h-2zM-108 70.8h2v1.2h-2zM-100 70.8h2v1.2h-2zM-80 70.8h2v1.2h-2zM-114 72h2v1.2h-2zM-118 73.2h2v1.2h-2zM-116 73.2h2v1.2h-2zM-98 73.2h2v1.2h-2zM-114 74.5h2v1.2h-2zM-90 75.8h2v1.2h-2zM-82 75.8h2v1.2h-2zM-70 75.8h2v1.2h-2zM-74 77h2v1.2h-2zM-82 79.5h2v1.2h-2zM-76 79.5h2v1.2h-2z"/><path fill="#92c5de" d="M-66 62.8h2v1.2h-2zM-44 64h2v1.2h-2zM-50 65.2h2v1.2h-2zM-40 69h2v1.2h-2zM-74 70.2h2v1.2h-2zM-38 70.2h2v1.2h-2zM-32 70.2h2v1.2h-2zM-74 71.5h2v1.2h-2zM-54 74h2v1.2h-2zM-62 76.5h2v1.2h-2zM-46 77.8h2v1.2h-2zM-40 77.8h2v1.2h-2zM-28 77.8h2v1.2h-2zM-58 79h2v1.2h-2zM-70 80.2h2v1.2h-2zM-26 81.5h2v1.2h-2zM-42 82.8h2v1.2h-2zM-36 82.8h2v1.2h-2zM-90 67h2v1.2h-2zM-106 68.2h2v1.2h-2zM-94 68.2h2v1.2h-2zM-100 69.5h2v1.2h-2zM-98 69.5h2v1.2h-2zM-98 70.8h2v1.2h-2zM-126 72h2v1.2h-2zM-120 72h2v1.2h-2zM-118 72h2v1.2h-2zM-88 72h2v1.2h-2zM-112 73.2h2v1.2h-2zM-120 74.5h2v1.2h-2zM-110 75.8h2v1.2h-2zM-108 75.8h2v1.2h-2zM-72 75.8h2v1.2h-2zM-86 79.5h2v1.2h-2zM-90 82h2v1.2h-2zM-70 82h2v1.2h-2zM-78 83.2h2v1.2h-2zM16.4 79h1.6v1h-1.6zM13.2 80h1.6v1h-1.6zM47.2 80.5h1.6v1h-1.6zM54.8 70h1.6v1h-1.6zM54.8 71h1.6v1h-1.6zM51.6 72h1.6v1h-1.6zM99.6 78h1.6v1h-1.6zM144 75.5h1.6v1h-1.6zM-18.1 64h1.6v1h-1.6zM-18.1 65h1.6v1h-1.6z"/></g>
<path id="rg" fill="none" stroke="#9a9a9a" stroke-width="1.3" stroke-linejoin="round" stroke-linecap="round" vector-effect="non-scaling-stroke" d="M-73.5 -41.5 -73.8 -43.5 -74.5 -45.5 -75.3 -47.5 -75.4 -49.5 -74.8 -51.5 -73.5 -53 -72 -54 -70 -55 -68 -55.3 -66.5 -55M5.2 59.5 5 61 5.5 62.5 8.5 63.6 10.5 64.8 12.5 66 14.5 67.5 16 68.5 18.5 69.6 21 70.2 24 70.8 27 71 30 70.3M-123.5 48.5 -125 50 -127.5 51 -128.5 52.5 -130 54 -131 55.5 -133 57 -135 58.5 -137 58.8 -140 59.8M-5 55.5 -5.7 56.5 -5.8 57.5 -5 58.5"/>
<pattern id="grain" patternUnits="userSpaceOnUse" width="64" height="40"><path fill="#fff" fill-opacity="0.65" d="M44.8 0h1.6v1h-1.6zM8 1h1.6v1h-1.6zM9.6 1h1.6v1h-1.6zM14.4 1h1.6v1h-1.6zM17.6 1h1.6v1h-1.6zM20.8 1h1.6v1h-1.6zM28.8 1h1.6v1h-1.6zM51.2 1h1.6v1h-1.6zM3.2 2h1.6v1h-1.6zM8 2h1.6v1h-1.6zM12.8 2h1.6v1h-1.6zM24 2h1.6v1h-1.6zM52.8 2h1.6v1h-1.6zM49.6 3h1.6v1h-1.6zM52.8 3h1.6v1h-1.6zM16 4h1.6v1h-1.6zM17.6 4h1.6v1h-1.6zM11.2 5h1.6v1h-1.6zM16 5h1.6v1h-1.6zM35.2 5h1.6v1h-1.6zM36.8 5h1.6v1h-1.6zM51.2 5h1.6v1h-1.6zM3.2 6h1.6v1h-1.6zM11.2 6h1.6v1h-1.6zM27.2 6h1.6v1h-1.6zM35.2 6h1.6v1h-1.6zM41.6 6h1.6v1h-1.6zM46.4 6h1.6v1h-1.6zM56 6h1.6v1h-1.6zM3.2 7h1.6v1h-1.6zM19.2 7h1.6v1h-1.6zM30.4 7h1.6v1h-1.6zM38.4 7h1.6v1h-1.6zM62.4 7h1.6v1h-1.6zM12.8 8h1.6v1h-1.6zM20.8 8h1.6v1h-1.6zM28.8 8h1.6v1h-1.6zM3.2 9h1.6v1h-1.6zM12.8 9h1.6v1h-1.6zM14.4 9h1.6v1h-1.6zM16 9h1.6v1h-1.6zM19.2 9h1.6v1h-1.6zM32 9h1.6v1h-1.6zM43.2 9h1.6v1h-1.6zM59.2 9h1.6v1h-1.6zM3.2 10h1.6v1h-1.6zM4.8 10h1.6v1h-1.6zM6.4 10h1.6v1h-1.6zM33.6 10h1.6v1h-1.6zM43.2 10h1.6v1h-1.6zM46.4 10h1.6v1h-1.6zM4.8 11h1.6v1h-1.6zM9.6 11h1.6v1h-1.6zM17.6 11h1.6v1h-1.6zM19.2 11h1.6v1h-1.6zM32 11h1.6v1h-1.6zM40 11h1.6v1h-1.6zM54.4 11h1.6v1h-1.6zM60.8 11h1.6v1h-1.6zM41.6 12h1.6v1h-1.6zM54.4 12h1.6v1h-1.6zM56 12h1.6v1h-1.6zM59.2 12h1.6v1h-1.6zM3.2 13h1.6v1h-1.6zM12.8 13h1.6v1h-1.6zM14.4 13h1.6v1h-1.6zM16 13h1.6v1h-1.6zM22.4 13h1.6v1h-1.6zM32 13h1.6v1h-1.6zM57.6 13h1.6v1h-1.6zM0 14h1.6v1h-1.6zM25.6 14h1.6v1h-1.6zM43.2 14h1.6v1h-1.6zM40 15h1.6v1h-1.6zM52.8 15h1.6v1h-1.6zM4.8 16h1.6v1h-1.6zM24 16h1.6v1h-1.6zM25.6 16h1.6v1h-1.6zM27.2 16h1.6v1h-1.6zM43.2 16h1.6v1h-1.6zM3.2 17h1.6v1h-1.6zM16 17h1.6v1h-1.6zM44.8 17h1.6v1h-1.6zM54.4 17h1.6v1h-1.6zM1.6 18h1.6v1h-1.6zM20.8 18h1.6v1h-1.6zM16 19h1.6v1h-1.6zM30.4 19h1.6v1h-1.6zM46.4 19h1.6v1h-1.6zM54.4 19h1.6v1h-1.6zM1.6 20h1.6v1h-1.6zM30.4 20h1.6v1h-1.6zM32 20h1.6v1h-1.6zM35.2 20h1.6v1h-1.6zM36.8 20h1.6v1h-1.6zM48 20h1.6v1h-1.6zM8 21h1.6v1h-1.6zM14.4 21h1.6v1h-1.6zM30.4 21h1.6v1h-1.6zM44.8 21h1.6v1h-1.6zM46.4 21h1.6v1h-1.6zM48 21h1.6v1h-1.6zM52.8 21h1.6v1h-1.6zM1.6 22h1.6v1h-1.6zM54.4 22h1.6v1h-1.6zM56 22h1.6v1h-1.6zM57.6 22h1.6v1h-1.6zM59.2 22h1.6v1h-1.6zM60.8 22h1.6v1h-1.6zM62.4 22h1.6v1h-1.6zM11.2 23h1.6v1h-1.6zM25.6 23h1.6v1h-1.6zM36.8 23h1.6v1h-1.6zM43.2 23h1.6v1h-1.6zM46.4 23h1.6v1h-1.6zM54.4 23h1.6v1h-1.6zM59.2 23h1.6v1h-1.6zM28.8 24h1.6v1h-1.6zM46.4 24h1.6v1h-1.6zM54.4 24h1.6v1h-1.6zM16 25h1.6v1h-1.6zM38.4 25h1.6v1h-1.6zM46.4 25h1.6v1h-1.6zM57.6 25h1.6v1h-1.6zM11.2 26h1.6v1h-1.6zM12.8 26h1.6v1h-1.6zM20.8 26h1.6v1h-1.6zM25.6 26h1.6v1h-1.6zM51.2 26h1.6v1h-1.6zM62.4 26h1.6v1h-1.6zM9.6 27h1.6v1h-1.6zM36.8 27h1.6v1h-1.6zM57.6 27h1.6v1h-1.6zM24 28h1.6v1h-1.6zM43.2 28h1.6v1h-1.6zM12.8 29h1.6v1h-1.6zM16 29h1.6v1h-1.6zM24 29h1.6v1h-1.6zM35.2 29h1.6v1h-1.6zM57.6 29h1.6v1h-1.6zM0 30h1.6v1h-1.6zM6.4 30h1.6v1h-1.6zM25.6 30h1.6v1h-1.6zM44.8 30h1.6v1h-1.6zM54.4 30h1.6v1h-1.6zM30.4 31h1.6v1h-1.6zM52.8 31h1.6v1h-1.6zM62.4 31h1.6v1h-1.6zM1.6 32h1.6v1h-1.6zM19.2 32h1.6v1h-1.6zM20.8 32h1.6v1h-1.6zM38.4 32h1.6v1h-1.6zM41.6 32h1.6v1h-1.6zM43.2 32h1.6v1h-1.6zM38.4 33h1.6v1h-1.6zM40 33h1.6v1h-1.6zM52.8 33h1.6v1h-1.6zM57.6 33h1.6v1h-1.6zM1.6 34h1.6v1h-1.6zM3.2 34h1.6v1h-1.6zM16 34h1.6v1h-1.6zM25.6 34h1.6v1h-1.6zM40 34h1.6v1h-1.6zM43.2 34h1.6v1h-1.6zM59.2 34h1.6v1h-1.6zM62.4 34h1.6v1h-1.6zM4.8 35h1.6v1h-1.6zM12.8 35h1.6v1h-1.6zM40 35h1.6v1h-1.6zM44.8 35h1.6v1h-1.6zM46.4 35h1.6v1h-1.6zM48 35h1.6v1h-1.6zM4.8 36h1.6v1h-1.6zM9.6 36h1.6v1h-1.6zM14.4 36h1.6v1h-1.6zM28.8 36h1.6v1h-1.6zM44.8 36h1.6v1h-1.6zM4.8 37h1.6v1h-1.6zM11.2 37h1.6v1h-1.6zM17.6 37h1.6v1h-1.6zM19.2 37h1.6v1h-1.6zM25.6 37h1.6v1h-1.6zM41.6 37h1.6v1h-1.6zM48 37h1.6v1h-1.6zM0 38h1.6v1h-1.6zM4.8 38h1.6v1h-1.6zM25.6 38h1.6v1h-1.6zM28.8 38h1.6v1h-1.6zM40 38h1.6v1h-1.6zM44.8 38h1.6v1h-1.6zM9.6 39h1.6v1h-1.6zM16 39h1.6v1h-1.6zM30.4 39h1.6v1h-1.6zM44.8 39h1.6v1h-1.6z"/></pattern>
</defs>
<g transform="translate(126.80 106.40) scale(0.6170 -0.9860)">
<g clip-path="url(#lc)">
<g clip-path="url(#l180)">
<g filter="url(#soft)">
<path fill="#d6604d" d="M-169.8 67.1 -170.2 66.4 -172.4 66.1 -174 65.7 -176.1 65.6 -178.8 65.6 -180.2 66.3 -179.6 67.1 -180.2 67.9 -177.9 68.2 -176.2 68.7 -174 68.5 -172.4 68.1 -169.7 67.9Z"/>
<path fill="#fddbc7" d="M-164.7 66.9 -150.4 68.9 -137.4 68.6 -124.5 65.3 -121.4 58.8 -124.5 51.5 -131 52.3 -137.4 55.6 -147.8 57.2 -158.2 58.8 -163.4 62.1ZM-91.8 62.1 -92.7 60.3 -93.5 57.9 -98.5 57 -103.3 58 -108.7 57.9 -110.6 60.1 -112.2 62.1 -109.5 63.8 -108.6 66.2 -103.6 66.8 -98.4 67.2 -93.8 66.1 -92.5 63.9ZM-96.4 51.5 -97 50.9 -97.9 50.4 -99.2 50.2 -100.6 50.1 -102.2 50.2 -102.5 50.9 -103.7 51.5 -102.9 52.2 -101.9 52.7 -100.7 53.3 -99 53.1 -97.7 52.7 -96.6 52.2ZM-59 57.2 -61.8 55.4 -62.1 52.7 -67 53.3 -70.9 52 -75.1 52.9 -75.5 55.5 -78.7 57.2 -76.5 59.2 -74.5 61.1 -70.4 61.1 -67 61.2 -63.7 60.6 -59.2 59.7ZM-83.5 45 -83.1 43.5 -84.4 42.1 -86.8 41.4 -89.3 42 -91.2 42.6 -92.9 43.6 -93.9 45 -92.2 46.2 -91.7 47.8 -89.4 48.5 -86.9 48.6 -85.5 47.1 -82.7 46.7ZM-123.2 47.1 -111.5 47.1 -103.7 41 -90.8 40.2 -88.7 33.7 -95.9 29.9 -106.3 30.9 -111.5 27.2 -118.8 32.5 -123.2 41ZM-114.1 29.6 -103.7 30.4 -95.9 28 -92.8 21.5 -95.4 16.6 -101.1 18.3 -106.3 23.1 -111.5 25.6Z"/>
<path fill="#ffffff" d="M-108.9 41 -108.9 40.3 -109.5 39.7 -110.7 39.2 -112.2 39.5 -113.7 39.5 -114.4 40.3 -114.4 41 -114.1 41.6 -113.2 42.1 -112.1 42.3 -110.9 42.4 -109.4 42.3 -108.2 41.8Z"/>
<path fill="#f4a582" d="M-106.3 26.7 -106.4 26.3 -106.5 25.8 -107.3 25.7 -108 25.8 -108.5 26 -109.1 26.3 -109.4 26.7 -109 27.1 -108.6 27.4 -107.9 27.5 -107.2 27.8 -106.8 27.3 -106.2 27.1ZM-97.6 28 -98.1 27.7 -98.3 27.3 -98.9 27.1 -99.7 27.2 -100.4 27.3 -100.5 27.7 -100.8 28 -100.5 28.3 -100.4 28.7 -99.6 28.7 -99 28.8 -98.2 28.7 -97.7 28.4ZM-93.5 19.9 -94.1 19.2 -94.7 18.6 -95.4 18.2 -96.4 18.3 -97.1 18.7 -97.8 19.2 -97.8 19.9 -97.7 20.6 -97.5 21.4 -96.5 21.7 -95.5 21.5 -94.7 21.1 -94.2 20.5Z"/>
<path fill="#b2182b" d="M-141.3 66.9 -133.5 67.3 -125.8 65.3 -124.5 61.7 -131 60.8 -137.4 62.4 -141.3 64Z"/>
<path fill="#d6604d" d="M-144.6 64.2 -144.7 63.7 -145.2 63.1 -146.5 62.7 -148 63 -149.4 63.1 -150.4 63.6 -150.6 64.2 -150.3 64.8 -149.4 65.3 -148 65.4 -146.5 65.5 -145.5 65.1 -144.5 64.7Z"/>
<path fill="#4393c3" d="M-150.3 68.6 -150.8 68.2 -152.2 68 -153.4 67.6 -155.1 67.7 -156.6 67.9 -157 68.3 -158 68.6 -157.3 68.9 -156.7 69.2 -155.1 69.3 -153.4 69.4 -151.9 69.2 -150.7 68.9ZM-141.5 68.6 -141.5 68.2 -142.2 67.9 -143.3 67.7 -144.5 67.8 -145.7 67.8 -146.6 68.2 -146.7 68.6 -146.7 69 -145.8 69.3 -144.5 69.4 -143.3 69.4 -142.5 69.1 -141.3 69ZM-126 64 -126.5 63.6 -127 63.2 -127.9 63 -128.9 63 -129.5 63.3 -130.4 63.6 -130.5 64 -130.3 64.5 -129.6 64.8 -128.8 65 -127.9 65.1 -127 64.8 -126.3 64.5Z"/>
<path fill="#fddbc7" d="M-75.2 -45.6 -66.2 -45.6 -63.2 -55.4 -73.7 -56.3Z"/>
<path fill="#fddbc7" d="M-108.3 21.7 -98.3 21.7 -93.2 17 -83.2 12.3 -84.5 9.2 -93.2 12.3 -100.8 15.4ZM-80.7 4.5 -75.7 10.7 -63.2 11.5 -48.2 7.6 -35.7 -4.9 -36.9 -12.8 -44.4 -22.2 -53.2 -25.3 -60.7 -25.3 -64.5 -22.2 -67 -17.5 -70.7 -14.3 -75.7 -11.2 -79.5 -4.9ZM-72.7 -17.5 -67 -17.5 -65.7 -25.3 -67 -40.9 -68.2 -51.9 -73.2 -51.9 -73.7 -37.8 -73.2 -25.3Z"/>
<path fill="#ffffff" d="M-67.9 -4.1 -68.1 -5.9 -68.8 -7.7 -70.3 -9 -72 -8.3 -73.9 -8.1 -75 -6.3 -74.6 -4.1 -74.8 -2.1 -73.5 -0.8 -72 -0.3 -70.4 -0.2 -68.9 -0.7 -68 -2.3ZM-36.7 -6.5 -37.4 -7.5 -38.1 -8.7 -40.1 -9.1 -42.3 -9.3 -44.4 -8.8 -45.3 -7.6 -46.9 -6.5 -44.9 -5.5 -44.2 -4.4 -42.2 -4 -40.1 -3.8 -38.5 -4.6 -36.1 -5.1Z"/>
<path fill="#f4a582" d="M-100.4 19.4 -101 18.7 -101.3 17.8 -102.7 17.8 -103.9 17.5 -105 18 -106 18.5 -106.8 19.4 -106.3 20.3 -105.1 20.8 -104 21.4 -102.6 21.3 -101.5 20.8 -100.9 20.1ZM-49.4 0.1 -49.5 -0.7 -49.8 -1.6 -50.4 -2.1 -51 -1.8 -51.4 -1.3 -52 -0.8 -51.7 0.1 -51.7 0.8 -51.5 1.6 -51 2 -50.5 1.7 -49.9 1.6 -49.4 1ZM-75.3 -0.2 -75.4 -0.8 -76 -1.1 -76.6 -1.4 -77.4 -1.7 -78 -1.2 -78.8 -0.9 -79 -0.2 -78.6 0.3 -78 0.7 -77.4 1.2 -76.6 1 -75.9 0.7 -75.5 0.3ZM-73.5 -12 -73.9 -12.8 -74.3 -13.3 -74.7 -13.8 -75.2 -13.6 -75.8 -13.5 -76.1 -12.8 -76.1 -12 -76.2 -11.1 -75.8 -10.3 -75.2 -10.5 -74.7 -10.1 -74.3 -10.6 -73.7 -11ZM-38.5 -13.1 -39 -13.8 -39.3 -14.4 -39.9 -14.7 -40.6 -15.2 -41 -14.4 -41.6 -13.9 -41.7 -13.1 -41.6 -12.2 -41.2 -11.5 -40.5 -11.1 -39.9 -11.5 -39.2 -11.5 -38.9 -12.3ZM-72.5 -37.8 -69 -37.8 -68.7 -48.8 -72 -49.1Z"/>
<path fill="#fddbc7" d="M8.9 68.4 19.1 69.8 30.5 69.1 39.5 66.9 40.7 63.4 32.7 62.7 25.9 54.2 16.9 53.4 10 57ZM28.2 64.1 41.8 63.4 47.5 54.2 45.2 50.6 35 50.6 29.3 54.2ZM-5.8 54.2 10 55.6 28.2 54.2 39.5 49.9 41.8 42.8 32.7 38.5 21.4 38.5 10 40 -1.3 41.4 -5.8 47.1ZM-10.4 44.2 5.5 44.5 6.6 35.7 -10.4 35ZM39.5 41.4 55.4 42.8 71.3 40 73.6 31.4 60 28.6 46.4 26.8 35 26.8 32.7 35.7ZM62.3 47.8 61.7 47.1 60.8 46.5 59.6 46.1 58.1 46.1 56.8 46.5 55.5 47 55.3 47.8 56.3 48.4 56.9 49 58.1 49.4 59.7 49.7 61.3 49.3 61.9 48.5Z"/>
<path fill="#f4a582" d="M-1.9 40 -1.3 38.6 -2.6 37.8 -3.9 37.1 -5.5 37 -6.9 37.6 -7.7 38.7 -8.6 40 -7.6 41.1 -6.7 42.1 -5.6 43.1 -4 42.4 -2.7 42 -1.3 41.3ZM-12.6 35.7 1 36.4 12.3 35 13.5 26.8 -12.6 26.8ZM46.1 38.3 47.6 37.4 44.5 36.8 40.4 36.6 36.5 36.7 32.2 36.8 29 37.4 30.5 38.3 30.3 39 32.7 39.6 36.4 39.9 40.3 39.8 43.4 39.4 46.8 39ZM48.1 31.4 46.1 30.1 45 28.9 43.2 27.6 40.4 27.6 38.1 28.5 37.6 30.2 35.7 31.4 35.8 33.2 37.6 34.7 40.5 35.2 42.9 34.3 45.8 34.6 46.4 32.8Z"/>
<path fill="#d6604d" d="M-13.5 65.2 -13.6 64.7 -15.3 64.4 -17.4 64.4 -19.2 64.3 -21.6 64.3 -21.9 64.9 -23 65.2 -22.3 65.7 -20.8 65.9 -19.4 66.2 -17.5 66 -15.9 65.9 -14.4 65.6Z"/>
<path fill="#fddbc7" d="M36.1 29.6 50.2 30.3 61.9 25.2 69.9 17.8 69.9 12 59.6 11.2 50.2 14.9 43.2 20.8Z"/>
<path fill="#fddbc7" d="M-17.8 28.1 -13.1 35.4 8 36.9 43.2 36.9 50.2 31 50.2 25.2 31.4 23.7 8 24.4 -13.1 23.7ZM-2.5 9 -3.1 8.1 -3.9 6.9 -6.8 6.2 -10.2 6.1 -12.3 7.2 -14.6 7.9 -15 9 -15 10.2 -12.8 11.1 -10.3 12 -7 11.5 -4.8 10.8 -1.7 10.2ZM14 3.1 14.1 1.5 13.3 0.3 12.2 -1 10.9 -0.5 9.7 0.1 9.2 1.7 8.6 3.1 9.2 4.6 9.6 6.3 10.9 6.7 12 6.3 13.1 5.7 13.9 4.7Z"/>
<path fill="#f4a582" d="M6.4 32.5 3.7 31.7 2.5 30.7 -1.6 30.2 -5.5 30.7 -10 30.7 -11 31.7 -11.9 32.5 -12.5 33.5 -9.1 34.1 -6.1 35 -1.7 34.6 1.7 34.1 5.6 33.6ZM26.7 29.9 27.3 28.9 25.4 28.5 24 28.1 22.1 27.5 20.4 28.2 19.8 29.1 19.6 29.9 18.8 30.9 20.4 31.6 22.2 32.1 24 31.6 26 31.5 26.8 30.7ZM42.7 34 42.5 32.9 41.5 31.8 39.5 31.5 37.5 31.5 35.9 32.2 33.7 32.7 33.5 34 33.8 35.3 35.6 36 37.3 36.9 39.5 36.6 41.5 36.1 42.8 35.2Z"/>
<path fill="#d1e5f0" d="M-8.5 17.8 8 20.8 24.4 23.7 43.2 23 52.6 20.8 51.4 13.4 43.2 10.5 26.7 9 8 8.3 -6.1 12ZM32.6 13.4 50.2 14.9 51.4 4.6 43.2 -0.5 35 1.7Z"/>
<path fill="#92c5de" d="M0.9 14.2 12.7 18.6 26.7 21.5 39.7 21.1 45.5 18.6 42 13.4 26.7 11.7 8 11.2 2.1 12.2ZM45.7 6.8 45.2 5.7 44.4 5 43.6 4.7 42.7 4.5 42 5.1 40.8 5.5 40.8 6.8 40.9 8.1 42 8.5 42.7 9.4 43.8 9.8 44.7 9 45.2 7.9Z"/>
<path fill="#4393c3" d="M12.7 16.4 20.9 20.8 31.4 23 37.3 21.5 36.1 16.4 26.7 14.2 17.4 14.2Z"/>
<path fill="#2166ac" d="M33.1 20.3 32.4 19.5 31.6 18.8 30.1 18.3 28.3 17.8 26.5 17.9 24.3 18 24.7 18.9 24.6 19.6 25.5 20.4 27.1 20.9 28.9 21.3 30.7 21.2 32.4 21Z"/>
<path fill="#fddbc7" d="M11.5 -11.5 29.1 -10.1 40.8 -14.5 40.8 -24.8 31.4 -32.1 22.1 -34.3 16.2 -32.1 12.7 -24.8ZM43.2 -13.7 50.2 -13 49 -24.8 43.2 -25.1Z"/>
<path fill="#f4a582" d="M21.5 -25.5 22.2 -27.5 20.6 -28.6 19.4 -30.1 17.7 -29.8 16.2 -28.9 15.4 -27.3 14.4 -25.5 15.8 -24 16.2 -22.1 17.8 -21.8 19.4 -21.2 20.9 -22 21.3 -23.9Z"/>
<path fill="#d1e5f0" d="M127.4 69.8 127.1 69.3 126.7 68.9 125.9 68.7 125 68.5 123.8 68.6 123.6 69.3 123.4 69.8 123.5 70.4 124.2 70.8 124.9 71.3 126 71.3 126.7 70.8 127.2 70.4ZM146.3 66.4 146.2 65.5 145.2 65 144 64.7 142.6 64.4 141.9 65.3 141.3 65.7 140.3 66.4 141 67.1 141.9 67.5 142.7 68.1 144.1 68.4 145.1 67.7 145.7 67.1Z"/>
<path fill="#fddbc7" d="M162.6 68.1 175 69.8 183.3 67.2 180.6 62.1 169.5 59 162.6 61.2ZM163.1 57.8 162.9 56.8 162.8 55.4 161.8 55.2 160.7 54.8 160.1 56.1 159.5 56.7 159.4 57.8 159.4 58.8 160.1 59.5 160.8 60.1 161.7 60.2 162.5 59.6 162.9 58.7ZM53.8 50.9 64.8 49.1 73.1 43.1 74.5 32.8 64.8 32.8 53.8 34.5ZM106.6 28.4 109.7 26.7 102.7 26.1 98.2 25.1 92.2 25.2 86.5 25.7 84.6 27.2 82.3 28.4 84.5 29.7 86.4 31.2 91.6 32.3 98.3 31.9 104.8 31.5 106.3 29.8ZM118.7 30.2 119.3 29 117.3 28.2 114.6 27.6 111.6 27.8 108.6 28.1 106.3 29 105.1 30.2 107.3 31.2 108.8 32.2 111.3 33 114.4 32.4 116.7 31.9 118.8 31.2Z"/>
<path fill="#f4a582" d="M63.5 47.4 64.2 46.2 62.8 45.2 60.3 45.1 58.4 45.2 56.7 45.7 55.3 46.4 55.1 47.4 55 48.5 56.1 49.5 58.3 49.7 60.2 49.5 62.6 49.6 63.1 48.4Z"/>
<path fill="#f4a582" d="M70.9 40 74.5 40.5 79.2 34.8 77.2 31.9 73.1 33.6Z"/>
<path fill="#b2182b" d="M72.5 38.8 74.2 39.1 77.5 34.8 76.4 33.4Z"/>
<path fill="#d1e5f0" d="M64.8 31 74.5 31.9 75.9 20.7 67.6 18.6 64.8 24.1Z"/>
<path fill="#92c5de" d="M72.8 26.7 72.6 25.3 72 24.2 70.9 23.8 69.7 23.5 68.7 24.2 67.6 25.1 67.5 26.7 67.5 28.4 68.5 29.6 69.7 30.4 71 30.2 72 29.4 73.1 28.4Z"/>
<path fill="#fddbc7" d="M113.6 -23.4 117.8 -18.8 128.4 -13.5 136.8 -11.5 143.1 -14.8 148.4 -18.8 153.6 -24 153.6 -31.9 149.4 -37.2 143.1 -38.5 137.8 -35.2 132.6 -31.9 124.1 -33.3 117.8 -34.6 114.7 -30.6Z"/>
<path fill="#ffffff" d="M139.9 -18.8 139.8 -21.1 137.6 -22.7 135 -23.6 132.4 -22.9 129.5 -22.8 128.5 -20.7 128.5 -18.8 129.1 -17.1 130.4 -15.6 132.4 -14.6 135 -14 137 -15.4 138.1 -17.1ZM129 -29.6 127.9 -30.7 125.3 -31.3 123.2 -31.7 120.8 -31.8 118.3 -31.5 115.6 -30.9 114.7 -29.6 116.1 -28.4 118.5 -27.7 120.7 -27.1 123.4 -27.1 125.7 -27.6 126.7 -28.6ZM149.1 -31.3 149 -32.1 147.8 -32.6 145.9 -32.6 144.4 -32.8 143.1 -32.4 141.5 -32 141.5 -31.3 141.3 -30.5 142.6 -29.9 144.5 -30 146 -29.8 147.9 -29.9 148.6 -30.6Z"/>
<path fill="#fddbc7" d="M149.2 -41.4 148.9 -42.1 148.4 -42.8 147.3 -43.2 146.1 -43 144.9 -42.9 144.3 -42.2 144.5 -41.4 144.2 -40.7 145.2 -40.2 146.2 -40.1 147.4 -39.6 148 -40.4 149 -40.7ZM106.2 -4.9 106.3 -5.9 105.4 -6.4 104.6 -6.6 103.7 -6.7 103 -6.3 102.2 -5.8 102.1 -4.9 102.1 -4 102.9 -3.5 103.7 -3.1 104.6 -3.2 105.7 -3.1 106.3 -4ZM142.5 -3.6 141.9 -4.3 140.8 -4.8 139.5 -4.9 138.1 -5.3 136.9 -4.8 136.5 -4.2 136.1 -3.6 136.5 -3 136.8 -2.3 138.1 -1.8 139.5 -2.2 141.1 -2.2 141.6 -3ZM121.2 1 121 0 119.9 -0.6 118.6 -1.1 117.2 -0.8 116.2 -0.3 115 0.2 114.6 1 115.3 1.8 115.9 2.5 117.2 2.8 118.4 2.6 119.7 2.5 120.6 1.8Z"/>
<rect x="-200" y="-70" width="420" height="160" fill="url(#grain)"/>
</g>
</g>
<use href="#spk"/>
</g>
<use href="#rg"/><use href="#wt"/><use href="#bd"/><use href="#cs"/>
</g>
<g transform="translate(377.30 106.40) scale(0.6170 -0.9860)">
<g clip-path="url(#lc)">
<g clip-path="url(#l180)">
<g filter="url(#soft)">
<path fill="#fddbc7" d="M-165.5 66.9 -151.2 70.2 -138.2 69.9 -125.3 66.9 -122.2 58.8 -125.3 52.3 -131.8 53.1 -138.2 56.4 -148.6 58 -159 59.6 -164.2 62.1ZM-125.3 66.1 -104.5 66.9 -81.2 65.3 -63 63.7 -60.5 47.5 -76 47.5 -86.4 50.7 -101.9 49.1 -114.9 49.1 -122.7 52.3ZM-124 49.1 -104.5 49.1 -81.2 47.5 -79.9 37.7 -91.6 36.1 -104.5 36.1 -114.9 33.7 -120.1 36.1 -124 42.6Z"/>
<path fill="#d1e5f0" d="M-138.2 70.2 -104.5 70.5 -103.2 66.9 -122.7 66.1 -137 66.9Z"/>
<path fill="#ffffff" d="M-81.3 58 -81.4 55.4 -83.8 53.7 -86 51.5 -89.3 51.8 -92.3 52.9 -93.9 55.4 -94.6 58 -93.6 60.5 -92.2 62.9 -89.1 63.3 -86.2 63.7 -83.4 62.7 -81.8 60.5ZM-107.5 44.2 -108.4 43.3 -109.6 42.6 -111.2 42 -113.5 41.8 -115.9 42.1 -117.4 43.1 -117.1 44.2 -117.7 45.4 -115.3 46 -113.6 46.8 -111.3 46.2 -108.8 46.3 -107.4 45.3Z"/>
<path fill="#f4a582" d="M-118.8 37.7 -104.5 38.1 -91.6 36.1 -90.3 29.6 -94.2 24.7 -93.6 18.3 -99.4 17.4 -107.1 24.7 -113.6 28 -117.5 32.9ZM-83.4 19.1 -83.7 17.9 -84.7 17 -85.7 16.4 -87 16.5 -88.1 17.1 -88.5 18.1 -89 19.1 -89.1 20.3 -87.9 20.8 -87.1 21.8 -85.8 21.5 -84.8 20.9 -84.5 19.9Z"/>
<path fill="#b2182b" d="M-169.6 67.1 -170.4 66.5 -171.1 65.8 -173.2 65.3 -175.9 65.3 -177.9 65.8 -179 66.4 -179 67.1 -179.5 67.9 -177.9 68.4 -175.8 68.8 -173.5 68.6 -170.9 68.5 -170.4 67.7ZM-161.6 69.4 -148.6 70.5 -138.2 69.4 -139.5 67.3 -151.2 67.3 -160.3 67.3ZM-140.8 66.6 -131.8 66.9 -124.8 63.7 -125.8 60.8 -133.1 61.7 -139.5 63.7Z"/>
<path fill="#4393c3" d="M-152.2 68.2 -152.5 67.9 -153.1 67.6 -154.3 67.3 -155.7 67.5 -157.1 67.6 -158.2 67.8 -157.9 68.2 -157.5 68.5 -157.1 68.9 -155.9 69.1 -154.3 69.1 -153 68.9 -152.4 68.6ZM-127.4 64 -127.6 63.6 -128.1 63.1 -129.4 63.1 -130.5 63.1 -131.6 63.2 -132.7 63.5 -132.3 64 -131.9 64.4 -131.3 64.7 -130.5 65 -129.4 65 -128.5 64.7 -127.9 64.4Z"/>
<path fill="#fddbc7" d="M-76 -45.6 -67 -45.6 -64 -55.4 -74.5 -56.3Z"/>
<path fill="#f4a582" d="M-109.1 21.7 -99.1 21.7 -94.1 17 -84 12.3 -85.3 9.2 -94.1 12.3 -101.6 15.4Z"/>
<path fill="#fddbc7" d="M-81.5 4.5 -76.5 11.5 -64 12.3 -49 7.6 -35.2 -4.9 -36.5 -14.3 -44 -22.9 -54 -26.1 -61.5 -26.1 -65.3 -22.9 -67.8 -18.2 -71.5 -15.1 -76.5 -12 -80.3 -5.7Z"/>
<path fill="#ffffff" d="M-35.1 -6 -35.5 -6.9 -36.9 -7.6 -39 -8 -41.2 -7.6 -43.3 -7.5 -45.3 -6.9 -46.1 -6 -44.5 -5.3 -43.8 -4.4 -41.4 -4.1 -39 -3.9 -37.4 -4.7 -35.4 -5.1ZM-68.8 -9.6 -69.7 -11.5 -70.9 -12.6 -72.1 -13.4 -73.5 -13.4 -74.6 -12.5 -75.5 -11.3 -76.4 -9.6 -75.5 -8 -75.2 -5.9 -73.6 -5 -71.9 -4.9 -70.4 -5.8 -69.4 -7.6Z"/>
<path fill="#f4a582" d="M-48.7 6 -49.8 4.1 -53.7 2.8 -57.7 1.6 -62.2 2.8 -65.6 3.4 -67.9 4.6 -69.2 6 -68.9 7.7 -66.4 9.1 -62.6 10.1 -57.8 10.2 -55 8.6 -51.6 7.7ZM-35.4 -13.5 -36 -15.8 -37.1 -17.2 -38.2 -19.1 -39.7 -18.6 -41.3 -18.1 -42.1 -15.9 -43.1 -13.5 -42.7 -10.8 -40.8 -9.9 -39.8 -7.7 -38.1 -7.8 -37 -9.6 -36.3 -11.5ZM-75.3 -1.8 -75.6 -2.4 -75.9 -3.1 -76.8 -3.5 -77.7 -3.3 -78.4 -2.9 -79.1 -2.5 -79.4 -1.8 -79.3 -1 -78.6 -0.5 -77.7 -0.4 -76.9 -0.4 -75.9 -0.4 -75.5 -1.1ZM-59.4 -16.7 -59.3 -17.1 -60.1 -17.3 -60.9 -17.6 -62 -17.4 -62.9 -17.3 -63.4 -17 -64 -16.7 -64.2 -16.2 -63.1 -15.9 -62.1 -15.8 -60.9 -15.6 -60.2 -16 -59.4 -16.3Z"/>
<path fill="#d6604d" d="M-74 -23.7 -67.8 -23.7 -67 -33.1 -69 -47.2 -74 -48 -74.5 -37.8Z"/>
<path fill="#b2182b" d="M-70.1 -36.3 -70.6 -37.8 -70.7 -40 -71.3 -40.3 -71.8 -39.8 -72.2 -39.4 -72.6 -38.1 -72.7 -36.3 -72.7 -34.3 -72.2 -33.4 -71.8 -32.4 -71.2 -31.2 -70.8 -32.9 -70.4 -34.4Z"/>
<path fill="#fddbc7" d="M-62.3 -28.4 -62.4 -30.3 -62.7 -32.7 -64.4 -33.3 -66.1 -33 -67.1 -31.5 -68.3 -30.4 -69.1 -28.4 -68.4 -26.4 -67.5 -24.6 -66.2 -23.2 -64.5 -23.6 -63 -24.6 -62.6 -26.7Z"/>
<path fill="#fddbc7" d="M8.1 68.4 18.3 69.8 29.7 69.1 38.7 66.9 39.9 63.4 31.9 62.7 25.1 54.2 16 53.4 9.2 57ZM-6.6 54.9 9.2 56.3 27.4 54.9 41 49.9 42.1 41.4 31.9 38.5 20.6 38.5 9.2 40 -2.1 41.4 -6.6 47.1Z"/>
<path fill="#f4a582" d="M44.2 52 45.5 50.3 42.4 49.3 39.6 48.1 35.6 48.2 31.9 48.8 30.8 50.6 28.2 52 29.8 53.7 32 55.2 36.1 55.1 39.5 55.8 42.4 54.7 46 53.8ZM39.4 46.3 35.7 44.4 33.6 42.6 29.5 41.9 25.1 41.6 21.5 42.8 17.6 44.1 18.6 46.3 19.3 48.2 21.1 50.2 25.5 50.5 29.6 51 34.7 50.8 37.9 48.8ZM5.2 48.5 4.4 47.7 4.1 46.6 1.6 46.1 -1.1 46.3 -2.9 47 -4.5 47.6 -6.4 48.5 -5.8 49.5 -2.8 49.9 -1 50.3 1.4 50.5 3.4 50 5.7 49.5ZM-11.2 44.2 4.7 44.5 5.8 35.7 -11.2 35ZM47.3 38.5 47.7 37.5 43.2 37.1 39.9 36.4 34.9 36.1 30.8 36.8 29.8 37.8 28.8 38.5 27.9 39.5 31.5 40.1 35.4 40.5 39.9 40.6 44.2 40.3 48.3 39.6ZM47.8 41.4 70.5 40.7 73.9 31.4 59.2 29.3 47.8 32.9Z"/>
<path fill="#d6604d" d="M-2.4 39.2 -2.4 38.3 -3.6 37.7 -4.7 37.1 -6.3 37 -7.4 37.8 -8.6 38.3 -9.2 39.2 -8 40 -7.8 41.1 -6.2 41.3 -4.8 41.3 -3.3 41 -2.1 40.3ZM-13.5 35 0.2 36.4 13.8 35 14.9 26.8 -13.5 26.8ZM26.5 30 26.8 28.7 24.7 28 22.9 27.1 20.5 27.1 18.8 28 17 28.8 16.1 30 16.3 31.5 17.6 32.8 20.5 32.9 23 33.1 25.5 32.6 27.6 31.6ZM51.2 30.7 50.5 28.7 47.2 27.8 44.6 27.3 41.5 26.3 39.7 28.1 37.3 29 35.9 30.7 37.1 32.5 39.2 33.7 41.5 35.2 44.7 34.3 47.6 33.9 50.1 32.7ZM70.5 37.1 75 37.4 77.3 34.3 77.3 30.7 73.9 31.4Z"/>
<path fill="#b2182b" d="M2.2 30 2.1 29 1 28 -1 27.5 -3.1 27.8 -5.2 28.1 -5.9 29.1 -6.4 30 -6.3 31.1 -4.8 31.8 -3.4 32.9 -1.1 32.3 0.8 31.9 2.8 31.2Z"/>
<path fill="#92c5de" d="M75.3 27.9 74.4 27.2 74 26.4 72.4 26.2 70.9 26.3 69.4 26.5 68.9 27.2 68.5 27.9 68.2 28.7 69.6 29.2 70.8 29.8 72.3 29.4 73.5 29 74.2 28.5Z"/>
<path fill="#fddbc7" d="M35.3 29.6 49.4 30.3 61.1 25.2 69.1 17.8 69.1 12 58.8 11.2 49.4 14.9 42.4 20.8Z"/>
<path fill="#fddbc7" d="M-18.7 28.1 -14 35.4 7.2 36.9 42.4 36.9 49.4 31 50.6 23.7 30.6 23 7.2 23.7 -14 23ZM-16.3 22.2 4.8 22.2 7.2 6.1 -4.6 5.3 -14 9Z"/>
<path fill="#d6604d" d="M-14 35.4 4.8 36.9 6 30.3 -4.6 28.8 -14 29.6Z"/>
<path fill="#b2182b" d="M-1.2 33.2 -1.9 32.6 -3.6 32.3 -5 32 -6.8 31.6 -8.4 32.1 -10.1 32.5 -9.3 33.2 -9.7 33.9 -8 34.2 -6.8 34.8 -4.8 34.7 -3 34.4 -2.3 33.8Z"/>
<path fill="#f4a582" d="M4.8 34 49.4 34.7 50.6 25.9 33 25.2 7.2 26.6ZM5 8.3 3.4 7.6 2.3 7.1 1.1 6.5 -0.7 6.8 -2.1 7.1 -3.6 7.5 -4.3 8.3 -4.2 9.2 -2.7 9.8 -0.7 9.7 1.1 10.1 3.1 9.8 3.4 8.9Z"/>
<path fill="#d6604d" d="M26.3 30.3 25.3 29.4 24.4 28.7 23.1 28.5 21.6 28 20.2 28.6 18.8 29.2 18.9 30.3 19.6 31.1 20.4 31.9 21.7 32.3 23.3 32.8 24.4 31.8 25.1 31.1Z"/>
<path fill="#d1e5f0" d="M2.5 17.8 18.9 23 42.4 23.7 56.4 20.8 55.3 10.5 42.4 9 25.9 9.8 7.2 10.5ZM35.3 14.9 56.4 14.9 55.3 1.7 42.4 -5.7 34.1 -2.7Z"/>
<path fill="#92c5de" d="M7.2 16.4 18.9 22.2 37.7 23 47.1 20 43.5 12.7 25.9 11.2 9.5 12ZM52.6 8.3 51.5 6.4 50.6 4.4 48.4 3.1 45.7 3 43.8 4.7 42.5 6.3 41.2 8.3 41.4 10.7 43.5 12.2 45.7 13.4 48.6 14 50.2 11.8 51.9 10.3ZM41.6 0.9 41.4 -0.7 40.8 -2.3 39.5 -2.7 38.2 -2.8 37.1 -1.8 36 -0.8 35.7 0.9 36.5 2.4 37.3 3.4 38.3 4.2 39.4 4.3 40.8 4.2 41.2 2.4Z"/>
<path fill="#4393c3" d="M13 17.1 18.9 21.5 33 23 38.8 20.8 36.5 15.6 24.8 13.4 15.4 14.2Z"/>
<path fill="#2166ac" d="M16.5 17.8 21.2 21.1 33 22.2 35.3 20 31.8 16.7 22.4 15.6Z"/>
<path fill="#fddbc7" d="M16.7 -1.3 16.4 -3.3 15.8 -5.3 14.3 -5 13 -6 12.1 -4.5 11.6 -2.9 10.8 -1.3 10.9 0.9 11.9 2.3 13.2 2.3 14.5 3.8 15.4 2 16.4 0.7ZM10.7 -11.5 28.3 -10.1 40 -14.5 41.2 -24.8 30.6 -32.1 21.2 -34.3 15.4 -32.1 11.9 -24.8ZM42.4 -13.7 49.9 -13 48.7 -24.8 42.4 -25.1Z"/>
<path fill="#f4a582" d="M14.2 -15.9 33 -15.2 35.3 -24.8 28.3 -30.6 18.9 -31.4 15.4 -24.8Z"/>
<path fill="#d6604d" d="M22.4 -25.5 21.7 -26.9 21.1 -28.3 20 -28.9 18.8 -28.6 17.9 -27.9 16.6 -27.2 16.6 -25.5 16.5 -23.7 17.9 -23.1 18.8 -22.2 19.9 -22.3 21.4 -22.2 22.2 -23.7Z"/>
<path fill="#fddbc7" d="M152.2 67.2 174.2 69.3 183.9 68.1 182.5 62.1 168.7 55.2 157.7 52.6 153.6 58.6ZM53 55.2 83.3 51.7 84.7 37.9 77.8 31 61.3 31 53 34.5ZM117 28.4 113.7 26.6 108.6 25.6 104.2 24.4 98.5 24.7 94.1 25.7 88.5 26.5 88.5 28.4 90.6 30.1 92.6 31.8 97.7 33.3 104.8 33.3 109.7 31.8 111.9 30.1ZM121.2 29.3 119 28 118 26.6 114.9 26.5 111.8 25.4 109.3 26.6 107.5 27.8 107.3 29.3 107.3 30.8 108.6 32.5 112.1 32.6 115 32.3 117.9 32 120.8 31Z"/>
<path fill="#d6604d" d="M97.3 69.3 97.3 68.8 96.9 68.4 96 68.4 95.3 68.2 94.7 68.5 94.4 68.9 94.3 69.3 94 69.8 94.7 70.1 95.3 70.3 96.1 70.5 96.8 70.1 97.2 69.8Z"/>
<path fill="#d1e5f0" d="M146.5 65.2 146.6 64.5 145.5 64.2 144.5 63.8 143.3 63.7 142.1 64.1 141.8 64.7 141.5 65.2 141.3 65.8 142.1 66.3 143.4 66.3 144.6 66.8 145.4 66.1 146.1 65.7ZM168.1 67.6 168.2 67 167.3 66.5 165.6 66.1 163.8 66.4 161.8 66.4 161.4 67.1 160.3 67.6 161.2 68.1 162.1 68.6 163.8 68.7 165.6 69 166.8 68.5 168.7 68.2Z"/>
<path fill="#f4a582" d="M161.8 67.2 177 68.6 181.1 65.5 174.2 59.5 164.6 56.9 161.8 62.1ZM59.9 48.3 75 47.4 77.8 32.8 64 31 59.9 37.9Z"/>
<path fill="#d6604d" d="M181.3 67.6 181.2 67 180.6 66.6 179.7 66.4 178.6 66.3 177.6 66.5 177.4 67.1 177.1 67.6 176.9 68.2 178 68.4 178.7 68.7 179.7 68.7 180.8 68.7 180.9 68ZM69.5 41.4 74.5 41.7 80.6 34.5 78.3 31 72.3 32.8Z"/>
<path fill="#b2182b" d="M78.2 35.3 78 34.1 77.5 33.2 76.7 33.3 76 32.4 75.5 33.5 74.7 34.1 74.7 35.3 75 36.4 75.3 37.6 76 38 76.8 37.7 77.5 37.5 77.9 36.5Z"/>
<path fill="#92c5de" d="M65.4 31 77.8 31.9 79.2 20.7 69.5 18.6 65.4 24.1Z"/>
<path fill="#fddbc7" d="M112.8 -23.4 117 -18.8 127.6 -13.5 136 -11.5 142.3 -14.8 147.6 -18.8 153.9 -24 153.9 -31.9 149.7 -37.2 143.4 -38.8 137 -35.2 131.8 -32.6 123.3 -33.3 117 -34.8 113.9 -30.6Z"/>
<path fill="#ffffff" d="M136.8 -16.8 136.1 -18.6 135 -20.2 132.7 -20.2 130.7 -20.6 129.4 -19.3 127.2 -18.7 126.7 -16.8 127.1 -14.9 129.4 -14.2 130.7 -12.9 132.8 -13 134.3 -14.1 135.5 -15.3ZM150.3 -29.6 149.5 -31 147.4 -31.6 146 -32.7 143.7 -32.6 142.1 -31.7 140.4 -30.9 140.6 -29.6 141 -28.4 142.4 -27.7 143.7 -26.6 145.9 -26.7 148 -27.1 149 -28.3Z"/>
<path fill="#f4a582" d="M113.9 -21.4 118.1 -21.4 119.5 -33.9 116 -34.8 113.2 -30.6Z"/>
<path fill="#fddbc7" d="M148.6 -41.4 148.3 -42 147.9 -42.6 147 -42.7 146 -42.8 145.1 -42.6 144.7 -42 144.3 -41.4 144.9 -41 145.3 -40.5 146 -40 146.9 -40.3 147.6 -40.6 148.1 -41ZM168.6 -45.1 173.9 -38.5 178.1 -37.2 179.2 -39.9 173.9 -45.1 169.7 -47.1ZM108.8 -4.3 108.1 -4.8 107.8 -5.3 106.9 -5.5 106 -5.7 105.2 -5.3 104.6 -4.8 104.7 -4.3 104.4 -3.6 105 -3.1 106 -2.9 107 -2.8 107.9 -3.2 108.5 -3.6ZM144.5 -4.9 143.8 -5.8 142.2 -6.1 141.2 -7 139.2 -7 138.1 -6.2 137.3 -5.6 136.6 -4.9 137.3 -4.2 137.9 -3.5 139.5 -3.4 141 -3.3 142.1 -3.7 143.5 -4.1Z"/>
<path fill="#fddbc7" d="M38.1 72.2 69.2 73.4 90.6 71 88.7 64.3 69.2 64.1 49.8 65.3 38.1 66.5ZM20.6 70.4 32.3 68 40 64.3 55.6 55.8 61.4 48.5 75 46 77 36.9 20.6 36.9Z"/>
<path fill="#f4a582" d="M43.3 52.1 43.7 50.4 40.4 49.4 36.9 49 32.9 48 28.9 48.9 26.7 50.4 27.3 52.1 27.6 53.7 29.8 54.9 33.3 55.6 36.8 55.1 40.5 54.9 43.8 53.9Z"/>
<path fill="#d6604d" d="M97.1 69.8 97 69.4 96.5 69.1 95.8 68.9 95.1 68.8 94.3 69 93.9 69.4 94 69.8 94 70.2 94.4 70.5 95.1 70.7 95.8 70.7 96.4 70.4 96.7 70.1Z"/>
<rect x="-200" y="-70" width="420" height="160" fill="url(#grain)"/>
</g>
</g>
<use href="#spk"/>
</g>
<use href="#rg"/><use href="#wt"/><use href="#bd"/><use href="#cs"/>
</g>
<g transform="translate(126.80 271.70) scale(0.6170 -0.9860)">
<g clip-path="url(#lc)">
<g clip-path="url(#l180)">
<g filter="url(#soft)">
<path fill="#fddbc7" d="M-171.4 67.2 -171.9 66.7 -172.5 66.2 -174.1 65.9 -175.8 66.1 -177.5 66.2 -179 66.6 -178.7 67.2 -178 67.7 -177.6 68.3 -175.9 68.4 -174.3 68.3 -172.8 68.2 -172.2 67.7Z"/>
<path fill="#d1e5f0" d="M-164.7 66.4 -150.4 68.9 -137.4 68.9 -124.5 67.2 -99.8 67.2 -98.5 58.3 -119.3 57.8 -137.4 59.1 -150.4 59.9 -163.4 61.6ZM-66.8 64.8 -66.7 63.4 -72.1 62.6 -77.5 62.2 -83.9 61.6 -91.7 61.9 -96.1 63.2 -95 64.8 -96.5 66.4 -88.6 67 -83.4 67.6 -77.5 67.4 -72.2 66.9 -65.9 66.3Z"/>
<path fill="#92c5de" d="M-100.2 61.1 -102.2 60 -104.3 59 -109.2 58.7 -114.2 58.3 -118.2 59.1 -121 60 -120.7 61.1 -120.6 62.1 -117.8 62.9 -114.1 63.7 -109.4 63.2 -105.5 62.8 -101.1 62.3ZM-104 46.5 -103.9 46 -104.6 45.8 -105.3 45.5 -106.3 45.5 -106.9 45.8 -107.8 46 -107.8 46.5 -107.6 46.9 -107.3 47.3 -106.3 47.5 -105.4 47.4 -104.4 47.3 -104.2 46.8Z"/>
<path fill="#4393c3" d="M-149.8 68.5 -151.2 68.1 -151.9 67.6 -154.1 67.3 -156.9 67.4 -158.6 67.8 -160.8 68 -161.2 68.5 -160.6 69 -158.7 69.3 -156.8 69.6 -154.3 69.6 -152.6 69.3 -150.1 69.1ZM-141.6 68.4 -141.8 68.1 -142.5 67.8 -143.4 67.6 -144.6 67.5 -145.4 67.8 -145.9 68.1 -146.4 68.4 -146.6 68.8 -145.3 68.9 -144.5 69.1 -143.4 69.1 -142.2 69.1 -141.6 68.7Z"/>
<path fill="#b2182b" d="M-140 66.8 -133.5 66.9 -127.1 64.8 -127.6 62.7 -133.5 63.2 -139.5 64.8Z"/>
<path fill="#fddbc7" d="M-124.5 49.4 -111.5 49.7 -98.5 46.1 -94.7 38 -94.7 28.3 -103.7 28.3 -111.5 29.9 -118 34.8 -123.2 41.3ZM-111.5 29.9 -101.1 29.1 -90.8 21.8 -90.8 16.9 -98.5 16.9 -106.3 23.4Z"/>
<path fill="#f4a582" d="M-120.6 42.9 -112.8 44.5 -106.3 38 -105 30.7 -111.5 29.9 -118 34.8Z"/>
<path fill="#fddbc7" d="M-75.2 -45.3 -66.2 -45.3 -63.2 -55.1 -73.7 -56Z"/>
<path fill="#fddbc7" d="M-108.3 22 -98.3 22 -93.2 17.3 -83.2 12.6 -84.5 9.5 -93.2 12.6 -100.8 15.7ZM-80.7 4.8 -75.7 11.8 -63.2 12.6 -48.2 7.9 -34.4 -4.6 -35.7 -14 -43.2 -22.6 -48.2 -26.5 -58.2 -25 -64.5 -25 -67 -17.9 -70.7 -14.8 -75.7 -11.7 -79.5 -5.4Z"/>
<path fill="#ffffff" d="M-62.9 0.9 -61.8 -3 -64.6 -4.9 -66.7 -7.3 -69.6 -6.6 -72.6 -6.1 -73 -2 -73.9 0.9 -73.4 4 -71.8 6.5 -69.8 9.4 -66.8 8.5 -64.5 6.6 -62.6 4.3Z"/>
<path fill="#f4a582" d="M-57 -7 -43.2 -5.4 -36.2 -7.8 -38.2 -16.4 -44.4 -22.6 -53.2 -21.8 -57 -15.6ZM-71.2 -15.6 -63.2 -16.4 -62 -25 -67 -28.1 -72 -25Z"/>
<path fill="#fddbc7" d="M-73.2 -25 -66.2 -25 -65.7 -40.6 -67 -53.2 -73.2 -53.2 -74.5 -40.6Z"/>
<path fill="#f4a582" d="M-72.7 -26.5 -68.2 -26.5 -68.2 -40.6 -72 -40.6Z"/>
<path fill="#b2182b" d="M-67.1 -23.4 -67.3 -24.3 -67.7 -24.9 -68.2 -25.4 -68.8 -25.3 -69.2 -24.8 -69.6 -24.2 -69.6 -23.4 -69.6 -22.6 -69.4 -21.7 -68.7 -21.7 -68.2 -21.7 -67.7 -21.9 -67.3 -22.6Z"/>
<path fill="#fddbc7" d="M-5.8 54.5 10 55.9 28.2 56.6 37.3 58.7 46.4 57.3 55.4 51.6 73.6 48.8 75.9 41.7 60 40.3 48.6 44.5 41.8 41.7 32.7 38.8 21.4 38.8 10 40.3 -1.3 41.7 -5.8 47.4ZM50.9 43.1 71.3 42.4 73.6 33.2 60 31.7 50.9 34.6Z"/>
<path fill="#92c5de" d="M21.1 67.2 21.1 66.6 20.7 66 19.5 66.1 18.7 66.1 17.6 66 16.8 66.5 17.2 67.2 17.4 67.8 17.6 68.4 18.7 68.5 19.7 68.7 20.3 68.2 21.1 67.8Z"/>
<path fill="#d1e5f0" d="M63 63.7 62.9 63.1 62.7 62.5 62.1 62.3 61.4 62.1 60.8 62.4 60.5 63 60.3 63.7 60.7 64.2 60.9 64.8 61.5 65 62.1 65.1 62.5 64.6 63.2 64.4Z"/>
<path fill="#f4a582" d="M-9.9 43.1 2.1 43.4 3.2 36 -9.2 35.3ZM-12.6 35.3 14.6 36 39.5 33.9 41.8 27.1 -12.6 27.1ZM48.1 38.6 48.6 37.5 45.8 36.6 41 36.2 36.2 36.6 31.2 36.7 27.6 37.5 29.6 38.6 28.4 39.6 31.5 40.4 36.2 40.6 40.5 40.5 44 40 47.3 39.5Z"/>
<path fill="#d6604d" d="M-0.1 30 -1.5 28.9 -3 28 -4.7 27.2 -6.9 27.3 -9.1 27.7 -10.3 28.8 -10.4 30 -9.6 31.1 -9.3 32.5 -7 33 -4.8 32.6 -2.7 32.3 -1.2 31.3ZM24.1 28.9 24.3 28 22.5 27.3 20.2 27.2 18.1 27.2 15.9 27.4 15.2 28.2 13.4 28.9 15.4 29.6 16 30.3 18.1 30.6 20.2 30.7 21.7 30.1 23.2 29.6ZM48.8 31.7 47.9 29.8 45.7 28.9 44 27.9 42 28.5 40.3 29.1 39 30.2 37.1 31.7 38.8 33.4 40.1 34.6 42 35 43.9 35.1 46.6 35.4 47.8 33.6Z"/>
<path fill="#92c5de" d="M77.7 29.6 77 28.4 75.6 27.4 73.4 27.3 71.6 27.4 69.9 27.8 69 28.7 68.4 29.6 68 30.8 69.6 31.6 71.6 31.7 73.4 31.9 75.6 31.9 77.1 30.9Z"/>
<path fill="#fddbc7" d="M36.1 29.9 50.2 30.6 61.9 25.5 69.9 18.1 69.9 12.3 59.6 11.5 50.2 15.2 43.2 21.1Z"/>
<path fill="#fddbc7" d="M-17.8 28.4 -13.1 35.8 8 37.2 43.2 37.2 50.2 31.3 51.4 24 31.4 23.3 8 24 -13.1 23.3Z"/>
<path fill="#f4a582" d="M-10.8 37.2 5.6 37.2 6.8 30.6 -3.8 29.1 -10.8 29.9ZM17.4 37.2 43.2 37.2 45.5 29.1 19.7 28.4Z"/>
<path fill="#d6604d" d="M-1.1 32.1 -1.5 31 -2.4 30.1 -4.1 29.9 -5.7 30 -7.2 30.3 -7.9 31.2 -7.9 32.1 -7.8 33 -7.1 33.8 -5.6 33.9 -4.3 33.9 -2.9 33.6 -1.9 33ZM27.3 30.6 26.4 29.7 25.7 28.7 24.1 28.3 22.4 28.4 21.2 29 20.2 29.7 19.9 30.6 19.9 31.6 20.7 32.6 22.4 33 23.9 32.6 25.1 32.1 25.8 31.4Z"/>
<path fill="#d1e5f0" d="M-6.1 21.1 15 25.5 43.2 26.2 57.3 22.5 56.1 7.9 47.9 -1 24.4 -0.2 19.7 4.9 0.9 7.9 -6.1 13.7Z"/>
<path fill="#92c5de" d="M-3.8 17.4 12.7 23.3 38.5 24.7 52.6 21.8 53.7 13.7 43.2 7.9 26.7 7.9 8 9.3 -2.6 12.3Z"/>
<path fill="#4393c3" d="M5.6 18.1 15 21.8 36.1 23.3 43.2 21.1 42 15.2 29.1 13 10.3 13Z"/>
<path fill="#2166ac" d="M11.5 17.4 17.4 20.8 35 21.8 38.5 18.9 35 15.2 19.7 14.5Z"/>
<path fill="#fddbc7" d="M39.8 -3.2 38.6 -4.3 36.8 -5 35 -5.8 32.6 -5.7 30.5 -5.2 28.2 -4.5 27.7 -3.2 28.9 -2 29.8 -0.7 32.6 -0.6 35.3 0.1 36.9 -1.2 39.2 -1.8Z"/>
<path fill="#f4a582" d="M11.5 -11.2 29.1 -9.8 42 -14.2 43.2 -24.5 32.6 -32.5 22.1 -34.7 16.2 -31.8 12.7 -24.5ZM43.2 -13.4 50.7 -12.7 49.5 -24.5 43.2 -24.7Z"/>
<path fill="#d6604d" d="M13.1 -17.1 29.1 -16.4 31.4 -25.9 24.4 -30.3 16.2 -28.9Z"/>
<path fill="#b2182b" d="M20.7 -22.3 20.6 -23.1 20.1 -23.6 19.6 -24.2 18.9 -24 18.3 -23.7 18.2 -22.9 18 -22.3 18 -21.5 18.3 -20.9 19 -20.8 19.6 -20.4 20.1 -20.9 20.5 -21.5Z"/>
<path fill="#d1e5f0" d="M86.9 67.5 89.6 79.6 144.7 81.3 169.5 76.2 183.3 71 177.8 64.1 164 62.4 153 60.6 139.2 50.3 128.2 41.7 119.9 34.8 106.2 32.2 89.6 34.8 81.4 40 84.1 48.6 89.6 55.5 88.2 62.4Z"/>
<path fill="#92c5de" d="M89.6 69.3 92.4 79.6 144.7 80.5 175 73.6 176.4 64.1 153 61.5 136.5 55.5 119.9 52 108.9 55.5 95.1 58.9 89.6 64.1ZM124.2 46.9 124.2 44.3 117.7 43.1 112.4 41.7 105.4 41.6 98.9 42.6 96.2 44.8 95 46.9 95.4 49.1 99.1 51 105.4 52.2 111.8 51.2 118.2 50.8 122.9 49.1Z"/>
<path fill="#4393c3" d="M100.2 68.4 99.7 67.8 99.5 66.9 97.3 67 95.6 66.7 94.1 67.2 93.4 67.8 92.7 68.4 93.2 69.1 94 69.7 95.5 70.3 97.3 69.8 99 69.7 100.5 69.2ZM133.9 67.5 132.4 66.6 131.5 65.7 129.8 65.2 127.5 64.7 125.7 65.6 124.7 66.5 123.8 67.5 124.3 68.7 126.1 69.3 127.6 70.2 129.9 70.3 131.8 69.6 133.3 68.7ZM146.4 64.4 146.1 63 143.7 62.1 140.9 62.1 138.4 61.6 135.8 62 134.6 63.2 133.3 64.4 134.6 65.7 135.8 66.8 138.4 67.4 141.2 67.5 144.1 67.1 145.6 65.8ZM178.3 67.9 177.6 66.9 174.8 66.4 172.5 65.8 169.3 65.8 167.3 66.5 164.1 66.9 164.7 67.9 164.7 68.8 166.6 69.5 169.3 70.1 172.6 70.1 175.2 69.5 178.1 68.9ZM97.8 48.2 97.7 47.6 97.2 47 95.7 47 94.5 46.8 93.1 47 93 47.7 92.1 48.2 92.5 48.9 93.4 49.3 94.5 49.7 95.8 49.8 96.6 49.2 97.6 48.8Z"/>
<path fill="#fddbc7" d="M180.2 62.4 179.8 61.6 178.6 60.8 176.3 60.5 173.8 60.5 172.4 61.2 170.7 61.6 169.3 62.4 169.9 63.2 171.7 63.8 174 64 176.3 64.2 178.2 63.7 179.8 63.2ZM53.8 51.2 70.3 49.4 77.2 43.4 78.6 34.8 64.8 33.1 53.8 34.8Z"/>
<path fill="#f4a582" d="M72.1 42.5 71.9 40.4 69.5 38.9 66.6 37.6 63.3 38.4 60.5 39.2 58.3 40.6 57.8 42.5 59.6 44.1 59.8 46.5 63.4 46.5 66.4 46.7 68.4 45.4 70.3 44.2ZM78.3 37.4 77.2 36.3 76.4 35.5 75.3 34.6 73.8 35.1 72.3 35.2 71.4 36.2 70.7 37.4 71.5 38.5 72.5 39.3 73.8 39.7 75.2 39.8 76.2 39 77 38.3Z"/>
<path fill="#d1e5f0" d="M64.8 34.8 81.4 34.8 84.1 21 70.3 18.9 64.8 24.4Z"/>
<path fill="#92c5de" d="M74.5 30.5 74.4 29.2 73.7 27.8 72 27 70 27.6 68.5 28.3 67.4 29.2 66.6 30.5 67.2 31.8 68.7 32.6 70 33.5 71.7 33.3 73.1 32.6 75 32ZM79.6 23.6 79.7 22.5 79.1 21.4 77.9 21 76.5 20.7 75.6 21.7 74.3 22.3 74.9 23.6 74.4 24.9 75.6 25.5 76.7 25.7 77.8 25.9 79.2 26 79.9 24.8Z"/>
<path fill="#4393c3" d="M72.7 29.6 72.5 28.8 71.7 28.5 71.2 28.1 70.5 28 69.7 28.1 69.2 28.8 69.4 29.6 69.1 30.5 69.8 31 70.5 31.2 71.2 31 71.9 30.9 72.4 30.4Z"/>
<path fill="#f4a582" d="M113.6 -23.1 117.8 -18.5 128.4 -13.2 136.8 -11.6 143.1 -14.5 149.4 -19.8 152.6 -25.1 145.2 -26.4 128.4 -26.4 114.7 -27Z"/>
<path fill="#d6604d" d="M113.6 -21.1 119.9 -17.8 127.3 -16.5 128.4 -22.4 125.2 -26.4 114.7 -27Z"/>
<path fill="#fddbc7" d="M114.7 -27 128.4 -26.4 145.2 -26.4 153.2 -25.1 154.7 -31.6 150.5 -36.9 144.2 -38.5 137.8 -34.9 132.6 -32.3 124.1 -33 117.8 -34.5 114.7 -30.3Z"/>
<path fill="#ffffff" d="M141.9 -30.1 140.7 -31 139.7 -32.2 135.5 -32.4 131.9 -32.2 127.9 -32.1 126.7 -31 125.4 -30.1 127.1 -29.2 128.9 -28.4 131.4 -27.3 135.6 -27.6 138.9 -28.2 141.7 -29ZM149.6 -33.6 149.1 -34.5 148.1 -35.1 146.9 -35.3 145.7 -35.2 144.6 -35 143.5 -34.4 143.7 -33.6 143.2 -32.7 144.4 -32.2 145.6 -31.9 146.9 -31.8 148.2 -32.1 148.8 -32.9Z"/>
<path fill="#fddbc7" d="M149.5 -41.1 149 -41.8 148 -42.2 147.2 -42.4 146.1 -42.9 145.1 -42.4 144.6 -41.8 144 -41.1 144.8 -40.6 144.9 -39.7 146 -39.4 147.3 -39.5 148 -40.1 148.9 -40.5Z"/>
<rect x="-200" y="-70" width="420" height="160" fill="url(#grain)"/>
</g>
</g>
<use href="#spk"/>
</g>
<use href="#rg"/><use href="#wt"/><use href="#bd"/><use href="#cs"/>
</g>
<g transform="translate(377.30 271.70) scale(0.6170 -0.9860)">
<g clip-path="url(#lc)">
<g clip-path="url(#l180)">
<g filter="url(#soft)">
<path fill="#fddbc7" d="M-165.5 67.2 -151.2 70.5 -138.2 70.2 -125.3 67.2 -122.2 59.1 -125.3 52.6 -131.8 53.4 -138.2 56.7 -148.6 58.3 -159 59.9 -164.2 62.4Z"/>
<path fill="#fddbc7" d="M-125.3 67.2 -104.5 68.1 -81.2 66.4 -60.5 65.6 -60.5 47.8 -76 47 -86.4 50.2 -101.9 48.6 -114.9 48.6 -122.7 51.8Z"/>
<path fill="#f4a582" d="M-100.8 55.1 -102.6 53.5 -106 52.6 -109.2 51.9 -112.7 52.1 -116.7 52.3 -118.3 53.7 -119.9 55.1 -120.4 56.8 -117.5 58.3 -113 58.5 -108.8 58.9 -106.1 57.5 -101.5 56.9ZM-60 55.1 -62.2 52.6 -63.9 50 -68.4 49.9 -72.7 48.6 -75.6 50.9 -79.7 52.2 -80.5 55.1 -79.8 57.9 -76.4 59.9 -72 59.8 -68.4 60.2 -64.3 59.8 -60.9 57.9ZM-112 63.2 -113.6 62.5 -114.4 61.7 -116.4 61.4 -118.5 61.5 -120.4 61.8 -122.2 62.3 -122.5 63.2 -121.8 64 -120.6 64.7 -118.8 65.4 -116.3 65.1 -114 64.8 -112.1 64.2Z"/>
<path fill="#ffffff" d="M-82.3 58.3 -81 55.5 -84.2 54.5 -86.4 53.4 -89.2 52.3 -92.1 53.5 -93.8 55.8 -94.1 58.3 -94 61 -91.6 62.6 -89 63.2 -86.4 63.3 -84.2 62.1 -82.8 60.4Z"/>
<path fill="#f4a582" d="M-124 49.4 -104.5 50.2 -81.2 48.6 -74.7 41.3 -78.6 34.8 -86.4 31.5 -91.6 25.1 -96.8 18.6 -104.5 18.6 -112.3 25.1 -118.8 29.9 -124 41.3Z"/>
<path fill="#fddbc7" d="M-75.8 41.3 -76.9 39.2 -81 38.3 -84.4 37.4 -88.2 37.6 -92.6 37.8 -94.5 39.5 -94.4 41.3 -95.7 43.3 -92.9 44.9 -88.1 44.6 -84.4 45.2 -81.3 44.1 -77.8 43.1Z"/>
<path fill="#d6604d" d="M-121.4 44.5 -109.7 45.3 -104.5 39.7 -107.1 34 -114.9 31.5 -120.1 36.4ZM-96.5 33.2 -97.2 31.5 -98.6 30.2 -100.6 29.1 -103.2 29.2 -105.5 30 -107.4 31.3 -107.6 33.2 -107.9 35.2 -105.4 36.3 -103.3 37.5 -100.5 37.7 -98.2 36.5 -96.6 35Z"/>
<path fill="#f4a582" d="M-112.3 28.3 -99.4 28.3 -87.7 21.8 -86.4 15.3 -96.8 14.5 -104.5 20.2 -109.7 23.4Z"/>
<path fill="#b2182b" d="M-112 36.4 -112.4 34.7 -113.7 33.9 -114.8 33 -116 33.4 -117 34.1 -118.4 34.8 -118.3 36.4 -118 37.8 -117 38.7 -116 39.3 -114.7 40.1 -113.6 39.1 -112.7 37.9ZM-169 66.4 -169.2 65.6 -171.1 65.1 -173.5 65 -175.9 64.6 -177.4 65.3 -179.4 65.7 -180 66.4 -178.9 67.1 -178.2 67.9 -175.8 68.1 -173.3 68.1 -171.7 67.5 -169.3 67.2ZM-161.6 69.7 -148.6 70.8 -138.2 69.7 -139.5 67.2 -151.2 67.2 -160.3 67.2ZM-140.8 66.4 -131.8 66.9 -124.8 63.7 -125.8 61.1 -133.1 62 -139.5 64Z"/>
<path fill="#4393c3" d="M-142.3 67.2 -142.3 66.9 -143 66.6 -144.2 66.5 -145.3 66.5 -146.3 66.6 -147.5 66.8 -147.5 67.2 -147 67.6 -146.4 67.9 -145.3 68.1 -144.2 68 -143.4 67.8 -142.7 67.5ZM-126.5 64 -126.7 63.6 -127.1 63.3 -128.2 63.2 -129.2 63.1 -130.2 63.3 -130.5 63.6 -130.7 64 -130.5 64.3 -129.9 64.6 -129.2 64.9 -128.2 64.8 -127.5 64.5 -126.5 64.4Z"/>
<path fill="#fddbc7" d="M-76 -45.3 -67 -45.3 -64 -55.1 -74.5 -56Z"/>
<path fill="#f4a582" d="M-109.1 22 -99.1 22 -94.1 17.3 -84 12.6 -85.3 9.5 -94.1 12.6 -101.6 15.7Z"/>
<path fill="#d6604d" d="M-96.5 18.9 -96.7 17.8 -98.4 17 -100.4 16.5 -102.7 16.5 -104.3 17.3 -105.5 18 -107 18.9 -105.8 19.8 -104.3 20.5 -102.8 21.4 -100.4 21.4 -98.1 20.9 -97.2 19.9Z"/>
<path fill="#fddbc7" d="M-81.5 4.8 -76.5 11.8 -64 12.6 -49 7.9 -34 -4.6 -35.2 -14 -42.7 -22.6 -49 -28.1 -59 -32.8 -65.3 -29.7 -67.8 -17.9 -71.5 -14.8 -76.5 -11.7 -80.3 -5.4Z"/>
<path fill="#f4a582" d="M-74 9.5 -59 11.4 -47.8 6.3 -49 0.9 -61.5 1.6 -71.5 4ZM-48.1 -7.8 -47.8 -8.5 -48.9 -8.9 -49.7 -9.4 -50.9 -9.4 -51.7 -8.9 -52.1 -8.3 -52.8 -7.8 -52.7 -7 -51.9 -6.5 -50.9 -6 -49.8 -6.4 -48.6 -6.4 -48.1 -7.1ZM-58.6 -16.4 -59.5 -17.9 -60.7 -19.1 -62.2 -20.3 -64.3 -20.3 -66.5 -19.9 -67.5 -18.1 -67.8 -16.4 -67.5 -14.6 -66.2 -13.2 -64.2 -12.7 -62.4 -12.9 -60.3 -13.1 -59.4 -14.7Z"/>
<path fill="#d6604d" d="M-60.7 8.7 -60.9 8 -62 7.3 -64 6.7 -66.6 6.8 -68.7 7.2 -70.8 7.8 -70.4 8.7 -70 9.5 -69 10.3 -66.6 10.6 -64.1 10.5 -61.4 10.4 -61.2 9.4Z"/>
<path fill="#ffffff" d="M-35.7 -12.5 -35.7 -15.9 -37 -18.7 -39.3 -18.6 -41.4 -20.1 -43.1 -18 -44.9 -16 -44.5 -12.5 -44.5 -9.2 -43.2 -6.7 -41.4 -4.4 -39.3 -6 -37.5 -7.2 -36.7 -9.8Z"/>
<path fill="#d6604d" d="M-72.8 -21.8 -66.5 -21.8 -66 -29.7 -71.5 -30.5Z"/>
<path fill="#f4a582" d="M-73.5 -29.7 -67.8 -29.7 -67.8 -48.5 -72.8 -49.3 -74 -40.6Z"/>
<path fill="#fddbc7" d="M-74 -48.5 -67.8 -48.5 -66.5 -53.2 -72.8 -54Z"/>
<path fill="#f4a582" d="M7 69.4 38.7 69.4 77.3 69.4 77.3 40.3 59.2 38.8 47.8 41.7 41 40.3 20.6 38.6 9.2 39.6 -4.4 41 -8.9 47.4 -6.6 54.5 9.2 56.6ZM-11.2 44.5 4.7 44.8 5.8 36 -11.2 35.3ZM47.4 38.6 44.2 37.8 43.6 36.8 38.4 36.9 34.4 36.8 29.1 36.8 27.3 37.7 25.3 38.6 27.8 39.4 30.7 40 34.3 40.4 39.1 40.8 42.1 39.9 47 39.5Z"/>
<path fill="#fddbc7" d="M69.5 58.7 67.9 56.8 64.3 55.7 61.3 54.2 56.8 54 53.3 55.3 51.8 57.1 49.7 58.7 49.6 60.9 53.3 62.2 57.4 62.4 61 62.4 65.1 62.2 66 60.3Z"/>
<path fill="#d6604d" d="M28.4 67 28.7 65.9 26.7 65.1 24.4 64.5 21.6 64.8 18.5 64.9 16.3 65.8 16.5 67 16.5 68.1 18.6 69 21.2 69.7 24.4 69.5 27.3 69.1 29.1 68.1ZM76 47.4 73.2 45.9 71.4 44.7 69.1 43 65.1 43 63 44.8 58.9 45.4 58.8 47.4 59 49.3 61.8 50.7 65.4 51.1 68.6 50.7 72.5 50.8 74.8 49.2ZM34.2 50.9 33.6 49.5 32.8 48.3 31.7 46.9 30 47.5 28.9 48.4 27.2 49.1 26.8 50.9 28.1 52.3 28.9 53.4 30 54.7 31.5 54.2 32.9 53.7 34.1 52.6ZM-0.2 39.6 -0.1 38.4 -1.8 37.8 -3.5 37.3 -5.4 37 -7.1 37.6 -9 38.3 -8.3 39.6 -9.1 40.8 -7 41.4 -5.3 41.9 -3.5 41.7 -1.7 41.4 0.4 40.9ZM-13.5 35.3 16 36 41 34.6 54.6 36 72.8 40.3 77.3 40.3 77.3 27.1 -13.5 27.1Z"/>
<path fill="#b2182b" d="M3.3 30.3 3.6 29.1 2 28 -0.8 27.7 -3.2 28.1 -5.6 28.4 -6.6 29.3 -7.3 30.3 -6.9 31.4 -5.2 32.1 -3.5 33 -0.8 32.8 1.2 32.2 2.6 31.3ZM50.5 30.3 49.9 29.3 49 28.2 46.6 28 44.3 27.5 42.3 28.3 39.9 29 40.3 30.3 39.8 31.7 41.4 32.9 44.1 33.5 46.7 32.8 49.6 32.9 50.6 31.5Z"/>
<path fill="#d6604d" d="M35.3 29.9 49.4 30.6 61.1 25.5 69.1 18.1 69.1 12.3 58.8 11.5 49.4 15.2 42.4 21.1Z"/>
<path fill="#f4a582" d="M-18.7 28.4 -14 35.8 7.2 37.2 56.4 37.2 69.1 31.3 69.1 18.1 49.4 21.1 30.6 23.3 9.5 24 7.2 13.7 9.5 4.9 -14 4.9 -18.7 13.7Z"/>
<path fill="#d6604d" d="M-16.3 31.3 -6.9 37.2 18.9 37.2 18.9 29.9 7.2 28.4 7.2 12.3 -6.9 11.5 -16.3 13.7ZM33.9 30.6 32.2 29.7 30.4 28.9 27.4 28.7 24.2 28.3 21.8 29 18.7 29.5 18.4 30.6 19.8 31.5 22.3 32 24.5 32.6 27.5 32.7 30.1 32.3 32.5 31.6ZM56.2 24.7 56.7 22.9 55.2 20.8 51.5 19.7 47.4 20.2 43.9 21.1 41.7 22.8 39.7 24.7 41.2 26.9 44.4 28.1 47.6 29 51.5 29.7 54.6 28.2 57.1 26.7ZM68.9 26.9 69.1 24.2 67.1 22.4 65 20.3 61.9 20.2 59.2 21.5 57.3 24 58.6 26.9 59 29.1 60 31.3 62 33.3 64.8 32.8 66.8 31.1 68 29.1Z"/>
<path fill="#b2182b" d="M-11.6 22.5 -4.6 24.7 -0.3 21.8 -1.8 16.7 -8.1 16.4 -11.1 18.9Z"/>
<path fill="#d1e5f0" d="M4.8 21.1 23.6 25.5 42.4 23.3 42.4 9.3 23.6 8.6 7.2 10.8ZM28.3 7.9 42.4 8.6 42.4 -5.4 30.6 -5.4Z"/>
<path fill="#92c5de" d="M27.2 15.2 26.4 14.2 24.8 13.4 22.8 12.4 19.9 12.9 17.6 13.4 15.1 14 15.5 15.2 14.6 16.5 16.9 17.4 19.6 18.1 22.8 18 25.7 17.4 26.7 16.2ZM38.1 2 37.7 0.5 37 -0.8 36 -2.1 34.7 -1.5 33.4 -1.2 32.7 0.3 32.9 2 33 3.4 33.5 4.9 34.6 5.9 35.9 5.2 36.9 4.6 37.7 3.5ZM20.7 23.3 20.5 22.7 20.2 21.9 19.3 21.8 18.5 22 17.8 22.2 17.2 22.6 17.2 23.3 17.3 23.9 17.9 24.2 18.5 24.8 19.4 24.9 20.2 24.6 20.6 23.9Z"/>
<path fill="#f4a582" d="M10.7 -11.2 28.3 -9.8 41.2 -14.2 42.4 -24.5 31.8 -32.5 21.2 -34.7 15.4 -31.8 11.9 -24.5Z"/>
<path fill="#d6604d" d="M16.5 -18.3 26.4 -17.7 27.8 -25.2 22.4 -28.6 17.7 -27.4ZM42.4 -13.4 49.9 -12.7 48.7 -25.2 42.4 -25.6Z"/>
<path fill="#fddbc7" d="M53 79.6 135.7 79.6 168.7 74.4 183.9 69.3 182.5 62.4 168.7 55.5 157.7 52.9 143.9 53.8 132.9 45.1 124.6 40 121.9 22.7 80.6 22.7 69.5 31.3 53 31.3Z"/>
<path fill="#f4a582" d="M53 79.6 94.3 79.6 97.1 71 94.3 55.5 80.6 46.9 69.5 41.7 53 41.7ZM144.8 67.5 144.4 65.9 141.3 64.5 136.4 64.3 131.8 63.8 127.4 64.6 125.4 66.1 123.5 67.5 123.1 69.4 127.1 70.7 132 71 136.5 70.9 141.5 70.7 144.4 69.2ZM163.5 57.2 163.4 55.6 162.4 54.3 161.2 53.3 159.6 53 158.5 54.4 157.4 55.5 157.1 57.2 157.3 58.9 158.6 59.9 159.8 60.6 161.3 61.5 162.3 59.8 163.6 59Z"/>
<path fill="#ffffff" d="M109.5 68.4 109.4 66.8 107.7 65.5 105.2 65.1 102.8 65.1 99.6 65 99.4 67 98.7 68.4 98 70.2 100.4 71.2 102.8 71.7 105.5 72.5 108.4 71.9 108.9 69.9ZM124.7 52 123.1 50.7 122 49.2 118.1 48.9 114.4 48.6 111.3 49.5 110.3 50.9 108.8 52 108.9 53.5 112.2 54.2 114.9 54.6 118.4 55.6 121.9 54.8 123.7 53.4ZM117.9 46 119.9 44.2 116.1 42.5 108 41.9 100 42 93.9 43.1 88.4 44.3 84.9 46 89.1 47.6 95.2 48.5 100.8 49.2 108.2 50.3 115.1 49.2 121.2 47.9ZM100.3 34.8 99.7 33.6 98.9 32.2 95.8 31.8 92.8 31.8 90.4 32.6 87.5 33.3 86.7 34.8 87.6 36.2 90.1 37.2 92.8 37.8 95.8 37.7 98.6 37.2 100.1 36ZM117.7 41.7 118 40.6 116 39.9 113.3 39.9 110.9 39.5 108.4 39.9 107.5 40.8 106 41.7 106.5 42.7 109.3 43.1 111 43.8 113.4 43.6 115.6 43.3 117.3 42.6Z"/>
<path fill="#d6604d" d="M79.2 49.4 77.2 47.2 74.6 45.1 69 45.2 64.1 44.2 60.2 45.8 58 47.6 54.6 49.4 56.6 51.6 60.6 52.8 64 54.8 69.2 54.1 74.1 53.5 78.4 51.9ZM183.4 65.5 183.2 63.8 180.8 62.5 177.3 62.1 173.7 61.7 169.6 62 167.6 63.7 168 65.5 167.7 67.2 170.2 68.6 173.9 69 177.6 69.4 180.5 68.3 183.8 67.3ZM58.9 72.7 59.1 71.9 57.7 71.5 56.4 71.2 55.1 71.1 54 71.6 52.4 71.9 51.9 72.7 52.9 73.4 53.9 73.9 54.9 74.6 56.6 74.6 57.6 73.9 58.5 73.4ZM97.1 69.3 96.8 68.9 96.5 68.7 96 68.5 95.4 68.5 95 68.7 94.4 68.9 94.4 69.3 94.3 69.7 94.7 70.1 95.4 70.2 96 70 96.6 70 96.9 69.6Z"/>
<path fill="#f4a582" d="M53 45.1 69.5 43.4 77.8 33.1 69.5 29.6 53 31.3Z"/>
<path fill="#d6604d" d="M61.3 38.2 69.5 39.1 76.4 31.3 69.5 28.8 62.6 31.3Z"/>
<path fill="#b2182b" d="M181.7 65.5 180.6 64.3 179.7 63.2 178 62.5 176 62.6 174.2 63.1 173.5 64.3 173.4 65.5 173.4 66.6 174 68 176.2 67.7 177.8 68 179.4 67.5 180.6 66.6ZM71.9 33.4 70.8 32.4 69.9 31.6 68.8 31.2 67.5 30.9 65.9 31.1 65.2 32.2 64.7 33.4 65.2 34.6 66.2 35.5 67.4 36 68.8 35.7 70.5 35.9 71.4 34.7Z"/>
<path fill="#92c5de" d="M73.4 25.3 73.2 23.8 72.7 22 70.9 21.6 69.1 21.3 67.5 22.1 67 23.9 65.8 25.3 67 26.8 68 27.9 69.1 29.3 71 29.4 72.3 28.1 73.4 26.9Z"/>
<path fill="#fddbc7" d="M112.8 -23.1 117 -18.5 127.6 -13.2 136 -11.2 142.3 -14.5 148.6 -19.1 153.9 -23.7 153.9 -31.6 149.7 -36.9 143.4 -38.5 137 -34.9 131.8 -32.3 123.3 -33 117 -34.5 113.9 -30.3Z"/>
<path fill="#f4a582" d="M112.8 -22.4 117 -17.8 127.6 -14.5 130.7 -16.5 125.4 -22.4 123.3 -33 117 -34.5 113.9 -30.3ZM153.3 -22.4 152 -24.3 150.8 -25.9 148.9 -27.7 146.6 -26.3 143.8 -26.6 142.2 -24.7 141.4 -22.4 143.3 -20.6 144.6 -19.2 146.4 -18 148.6 -18.4 151.4 -18.3 152.4 -20.4Z"/>
<path fill="#d6604d" d="M114.9 -21.1 121.2 -19.1 123.3 -23.7 121.2 -32.3 117 -33.6 114.5 -29Z"/>
<path fill="#ffffff" d="M141.4 -25.1 139.2 -27.6 136.6 -29.7 133.2 -31.8 128.9 -30.1 125.4 -29.2 121.1 -28 120.9 -25.1 121.3 -22.2 123.7 -19.6 128.4 -18.7 132.9 -19 137.2 -20 139.4 -22.4Z"/>
<path fill="#fddbc7" d="M148 -41.1 147.9 -41.6 147.7 -42.1 146.9 -42.2 146.2 -42 145.4 -42 144.7 -41.7 144.8 -41.1 145 -40.7 145.5 -40.3 146.1 -40.1 146.9 -40.1 147.6 -40.3 148.3 -40.6ZM168.6 -44.8 173.9 -38.2 178.1 -36.9 179.2 -39.6 173.9 -44.8 169.7 -46.8Z"/>
<rect x="-200" y="-70" width="420" height="160" fill="url(#grain)"/>
</g>
</g>
<use href="#spkr"/>
</g>
<use href="#rg"/><use href="#wt"/><use href="#bd"/><use href="#cs"/>
</g>
<g transform="translate(126.80 437.60) scale(0.6170 -0.9860)">
<g clip-path="url(#lc)">
<g clip-path="url(#l180)">
<g filter="url(#soft)">
<path fill="#d6604d" d="M-169.2 67.1 -169.9 66.4 -171.4 65.9 -173.4 65.6 -175.4 65.9 -177.4 66 -178.4 66.6 -178.7 67.1 -179.4 67.9 -177.2 68.2 -175.7 68.7 -173.4 68.7 -171.7 68.2 -171 67.7Z"/>
<path fill="#fddbc7" d="M-164.7 67.1 -150.4 70.4 -137.4 70.1 -124.5 67.1 -121.4 59 -124.5 52.5 -131 53.3 -137.4 56.6 -147.8 58.2 -158.2 59.8 -163.4 62.3ZM-124.5 66.3 -103.7 67.1 -80.4 65.5 -62.2 63.9 -59.6 47.7 -75.2 47.3 -85.6 50.9 -101.1 49.3 -114.1 49.3 -121.9 52.5ZM-123.2 49.3 -103.7 49.6 -80.4 48 -79.1 37.9 -88.2 35.5 -95.9 31.4 -103.7 33.1 -114.1 33.9 -119.3 36.3 -123.2 42.8Z"/>
<path fill="#ffffff" d="M-81.1 58.2 -80.7 55.6 -82.5 53.4 -85.5 53 -88.4 52.5 -90.4 54.3 -93 55.6 -94 58.2 -93.3 60.9 -91 62.8 -88.4 63.9 -85.7 62.8 -83.2 62.3 -81.2 60.6ZM-104.5 61.5 -105 60.7 -105.1 59.7 -107.7 59.4 -110.1 59.5 -112.4 59.8 -114.2 60.5 -114.4 61.5 -113.5 62.3 -112 62.9 -110.3 63.7 -107.6 63.7 -106.1 62.8 -103.7 62.4ZM-111.3 42 -112.1 41 -112.8 40 -114.6 39.8 -116.3 39.4 -117.9 40 -119 40.9 -118.7 42 -119.4 43.2 -118.2 44.2 -116.3 44.6 -114.6 44.2 -112.8 44 -112.4 42.9Z"/>
<path fill="#f4a582" d="M-106.3 37.9 -94.7 37.1 -90.8 31.4 -93.4 24.9 -92.8 18.5 -98.5 17.6 -106.3 24.9 -110.2 29.8ZM-86.3 18.5 -86.8 17.3 -87.5 16.2 -88.8 15.8 -90.1 16.1 -91.4 16.2 -92 17.3 -92.2 18.5 -92.1 19.6 -91.1 20.4 -90 20.8 -88.7 21.8 -87.8 20.4 -86.3 19.9Z"/>
<path fill="#b2182b" d="M-141.3 66.8 -133.5 67.1 -125.8 65.2 -125 61.9 -131.7 61.3 -138 62.6 -141.3 64.2Z"/>
<path fill="#d6604d" d="M-143.3 64.2 -144.2 63.7 -145 63.2 -146.8 63 -148.7 63.2 -150.8 63.2 -151.3 63.8 -152.1 64.2 -152.3 64.8 -151.1 65.4 -148.7 65.3 -146.8 65.4 -144.4 65.4 -143.9 64.7Z"/>
<path fill="#4393c3" d="M-151.2 68.8 -151.3 68.4 -151.7 68 -153.5 68 -155.2 67.9 -156.9 68 -157.7 68.4 -157.5 68.8 -157.5 69.1 -156.4 69.4 -155.1 69.5 -153.5 69.6 -151.6 69.5 -150.8 69.1ZM-126 64.2 -126 63.7 -126.9 63.5 -127.9 63.4 -128.9 63.2 -129.7 63.5 -130.2 63.8 -130.6 64.2 -130.5 64.6 -129.6 64.9 -128.9 65.1 -127.8 65.3 -126.9 65 -126.4 64.6Z"/>
<path fill="#fddbc7" d="M-75.2 -45.4 -66.2 -45.4 -63.2 -55.2 -73.7 -56.1Z"/>
<path fill="#f4a582" d="M-108.3 21.9 -98.3 21.9 -93.2 17.2 -83.2 12.5 -84.5 9.4 -93.2 12.5 -100.8 15.6Z"/>
<path fill="#fddbc7" d="M-80.7 4.7 -75.7 11.7 -63.2 12.5 -48.2 7.8 -34.4 -4.7 -35.7 -14.1 -43.2 -22.7 -53.2 -25.9 -60.7 -25.9 -64.5 -22.7 -67 -18 -70.7 -14.9 -75.7 -11.8 -79.5 -5.5Z"/>
<path fill="#ffffff" d="M-35.3 -6.3 -35.3 -7.6 -37.1 -8.5 -39.1 -8.9 -41.3 -9.1 -43.1 -8.3 -45 -7.6 -45.1 -6.3 -45 -5 -43.1 -4.2 -41.4 -3.4 -39.2 -3.8 -37.1 -4.1 -35.7 -5.1ZM-69.1 -9.4 -69.2 -11.1 -69.8 -12.8 -71.1 -14.1 -72.8 -14.2 -74.4 -13.3 -75.5 -11.5 -76.1 -9.4 -74.8 -7.7 -73.9 -6.4 -72.6 -5.7 -71.1 -4.7 -70 -6.4 -69 -7.6Z"/>
<path fill="#f4a582" d="M-59.9 8.1 -59.3 7.2 -61.1 6.8 -62.5 6.5 -64.1 6.2 -65.7 6.5 -66 7.4 -67.1 8.1 -66.6 8.9 -65.6 9.6 -64.1 10 -62.3 10.2 -60.6 9.8 -59.4 9ZM-48.8 1.2 -49.3 0.4 -49.7 -0.6 -50.7 -0.7 -51.8 -1.2 -52.7 -0.6 -53.7 0.1 -54 1.2 -53.6 2.3 -52.9 3.2 -51.7 3.4 -50.6 3.7 -49.6 3.2 -49.2 2.1ZM-37.9 -14.1 -38.4 -15.5 -38.9 -16.6 -39.8 -16.8 -40.7 -17.5 -41.4 -16.5 -42.1 -15.6 -42.4 -14.1 -42 -12.8 -41.5 -11.6 -40.6 -11.1 -39.8 -11.4 -38.8 -11.4 -38.1 -12.6ZM-73.2 -23.5 -67.7 -23.5 -67 -32.9 -68.7 -47 -73.2 -47.8 -74.2 -37.6Z"/>
<path fill="#d6604d" d="M-70 -36 -70.1 -37.6 -70.3 -39.4 -70.9 -39.7 -71.5 -40.2 -72.1 -39.3 -72.4 -37.8 -72.9 -36 -72.6 -34.1 -72.3 -32.1 -71.5 -32.2 -70.9 -32 -70.2 -32.5 -69.7 -34Z"/>
<path fill="#92c5de" d="M20.9 67.8 20.5 67.4 20 67 19.2 66.7 18.1 66.6 17.2 66.9 16.4 67.3 16.1 67.8 16.7 68.3 17.3 68.7 18.1 69.1 19.2 69 20 68.7 20.5 68.3Z"/>
<path fill="#fddbc7" d="M8.9 68.6 19.1 70 30.5 69.3 39.5 67.1 40.7 63.6 32.7 62.9 25.9 54.4 16.9 53.7 10 57.2ZM-5.8 55.1 10 56.5 28.2 55.1 41.8 50.1 42.9 41.6 32.7 38.7 21.4 38.7 10 40.2 -1.3 41.6 -5.8 47.3Z"/>
<path fill="#f4a582" d="M38 45.1 35.8 43.4 33.4 42.1 30 41.4 26 40.7 22.2 41.6 18.7 43 18.8 45.1 20.1 47 21.8 48.9 26.4 48.7 30.3 49.4 34.9 49 35.9 46.9ZM-9.9 44.4 3.2 44.7 4.4 35.9 -9.2 35.2ZM47.3 38.7 46.3 37.9 43.7 37.4 40.9 36.5 36.2 36.7 31.3 36.9 28.1 37.7 29.9 38.7 29.9 39.6 32.6 40.3 36.3 40.6 40.3 40.5 44.2 40.3 47.1 39.6ZM48.6 41.6 71.3 40.9 74.7 31.6 60 29.5 48.6 33.1Z"/>
<path fill="#d6604d" d="M-12.6 35.2 1 36.6 14.6 35.2 15.7 27 -12.6 27ZM49.6 31.6 49.2 29.9 47.9 28 44.3 28.3 41.6 28.3 38.1 28.1 37.3 30 36 31.6 37.2 33.2 38.1 35.2 41.2 36.1 44.5 35.6 46.6 34.3 48.8 33.3ZM71.3 37.3 75.9 37.6 78.1 34.5 78.1 30.9 74.7 31.6Z"/>
<path fill="#b2182b" d="M25.8 29.1 25.2 28.1 23.7 27.6 22.3 27.1 20.6 27.3 18.9 27.5 17.3 28.1 17.5 29.1 17.8 30 19.2 30.6 20.4 31.3 22.3 31.1 23.8 30.7 25.4 30.1ZM-0.4 30.2 -1 29.6 -1.3 28.8 -2.7 28.4 -4.2 28.8 -5.6 29 -7.1 29.4 -7 30.2 -6.5 30.9 -5.4 31.4 -4.3 31.8 -2.8 31.9 -1.1 31.8 -0.3 31Z"/>
<path fill="#92c5de" d="M76.4 28.1 75.4 27.4 74.2 27 73.2 26.5 71.7 26.5 70.7 27 69.8 27.5 68.5 28.1 68.9 28.9 70.6 29.2 71.8 29.5 73.3 30 74.3 29.3 75.3 28.8Z"/>
<path fill="#fddbc7" d="M36.1 29.8 50.2 30.5 61.9 25.4 69.9 18 69.9 12.2 59.6 11.4 50.2 15.1 43.2 21Z"/>
<path fill="#fddbc7" d="M-17.8 28.3 -13.1 35.7 8 37.1 43.2 37.1 50.2 31.2 51.4 23.9 31.4 23.2 8 23.9 -13.1 23.2ZM-15.5 12.2 3.3 12.2 4.5 4.8 -13.1 5.5Z"/>
<path fill="#d6604d" d="M-10.8 35.7 8 37.1 8 31.2 -3.8 30.5 -10.8 31.2Z"/>
<path fill="#f4a582" d="M8 34.2 50.2 34.9 51.4 26.1 33.8 25.4 8 26.8Z"/>
<path fill="#d6604d" d="M25.2 30.5 24.9 29.7 23.9 29.1 22.8 28.4 21.2 28.2 20.2 29.1 18.9 29.6 19 30.5 18.6 31.6 19.5 32.5 21.2 32.9 22.8 32.7 24 32 25.5 31.5Z"/>
<path fill="#d1e5f0" d="M-3.8 18 19.7 23.2 43.2 23.9 53.7 21 53.7 10.7 43.2 9.2 26.7 10 8 10ZM33.8 13.6 53.7 15.1 52.6 1.9 43.2 -1.8 35 0.4Z"/>
<path fill="#92c5de" d="M0.9 15.8 19.7 22.4 38.5 23.2 47.9 20.2 44.3 12.9 26.7 11.4 10.3 12.2ZM49.9 7.8 50.6 5.7 48.5 4.6 46.8 2.8 44.5 3.8 42 4 40.9 5.8 40.8 7.8 40.9 9.7 42.4 11.1 44.5 11.5 46.7 12.1 48.8 11.2 50.5 9.8Z"/>
<path fill="#4393c3" d="M16.2 17.3 20.9 21 32.6 22.4 36.6 20.7 34.3 16.6 25.6 15.4 18.5 15.7Z"/>
<path fill="#fddbc7" d="M16.5 1.1 16.5 0.1 15.4 -0.4 14.5 -1 13.3 -0.8 11.9 -0.8 11.6 0.3 11.2 1.1 11.7 2 12.2 2.7 13.2 3.3 14.4 3.1 15.4 2.6 16.7 2.2ZM11.5 -11.3 29.1 -9.9 40.8 -14.3 42 -24.6 31.4 -31.9 22.1 -34.1 16.2 -31.9 12.7 -24.6ZM43.2 -13.5 50.7 -12.8 49.5 -24.6 43.2 -24.8Z"/>
<path fill="#f4a582" d="M15 -15.7 33.8 -15 36.1 -24.6 29.1 -30.4 19.7 -31.2 16.2 -24.6Z"/>
<path fill="#d6604d" d="M23.1 -24.3 22.9 -25.1 22.6 -25.8 22 -26.5 21.2 -26.4 20.4 -26.1 20.1 -25.2 20 -24.3 20.1 -23.4 20.7 -22.9 21.2 -22.1 22 -22 22.8 -22.4 23.2 -23.3Z"/>
<path fill="#fddbc7" d="M155.8 67.4 175 69.5 184.7 68.3 183.3 62.3 169.5 55.4 158.5 52.8 154.4 58.8ZM53.8 51.9 84.1 51.1 85.5 38.1 78.6 31.2 62.1 31.2 53.8 34.7ZM118.1 30.4 117.2 27.9 110.2 26.6 104.4 25.2 97.4 25.9 88.7 25.7 85.7 28.1 86 30.4 83.2 33 89.9 34.6 97.4 34.9 104.8 36 111.4 34.6 116.2 32.7ZM122.2 29.5 120.2 28 118.4 26.8 116 25.7 113.1 26.2 109.8 26.3 108.3 27.9 108.3 29.5 109.1 30.9 110.7 32.1 112.8 33.3 116.2 33.8 119.2 32.8 121.4 31.4Z"/>
<path fill="#d6604d" d="M97.7 69.7 97.6 69.3 96.9 69.1 96.3 68.9 95.5 68.7 95 69.1 94.4 69.3 94.3 69.7 94.7 70 94.9 70.4 95.6 70.6 96.4 70.6 97 70.3 97.7 70.1Z"/>
<path fill="#f4a582" d="M166.8 67.8 179.2 68.8 181.9 65.7 175 60.5 168.2 61.4ZM67.8 44.2 69.2 42 66.6 40.6 63.8 39.5 60.6 40 57.6 40.7 55.1 42.1 55.9 44.2 56.6 45.8 57.4 47.8 60.3 48.9 63.5 48 66.4 47.6 68.3 46Z"/>
<path fill="#d6604d" d="M69 40.2 74.5 40.7 80 34.7 78.1 31.9 70.9 33.7Z"/>
<path fill="#b2182b" d="M72.5 39 74.2 39.3 77.5 35 76.4 33.7Z"/>
<path fill="#92c5de" d="M66.2 31.2 78.6 32.1 80 20.9 70.3 18.8 66.2 24.3Z"/>
<path fill="#fddbc7" d="M113.6 -22.5 121 -18.6 126.3 -19.9 124.1 -27.8 138.9 -29.1 141 -31.7 149.4 -34.4 149.4 -37.7 144.2 -38.6 137.8 -35 132.6 -32.4 124.1 -33.1 117.8 -34.6 114.7 -30.4Z"/>
<path fill="#f4a582" d="M114.7 -27.8 119.9 -27.8 120.4 -33.7 116.8 -34.6Z"/>
<path fill="#fddbc7" d="M148.7 -41.2 148.8 -41.9 147.9 -42.2 147.2 -42.7 146.2 -42.5 145.5 -42.1 144.5 -41.9 144.9 -41.2 145.1 -40.7 145.6 -40.4 146.3 -40 147.1 -40.2 147.8 -40.3 148.9 -40.6ZM169.4 -44.9 174.7 -38.3 178.9 -37 180 -39.7 174.7 -44.9 170.5 -46.9ZM106.1 -4.1 106.2 -5 105.3 -5.4 104.5 -5.6 103.7 -5.6 103 -5.4 101.9 -5.1 102.1 -4.1 102.4 -3.3 103 -2.8 103.6 -2 104.6 -2.3 105.3 -2.7 106 -3.2ZM142.3 -3.4 141.6 -3.9 140.9 -4.5 139.5 -4.5 138.2 -4.7 137.3 -4.3 135.6 -4.1 135.3 -3.4 136 -2.8 136.9 -2.4 138.2 -2.2 139.7 -2 140.9 -2.3 142 -2.8Z"/>
<path fill="#fddbc7" d="M38.9 71.8 70 75.5 112.8 77.3 114.7 70.6 89.5 63.9 70 64.5 50.6 65.7 38.9 66.9ZM21.4 70.6 33.1 66.9 50.6 60.9 53.5 54.8 48.6 50.5 60.3 49.9 75.9 47.5 77.8 37.1 21.4 37.1Z"/>
<path fill="#f4a582" d="M36.8 51.1 35.9 49.8 34.4 48.5 30.7 48.5 27.5 48.3 24.8 49 22.9 49.9 20.4 51.1 22.6 52.3 23.9 53.7 27.7 53.6 31.2 54.5 34 53.5 36.8 52.6Z"/>
<path fill="#d6604d" d="M97.6 70 97.7 69.6 97.4 69.2 96.6 69.2 96 69.3 95.3 69.3 94.7 69.6 94.6 70 95.1 70.3 95.4 70.6 95.9 70.9 96.6 70.7 97.1 70.5 97.9 70.4Z"/>
<rect x="-200" y="-70" width="420" height="160" fill="url(#grain)"/>
</g>
</g>
<use href="#spk"/>
</g>
<use href="#rg"/><use href="#wt"/><use href="#bd"/><use href="#cs"/>
</g>
<g transform="translate(377.30 437.60) scale(0.6170 -0.9860)">
<g clip-path="url(#lc)">
<g clip-path="url(#l180)">
<g filter="url(#soft)">
<path fill="#fddbc7" d="M-165.5 67.1 -151.2 70.4 -138.2 70.1 -125.3 67.1 -122.2 59 -125.3 52.5 -131.8 53.3 -138.2 56.6 -148.6 58.2 -159 59.8 -164.2 62.3Z"/>
<path fill="#f4a582" d="M-142.5 60.6 -144.3 59.6 -146 58.6 -149.3 58.1 -153.2 58 -155.5 59 -158.8 59.5 -160.2 60.6 -159 61.8 -156.1 62.6 -152.9 62.9 -149.2 63.4 -145.5 62.9 -143.4 61.8Z"/>
<path fill="#fddbc7" d="M-125.3 66.3 -104.5 67.1 -81.2 65.5 -60.5 63.9 -60.5 46 -76 46 -86.4 49.3 -101.9 47.7 -114.9 48 -122.7 51.7Z"/>
<path fill="#f4a582" d="M-94.1 53.3 -93.8 50.9 -98 49 -104.2 48.6 -109.6 49.2 -115.5 49.4 -117.3 51.5 -119.3 53.3 -119.1 55.5 -115.2 57.2 -110.2 58.3 -103.9 58.6 -97.7 57.8 -96.2 55.3ZM-58.8 55 -62.1 52.3 -64.7 50.2 -68.3 48.1 -73.5 47.6 -77.3 49.9 -81.2 51.9 -82.4 55 -79.5 57.6 -77.6 60.3 -73.5 62.3 -68.9 60.2 -65.2 59.4 -60.2 58.2Z"/>
<path fill="#ffffff" d="M-81 58.2 -82 55.8 -83.2 53.3 -86.3 52.8 -88.9 53.4 -91.5 54 -94.1 55.5 -94.5 58.2 -93.5 60.7 -91 61.9 -89.4 64.7 -86.5 62.9 -84 62.3 -81.2 60.9Z"/>
<path fill="#fddbc7" d="M-124 49.3 -104.5 49.6 -81.2 48 -76 41.2 -78.6 35.5 -89 33.9 -96.8 29.8 -104.5 31.4 -114.9 33.1 -120.1 36.3 -124 42.8Z"/>
<path fill="#ffffff" d="M-104.6 42.8 -106.1 40.5 -109 39.2 -111.7 37.6 -115.5 37.8 -118.6 38.9 -121.3 40.5 -121.5 42.8 -120.7 44.9 -118 46.3 -115.5 48 -112.1 46.9 -109.5 46.1 -106.3 45Z"/>
<path fill="#f4a582" d="M-80.7 42.8 -78.3 40.4 -84.4 39.4 -88.7 38.1 -94.2 38.5 -99.6 39 -103.7 40.6 -103.1 42.8 -103.4 44.9 -101 47.3 -94.1 46.9 -89 47.1 -84.4 46.2 -81.5 44.6ZM-114.9 37.9 -91.6 37.1 -86.4 31.4 -91.6 26.6 -104.5 28.2 -112.3 31.4Z"/>
<path fill="#d6604d" d="M-112.3 33.1 -100.6 33.1 -94.2 24.9 -95.5 16.8 -101.9 16 -108.4 23.3ZM-143 63.9 -141.9 63.2 -143.6 62.7 -146.4 62.8 -148.6 62.5 -150.7 62.9 -151.5 63.4 -153.2 63.9 -151.4 64.4 -150.7 65 -148.6 65.2 -146.1 65.3 -144.4 64.8 -143.2 64.4Z"/>
<path fill="#b2182b" d="M-100 24.1 -100.6 22.5 -101.2 20.8 -102.5 19.8 -103.8 20.8 -105.3 20.7 -106.5 22.1 -106.2 24.1 -106.1 25.9 -105.1 27.1 -104 28.6 -102.6 27.7 -101.6 26.9 -100.4 25.9ZM-87.8 17.6 -88 16.2 -89.4 15.4 -90.6 14 -92.4 14.4 -93.9 15.2 -95.4 16.1 -94.8 17.6 -95.6 19.3 -94.3 20.5 -92.4 20.5 -90.7 20.8 -89.5 19.8 -87.7 19.2ZM-168.5 66.8 -169.7 66.1 -170.8 65.3 -173.4 65.2 -175.9 65 -178.2 65.4 -179.9 66 -179.7 66.8 -179.2 67.5 -177.2 67.9 -175.9 68.7 -173.6 68.2 -171.2 68.1 -169.7 67.5ZM-161.6 69.6 -148.6 70.7 -138.2 69.6 -139.5 67.1 -151.2 67.1 -160.3 67.1ZM-140.8 66.8 -131.8 67.1 -124.8 63.9 -125.8 61 -133.1 61.9 -139.5 63.9Z"/>
<path fill="#fddbc7" d="M-76 -45.4 -67 -45.4 -64 -55.2 -74.5 -56.1Z"/>
<path fill="#d6604d" d="M-109.1 21.9 -99.1 21.9 -94.1 17.2 -84 12.5 -85.3 9.4 -94.1 12.5 -101.6 15.6Z"/>
<path fill="#b2182b" d="M-97.1 19.6 -97.3 18.6 -98.7 17.9 -100.6 17.7 -102.6 17.3 -104.6 17.8 -106.4 18.5 -106.9 19.6 -106.8 20.7 -105.1 21.6 -102.6 21.6 -100.4 21.9 -98.2 21.5 -96.6 20.7Z"/>
<path fill="#fddbc7" d="M-81.5 4.7 -76.5 11.7 -64 12.5 -49 7.8 -35.2 -4.7 -36.5 -14.1 -44 -22.7 -49 -28.2 -59 -32.9 -65.3 -29.8 -67.8 -18 -71.5 -14.9 -76.5 -11.8 -80.3 -5.5Z"/>
<path fill="#f4a582" d="M-69 3.1 -49 4.7 -36.5 -4.7 -37.7 -15.7 -45.2 -23.5 -55.3 -25.1 -64 -22 -67.8 -14.1Z"/>
<path fill="#d6604d" d="M-74 9.4 -59 11.7 -47.8 6.2 -49 0.8 -61.5 1.5 -71.5 3.9ZM-38.1 -14.1 -38.1 -16 -38.6 -17.9 -39.7 -18.4 -40.9 -19.4 -41.8 -17.7 -42.7 -16.3 -42.4 -14.1 -42.8 -11.8 -42.1 -9.8 -40.9 -8.8 -39.7 -9.8 -38.5 -10 -37.6 -11.7Z"/>
<path fill="#b2182b" d="M-60.2 8.3 -60.6 7.7 -61 7 -62.8 6.5 -64.9 7 -67.2 6.9 -68.3 7.6 -68.5 8.3 -67.6 8.9 -66.8 9.5 -65 9.8 -63.1 9.6 -60.8 9.7 -59.6 9Z"/>
<path fill="#ffffff" d="M-36.6 -5 -36.3 -6.1 -37.8 -6.9 -39.7 -7.7 -42.3 -7.7 -44.6 -7.1 -44.8 -5.9 -45.9 -5 -44.9 -4.1 -44.4 -3 -41.9 -3.1 -39.7 -2.5 -37.7 -3.1 -36.3 -4Z"/>
<path fill="#d6604d" d="M-74 -23.5 -67.8 -23.5 -67 -32.9 -69 -47 -74 -47.8 -74.5 -37.6Z"/>
<path fill="#b2182b" d="M-69.8 -40.7 -70 -43.1 -70.5 -44.7 -71.2 -45.5 -71.9 -45.4 -72.5 -44.4 -72.7 -42.4 -72.9 -40.7 -73 -38.6 -72.4 -37.2 -71.9 -36.2 -71.2 -35.6 -70.6 -37.2 -70.1 -38.5Z"/>
<path fill="#fddbc7" d="M8.1 69.3 38.7 69.3 77.3 69.3 77.3 40.2 59.2 38.7 47.8 41.6 41 40.2 20.6 38.5 9.2 39.5 -4.4 40.9 -8.9 47.3 -6.6 54.4 9.2 56.5Z"/>
<path fill="#ffffff" d="M74.5 61.5 72.9 59.7 65.8 59 60.6 57.9 53.4 58 46.7 58.6 44.7 60.1 42.8 61.5 43.9 62.9 46 64.5 53 65.3 60.3 64.8 67.2 64.3 70.9 63ZM19.5 61.5 18.9 60 18 58.8 16.9 57.4 15.2 57.5 14.2 59.1 13.4 60.1 12.2 61.5 13 63 13.8 64.4 15.3 65 16.8 65.1 18.5 64.6 18.7 62.8Z"/>
<path fill="#f4a582" d="M27.4 58.6 54.6 56.5 77.3 57.2 77.3 40.2 59.2 38.7 47.8 41.6 41 40.2 20.6 38.5 9.2 39.5 -4.4 40.9 -7.8 47.3 -5.5 53.7 9.2 55.1 22.9 55.8Z"/>
<path fill="#d6604d" d="M37.6 45.8 34.9 44.2 32.2 43 29.3 42 25.4 41.7 21.1 42.1 19 43.9 16.8 45.8 20.1 47.5 22 49 25.3 50.1 29.5 50.1 33.4 49.4 35.6 47.7ZM-10.7 44.4 2.4 44.7 3.6 35.9 -10 35.2ZM46.3 38.7 47.7 37.8 44.6 37 39.5 37.1 35.1 36.6 32.4 37.5 27.8 37.8 26.9 38.7 29.1 39.5 32.2 40.1 35.5 40.5 40 40.8 44 40.3 47.8 39.7ZM50.1 41.6 70.5 40.9 73.9 31.6 59.2 29.5 50.1 33.1ZM14.9 34.5 31.9 33.8 38.7 31.6 41 27 14.9 27ZM70.5 35.9 75 36.6 77.3 33.8 77.3 30.2 73.9 30.9Z"/>
<path fill="#b2182b" d="M-11.2 35.2 2.4 37.3 13.8 35.9 14.9 27 -11.2 27ZM43.5 35.2 43.7 34.2 42.2 33.6 40.6 33.5 39.1 33.4 37.7 33.8 36.6 34.4 36.5 35.2 35.6 36.3 37.5 36.8 38.9 37.5 40.8 37.2 42.4 36.9 43.2 36ZM27.6 29.1 26.2 28.3 25.8 27.1 23.9 26.8 21.8 26.7 20.7 27.7 18.5 28 18.5 29.1 19.1 30 20.2 30.8 22 31.1 23.9 31.5 25.8 31 27.1 30.2Z"/>
<path fill="#92c5de" d="M75.7 28.1 75.9 27.3 75 26.7 73.4 26.6 71.9 26.2 70.5 26.6 70.1 27.5 69.6 28.1 69.5 28.9 70.4 29.6 71.9 30.1 73.5 29.6 75.2 29.6 75.9 28.9Z"/>
<path fill="#f4a582" d="M35.3 29.8 49.4 30.5 61.1 25.4 69.1 18 69.1 12.2 58.8 11.4 49.4 15.1 42.4 21Z"/>
<path fill="#d6604d" d="M55.5 23.2 54.8 21.6 53.3 20.4 51.5 19.8 49.5 19.3 47.8 20.4 46.4 21.6 45.7 23.2 46.5 24.7 47.7 26 49.5 26.8 51.9 27.9 53.7 26.3 55.4 25Z"/>
<path fill="#f4a582" d="M-18.7 28.3 -14 35.7 7.2 37.1 56.4 37.1 69.1 31.2 69.1 21 49.4 21 30.6 23.2 9.5 22.4 7.2 4.8 -14 4.8 -18.7 13.6Z"/>
<path fill="#b2182b" d="M-11.6 35.7 9.5 37.1 10.7 30.5 -2.2 29 -10.4 30.5Z"/>
<path fill="#d6604d" d="M9.5 34.2 37.7 34.9 40 25.4 18.9 24.6 9.5 26.8ZM37.7 32.7 56.4 32.7 57.6 21 42.4 21Z"/>
<path fill="#b2182b" d="M26 30.5 26.1 29.4 24.9 28.6 23.3 28 21.5 28.1 20 28.6 18.8 29.4 19.1 30.5 19.1 31.5 20.4 32.1 21.5 33 23.1 32.5 25 32.5 25.3 31.4Z"/>
<path fill="#fddbc7" d="M18.6 7 18.8 5.3 16.8 4.1 14.2 3.8 11.9 3.9 8.9 3.8 8.3 5.6 7.1 7 7.1 8.8 9.4 9.9 11.7 10.6 14.2 10.2 17.3 10.3 18.5 8.7ZM24.1 -1.8 22.5 -3.9 20.9 -6.1 17.1 -6.6 13.8 -6.2 10.5 -5.6 7.3 -4.2 6.1 -1.8 7.9 0.4 10 2.5 13.3 4 17.3 3.5 21.4 2.9 22.1 0.2Z"/>
<path fill="#d1e5f0" d="M2.5 18 18.9 23.2 42.4 23.9 52.9 21 51.7 7.8 42.4 6.3 25.9 7.8 7.2 8.5Z"/>
<path fill="#92c5de" d="M7.2 15.8 18.9 22.4 37.7 23.2 47.1 20.2 43.5 12.2 25.9 10.7 9.5 11.4ZM33 15.1 49.4 16.6 49.4 3.3 40 -1.8 33.4 0.4Z"/>
<path fill="#4393c3" d="M11.9 16.6 18.9 21.7 33 23.2 38.8 21 37.7 15.1 24.8 13.6 15.4 13.9ZM39.2 4.1 38.8 3 38 2.3 37 1.9 36 2.2 35.3 2.7 34.7 3.3 33.8 4.1 34.5 5 35 5.9 36 6.2 37.1 6.5 38.1 5.9 38.5 5Z"/>
<path fill="#2166ac" d="M17.7 18 22.4 21.3 33 22.4 35.8 20.2 32.5 16.6 23.6 15.8Z"/>
<path fill="#f4a582" d="M10.7 -11.3 28.3 -9.9 41.2 -14.3 42.4 -24.6 31.8 -32.6 21.2 -34.8 15.4 -31.9 11.9 -24.6Z"/>
<path fill="#d6604d" d="M15.4 -17.2 30.6 -16.5 33 -26 25.9 -31.2 17.7 -30.4Z"/>
<path fill="#b2182b" d="M22.1 -26.8 21.5 -28.5 21.3 -30.8 20.1 -30.5 19 -31.7 18.1 -30.2 17.8 -28.4 16.8 -26.8 17.7 -25.1 18 -23.1 19.1 -22.8 20.1 -23 21.2 -23 22 -24.6Z"/>
<path fill="#fddbc7" d="M42.4 -13.5 49.9 -12.8 48.7 -25.3 42.4 -25.7Z"/>
<path fill="#fddbc7" d="M53 76.1 110.9 76.1 112.2 65.7 86.1 64 86.1 55.4 53 55.4ZM154.9 67.4 174.2 69.5 183.9 68.3 182.5 62.3 168.7 55.4 157.7 52.8 153.6 58.8ZM126.2 32.1 122.4 28.1 116.1 25 106.6 24.7 97.2 22.2 90.5 25.8 83 28.2 85.5 32.1 85.2 35.6 89.6 38.9 98 40.4 107 40.2 114.9 38.6 118 35.2Z"/>
<path fill="#f4a582" d="M98 72.6 94.7 71.3 89.4 70.5 84.1 69.7 76.6 69.4 69.3 70 66.1 71.3 66.3 72.6 65 74 69.9 75.1 76.9 75.6 84.9 76.2 90.4 74.9 95.6 74ZM53 55.4 83.3 53.7 84.7 38.1 77.8 31.2 61.3 31.2 53 34.7ZM161.8 67.4 177 68.8 181.1 65.7 174.2 59.7 164.6 57.1 161.8 62.3Z"/>
<path fill="#d6604d" d="M58.5 72.6 58.3 72 57.6 71.4 56.4 71.1 55.1 71.1 54 71.5 52.3 71.8 52.3 72.6 52.8 73.4 53.6 74 55.1 74.2 56.6 74.5 58 74.1 58.7 73.3ZM97.1 70 96.9 69.7 96.6 69.4 96.1 68.9 95.4 69.2 94.7 69.2 94.2 69.6 94.1 70 94.3 70.4 94.5 71 95.3 71.2 96.1 71.1 96.7 70.9 97.4 70.6ZM59.9 46.8 72.3 47.6 79.2 34.7 75 30.4 62.6 31.2Z"/>
<path fill="#b2182b" d="M180.7 68 180.2 67.3 179.6 66.8 178.8 66.5 177.9 66.5 177 66.7 176.3 67.2 176.4 68 176.7 68.6 177.1 69.2 177.9 69.6 178.9 69.9 179.9 69.5 180.6 68.8ZM74.8 34.3 75.1 32.8 73.6 32.1 72.5 31.2 71 31.3 69.9 32.1 68.7 33 68.7 34.3 68.4 35.8 69.9 36.5 70.9 37.7 72.4 37 73.4 36.3 74.6 35.7Z"/>
<path fill="#d1e5f0" d="M171.7 67.4 167.5 66.3 159.2 65.6 151.6 64.9 142.1 65.1 132.1 65.3 128.3 66.4 127.3 67.4 123.3 68.8 135.2 69.1 142.4 69.6 151.3 69.8 159.6 69.3 166.9 68.6Z"/>
<path fill="#92c5de" d="M163.2 67.8 160.9 67.1 159.9 66.3 154.8 66 150 66.3 146.1 66.6 143.6 67.1 141.1 67.8 141.8 68.6 144.8 69.2 150 69.3 155 69.7 160.1 69.3 162 68.5ZM101.5 42.4 100.9 41.8 99.9 41 95.9 41 92.4 40.7 88.8 41 88.2 41.8 87.1 42.4 87.6 43.1 89.3 43.8 92.3 44.3 96.4 44.3 99.3 43.7 100.5 43.1ZM65.4 31.2 77.8 32.1 79.2 20.9 69.5 18.8 65.4 24.3Z"/>
<path fill="#ffffff" d="M112.3 29.5 111.4 28.8 110.5 28.3 109.2 27.6 107.3 28 105.6 28.2 104.1 28.7 103.3 29.5 105 30.1 105.4 30.9 107.1 31.3 108.9 31 110.3 30.7 111.6 30.2Z"/>
<path fill="#fddbc7" d="M112.8 -23.2 117 -18.6 127.6 -13.3 136 -11.3 142.3 -14.6 148.6 -19.2 153.9 -23.8 153.9 -31.7 149.7 -37 143.4 -38.6 137 -35 131.8 -32.4 123.3 -33.1 117 -34.6 113.9 -30.4Z"/>
<path fill="#f4a582" d="M151.1 -25.8 151.4 -28.3 148.6 -30.6 142.9 -31.3 137.7 -30.8 131.7 -30.7 128.1 -28.5 128.9 -25.8 129.9 -23.5 132.9 -21.7 138 -21.4 142.9 -20.4 148 -21.4 150.5 -23.5Z"/>
<path fill="#d6604d" d="M113.2 -21.9 118.1 -21.2 120.8 -27.8 119.5 -33.7 116.6 -34.6 113.9 -30.4ZM149.2 -35 149.2 -36.4 147.4 -37.2 145.5 -37.8 143.2 -38 141.3 -37.3 140.3 -36.2 139 -35 139.6 -33.7 142 -33.3 143.2 -32 145.3 -32.8 147.7 -32.7 148.8 -33.8Z"/>
<path fill="#ffffff" d="M127.2 -29.4 126.4 -30.2 125.6 -30.8 124.4 -31.1 123.2 -31 122.1 -30.7 121.3 -30.1 120.2 -29.4 120.9 -28.5 121.5 -27.6 122.9 -27.1 124.4 -27.5 125.5 -28 127 -28.4Z"/>
<path fill="#f4a582" d="M149.1 -41.2 149.2 -42 148.6 -42.9 147.1 -42.8 145.9 -42.9 144.6 -42.8 144.2 -41.9 143.2 -41.2 143.6 -40.4 144.6 -39.8 145.8 -39.3 147.1 -39.7 148.6 -39.6 149.2 -40.4ZM168.6 -44.9 173.9 -38.3 178.1 -37 179.2 -39.7 173.9 -44.9 169.7 -46.9Z"/>
<path fill="#ffffff" d="M82.9 62.3 83.9 60.8 75.5 60 66.4 59.8 57.3 59.1 51.3 60.3 42.7 61 43.2 62.3 43.7 63.6 49.4 64.6 57.3 65.5 67.4 65.4 75 64.6 79.8 63.5Z"/>
<path fill="#fddbc7" d="M118.1 57.8 113.8 56 112.3 53.9 107.3 52.7 101.3 52.8 97.7 54.7 94.5 56 90.9 57.8 91.6 60.1 96 61.8 100.9 63.4 107.2 62.9 111.9 61.5 117.5 60.3Z"/>
<rect x="-200" y="-70" width="420" height="160" fill="url(#grain)"/>
</g>
</g>
<use href="#spkr"/>
</g>
<use href="#rg"/><use href="#wt"/><use href="#bd"/><use href="#cs"/>
</g>
<text x="5.2" y="9.6" class="t">SSP 2-4.5 , 2030-2059</text>
<text x="255.7" y="9.6" class="t">SSP 2-4.5 , 2070-2099</text>
<text x="5.2" y="174.9" class="t">SSP 3-7.0 , 2030-2059</text>
<text x="255.7" y="174.9" class="t">SSP 3-7.0 , 2070-2099</text>
<text x="5.2" y="340.8" class="t">SSP 5-8.5 , 2030-2059</text>
<text x="255.7" y="340.8" class="t">SSP 5-8.5 , 2070-2099</text>
<rect x="244.40" y="498.70" width="8.05" height="8.00" fill="#b2182b"/>
<rect x="252.40" y="498.70" width="8.05" height="8.00" fill="#d6604d"/>
<rect x="260.40" y="498.70" width="8.05" height="8.00" fill="#f4a582"/>
<rect x="268.40" y="498.70" width="8.05" height="8.00" fill="#fddbc7"/>
<rect x="276.40" y="498.70" width="8.05" height="8.00" fill="#ffffff"/>
<rect x="284.40" y="498.70" width="8.05" height="8.00" fill="#ffffff"/>
<rect x="292.40" y="498.70" width="8.05" height="8.00" fill="#d1e5f0"/>
<rect x="300.40" y="498.70" width="8.05" height="8.00" fill="#92c5de"/>
<rect x="308.40" y="498.70" width="8.05" height="8.00" fill="#4393c3"/>
<rect x="316.40" y="498.70" width="8.05" height="8.00" fill="#2166ac"/>
<line x1="244.40" y1="506.70" x2="324.40" y2="506.70" stroke="#bbb" stroke-width="0.5"/>
<line x1="252.40" y1="506.10" x2="252.40" y2="507.50" stroke="#444" stroke-width="0.5"/>
<text x="252.40" y="512.70" class="l" text-anchor="middle">-40</text>
<line x1="260.40" y1="506.10" x2="260.40" y2="507.50" stroke="#444" stroke-width="0.5"/>
<text x="260.40" y="512.70" class="l" text-anchor="middle">-30</text>
<line x1="268.40" y1="506.10" x2="268.40" y2="507.50" stroke="#444" stroke-width="0.5"/>
<text x="268.40" y="512.70" class="l" text-anchor="middle">-20</text>
<line x1="276.40" y1="506.10" x2="276.40" y2="507.50" stroke="#444" stroke-width="0.5"/>
<text x="276.40" y="512.70" class="l" text-anchor="middle">-10</text>
<line x1="284.40" y1="506.10" x2="284.40" y2="507.50" stroke="#444" stroke-width="0.5"/>
<text x="284.40" y="512.70" class="l" text-anchor="middle">0</text>
<line x1="292.40" y1="506.10" x2="292.40" y2="507.50" stroke="#444" stroke-width="0.5"/>
<text x="292.40" y="512.70" class="l" text-anchor="middle">10</text>
<line x1="300.40" y1="506.10" x2="300.40" y2="507.50" stroke="#444" stroke-width="0.5"/>
<text x="300.40" y="512.70" class="l" text-anchor="middle">20</text>
<line x1="308.40" y1="506.10" x2="308.40" y2="507.50" stroke="#444" stroke-width="0.5"/>
<text x="308.40" y="512.70" class="l" text-anchor="middle">30</text>
<line x1="316.40" y1="506.10" x2="316.40" y2="507.50" stroke="#444" stroke-width="0.5"/>
<text x="316.40" y="512.70" class="l" text-anchor="middle">40</text>
<text x="186" y="505.6" class="c">% change of AI index</text>
<text x="186" y="511.4" class="c">compared to 1970-1999</text>
</svg>
</body></html>
